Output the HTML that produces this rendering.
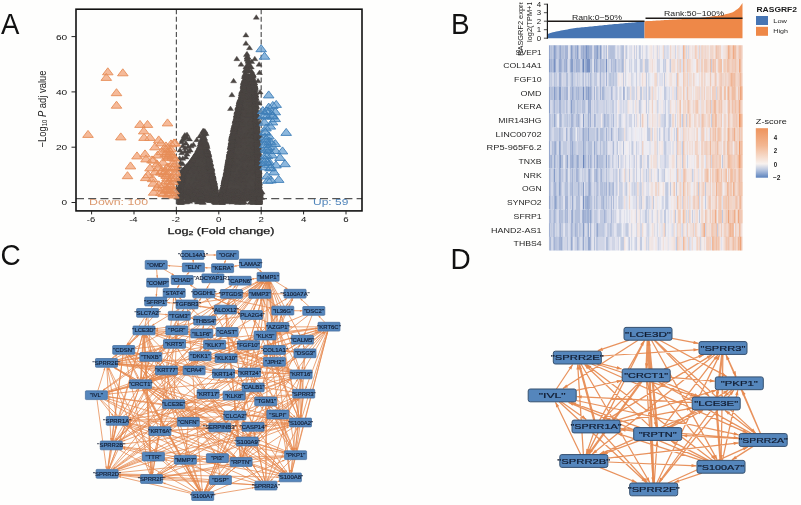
<!DOCTYPE html>
<html lang="en"><head><meta charset="utf-8"><title>Figure</title>
<style>
html,body{margin:0;padding:0;background:#fefefd;}
body{width:801px;height:505px;overflow:hidden;}
svg{display:block;font-family:'Liberation Sans', sans-serif;}
</style></head><body>
<svg width="801" height="505" viewBox="0 0 801 505">
<rect width="801" height="505" fill="#fefefd"/>
<filter id="soft" x="0" y="0" width="100%" height="100%" filterUnits="userSpaceOnUse" color-interpolation-filters="sRGB"><feGaussianBlur stdDeviation="0.45"/></filter>
<g filter="url(#soft)">
<text x="1" y="33.6" font-size="29" fill="#111" textLength="18.4" lengthAdjust="spacingAndGlyphs">A</text>
<text x="450.9" y="33.8" font-size="29" fill="#111" textLength="18.6" lengthAdjust="spacingAndGlyphs">B</text>
<text x="0.5" y="264.6" font-size="29" fill="#111" textLength="20.2" lengthAdjust="spacingAndGlyphs">C</text>
<text x="450.5" y="268.7" font-size="29" fill="#111" textLength="20.2" lengthAdjust="spacingAndGlyphs">D</text>
<g id="volcano">
<clipPath id="vc"><rect x="76" y="9.2" width="286" height="201.70000000000002"/></clipPath>
<line x1="176.4" y1="9.2" x2="176.4" y2="210.9" stroke="#555" stroke-width="1.2" stroke-dasharray="5,2.6"/>
<line x1="261.2" y1="9.2" x2="261.2" y2="210.9" stroke="#555" stroke-width="1.2" stroke-dasharray="5,2.6"/>
<line x1="76" y1="198.6" x2="362" y2="198.6" stroke="#555" stroke-width="1.2" stroke-dasharray="8,4.2"/>
<g clip-path="url(#vc)">
<polygon points="222.2,195.6 222.3,192.8 222.5,190.1 223.1,187.3 223.7,184.5 224.3,181.8 225.0,179.0 225.6,176.2 226.2,173.5 226.7,170.7 227.2,167.9 227.7,165.2 228.2,162.4 228.7,159.6 229.2,156.9 229.6,154.1 230.0,151.3 230.4,148.6 230.8,145.8 231.2,143.1 231.6,140.3 232.0,137.5 232.6,134.8 233.1,132.0 233.7,129.2 234.3,126.5 234.8,123.7 235.4,120.9 236.0,118.2 236.5,115.4 237.1,112.6 237.7,109.9 238.3,107.1 239.0,104.3 239.6,101.6 240.3,98.8 241.0,96.0 241.7,93.3 242.4,90.5 243.0,87.8 243.4,85.0 243.9,82.2 244.3,79.5 244.7,76.7 245.1,73.9 252.6,73.9 253.1,76.7 253.6,79.5 254.0,82.2 254.5,85.0 255.0,87.8 255.2,90.5 255.3,93.3 255.5,96.0 255.6,98.8 255.7,101.6 255.9,104.3 256.0,107.1 256.2,109.9 256.3,112.6 256.4,115.4 256.5,118.2 256.6,120.9 256.7,123.7 256.8,126.5 256.9,129.2 257.1,132.0 257.2,134.8 257.4,137.5 257.5,140.3 257.7,143.1 257.8,145.8 257.9,148.6 258.1,151.3 258.1,154.1 258.2,156.9 258.3,159.6 258.4,162.4 258.4,165.2 258.5,167.9 258.6,170.7 258.7,173.5 258.8,176.2 258.8,179.0 258.9,181.8 259.0,184.5 259.1,187.3 259.1,190.1 259.2,192.8 259.2,195.6" fill="#4b4643"/>
<polygon points="179.9,195.6 180.0,192.8 180.0,190.1 180.1,187.3 180.1,184.5 180.1,181.8 180.2,179.0 180.6,176.2 181.5,173.5 182.3,170.7 184.9,167.9 187.4,165.2 189.7,162.4 191.7,159.6 193.6,156.9 195.4,154.1 197.0,151.3 198.3,148.6 199.3,145.8 200.3,143.1 201.4,140.3 205.9,140.3 206.5,143.1 207.1,145.8 207.6,148.6 208.2,151.3 208.7,154.1 209.3,156.9 209.8,159.6 210.4,162.4 211.0,165.2 211.5,167.9 212.1,170.7 212.7,173.5 213.2,176.2 213.8,179.0 214.3,181.8 214.9,184.5 215.4,187.3 216.0,190.1 216.0,192.8 216.0,195.6" fill="#4b4643"/>
<path d="M179.6 192.8L179.6 197.2Q218.8 208.6 260.1 197.2L260.1 192.8z" fill="#4b4643"/>
<path d="M225.1 163.7l3-4.5 3 4.5zM226.3 157.5l3-4.5 3 4.5zM256.3 201.1l3-4.5 3 4.5zM240.5 84.5l3-4.5 3 4.5zM245.1 117.1l3-4.5 3 4.5zM244.9 59.3l3-4.5 3 4.5zM230.2 165.9l3-4.5 3 4.5zM253.2 115.3l3-4.5 3 4.5zM219.1 198.3l3-4.5 3 4.5zM254.6 165.1l3-4.5 3 4.5zM246.4 167.1l3-4.5 3 4.5zM253.2 125.6l3-4.5 3 4.5zM254.9 165.1l3-4.5 3 4.5zM245.7 82.3l3-4.5 3 4.5zM241.2 85.3l3-4.5 3 4.5zM228.9 143.1l3-4.5 3 4.5zM223.7 198.7l3-4.5 3 4.5zM228.9 153.8l3-4.5 3 4.5zM254.8 170.2l3-4.5 3 4.5zM221.4 187.5l3-4.5 3 4.5zM255.6 176.5l3-4.5 3 4.5zM255.0 149.6l3-4.5 3 4.5zM248.3 199.3l3-4.5 3 4.5zM252.2 89.3l3-4.5 3 4.5zM256.3 193.5l3-4.5 3 4.5zM220.5 186.1l3-4.5 3 4.5zM219.2 204.5l3-4.5 3 4.5zM249.7 76.6l3-4.5 3 4.5zM253.8 142.5l3-4.5 3 4.5zM219.1 193.7l3-4.5 3 4.5zM238.7 202.5l3-4.5 3 4.5zM232.0 130.5l3-4.5 3 4.5zM239.6 185.4l3-4.5 3 4.5zM226.0 162.8l3-4.5 3 4.5zM248.9 88.0l3-4.5 3 4.5zM252.3 134.5l3-4.5 3 4.5zM218.7 202.1l3-4.5 3 4.5zM227.3 157.7l3-4.5 3 4.5zM222.7 181.5l3-4.5 3 4.5zM253.6 140.4l3-4.5 3 4.5zM255.3 195.8l3-4.5 3 4.5zM229.2 140.6l3-4.5 3 4.5zM254.9 162.4l3-4.5 3 4.5zM247.5 152.2l3-4.5 3 4.5zM220.6 190.6l3-4.5 3 4.5zM247.7 84.6l3-4.5 3 4.5zM231.5 129.6l3-4.5 3 4.5zM243.4 77.0l3-4.5 3 4.5zM255.8 175.5l3-4.5 3 4.5zM227.8 149.6l3-4.5 3 4.5zM254.2 137.0l3-4.5 3 4.5zM256.7 203.0l3-4.5 3 4.5zM256.3 184.7l3-4.5 3 4.5zM231.9 128.4l3-4.5 3 4.5zM256.4 193.2l3-4.5 3 4.5zM240.1 170.4l3-4.5 3 4.5zM254.3 136.4l3-4.5 3 4.5zM219.9 197.2l3-4.5 3 4.5zM235.9 111.9l3-4.5 3 4.5zM229.8 134.8l3-4.5 3 4.5zM256.0 202.9l3-4.5 3 4.5zM219.3 203.0l3-4.5 3 4.5zM229.0 200.9l3-4.5 3 4.5zM250.2 149.1l3-4.5 3 4.5zM240.8 187.7l3-4.5 3 4.5zM219.6 195.2l3-4.5 3 4.5zM228.4 148.6l3-4.5 3 4.5zM221.4 195.9l3-4.5 3 4.5zM228.3 144.3l3-4.5 3 4.5zM243.8 67.7l3-4.5 3 4.5zM221.1 186.2l3-4.5 3 4.5zM224.6 165.4l3-4.5 3 4.5zM221.6 184.0l3-4.5 3 4.5zM223.2 174.1l3-4.5 3 4.5zM231.2 141.1l3-4.5 3 4.5zM254.1 147.6l3-4.5 3 4.5zM254.6 153.5l3-4.5 3 4.5zM247.4 83.6l3-4.5 3 4.5zM227.8 160.2l3-4.5 3 4.5zM228.5 197.4l3-4.5 3 4.5zM251.7 195.8l3-4.5 3 4.5zM224.1 169.7l3-4.5 3 4.5zM254.5 204.4l3-4.5 3 4.5zM229.2 136.8l3-4.5 3 4.5zM256.6 195.2l3-4.5 3 4.5zM218.7 202.6l3-4.5 3 4.5zM249.7 136.5l3-4.5 3 4.5zM247.0 124.1l3-4.5 3 4.5zM224.0 177.0l3-4.5 3 4.5zM226.4 158.3l3-4.5 3 4.5zM252.9 117.3l3-4.5 3 4.5zM247.1 204.3l3-4.5 3 4.5zM253.1 131.7l3-4.5 3 4.5zM219.4 197.0l3-4.5 3 4.5zM255.4 180.3l3-4.5 3 4.5zM254.9 155.0l3-4.5 3 4.5zM235.0 114.7l3-4.5 3 4.5zM233.1 173.6l3-4.5 3 4.5zM218.7 203.5l3-4.5 3 4.5zM236.1 109.4l3-4.5 3 4.5zM253.6 142.7l3-4.5 3 4.5zM245.4 85.7l3-4.5 3 4.5zM229.1 179.7l3-4.5 3 4.5zM255.3 188.7l3-4.5 3 4.5zM238.3 189.9l3-4.5 3 4.5zM236.7 104.9l3-4.5 3 4.5zM256.1 204.3l3-4.5 3 4.5zM224.8 166.8l3-4.5 3 4.5zM250.6 204.4l3-4.5 3 4.5zM243.6 153.5l3-4.5 3 4.5zM227.9 148.2l3-4.5 3 4.5zM229.7 193.7l3-4.5 3 4.5zM223.6 174.3l3-4.5 3 4.5zM235.8 199.8l3-4.5 3 4.5zM233.7 114.4l3-4.5 3 4.5zM255.5 167.0l3-4.5 3 4.5zM238.9 180.0l3-4.5 3 4.5zM245.5 71.2l3-4.5 3 4.5zM219.2 195.1l3-4.5 3 4.5zM224.4 175.7l3-4.5 3 4.5zM254.6 150.5l3-4.5 3 4.5zM256.3 190.7l3-4.5 3 4.5zM241.4 78.5l3-4.5 3 4.5zM245.1 63.1l3-4.5 3 4.5zM244.2 103.9l3-4.5 3 4.5zM256.1 204.5l3-4.5 3 4.5zM251.2 84.7l3-4.5 3 4.5zM220.2 192.8l3-4.5 3 4.5zM253.6 143.8l3-4.5 3 4.5zM248.3 68.9l3-4.5 3 4.5zM255.9 173.9l3-4.5 3 4.5zM254.1 133.4l3-4.5 3 4.5zM255.4 177.8l3-4.5 3 4.5zM228.4 141.0l3-4.5 3 4.5zM226.6 166.0l3-4.5 3 4.5zM223.6 177.4l3-4.5 3 4.5zM254.8 149.4l3-4.5 3 4.5zM231.8 165.4l3-4.5 3 4.5zM239.1 95.5l3-4.5 3 4.5zM255.9 177.9l3-4.5 3 4.5zM220.2 188.7l3-4.5 3 4.5zM252.1 153.4l3-4.5 3 4.5zM238.0 97.9l3-4.5 3 4.5zM225.8 162.5l3-4.5 3 4.5zM255.5 170.0l3-4.5 3 4.5zM256.1 180.0l3-4.5 3 4.5zM250.7 85.3l3-4.5 3 4.5zM256.1 201.8l3-4.5 3 4.5zM220.0 201.4l3-4.5 3 4.5zM252.7 173.2l3-4.5 3 4.5zM243.6 171.0l3-4.5 3 4.5zM220.7 202.4l3-4.5 3 4.5zM226.8 154.5l3-4.5 3 4.5zM233.6 138.2l3-4.5 3 4.5zM249.4 99.1l3-4.5 3 4.5zM226.0 163.1l3-4.5 3 4.5zM230.1 181.4l3-4.5 3 4.5zM255.5 201.5l3-4.5 3 4.5zM244.4 58.6l3-4.5 3 4.5zM256.3 194.4l3-4.5 3 4.5zM254.4 149.9l3-4.5 3 4.5zM247.8 97.6l3-4.5 3 4.5zM241.5 82.2l3-4.5 3 4.5zM223.3 174.5l3-4.5 3 4.5zM230.0 136.1l3-4.5 3 4.5zM236.0 113.0l3-4.5 3 4.5zM250.8 85.8l3-4.5 3 4.5zM225.0 168.0l3-4.5 3 4.5zM228.1 145.0l3-4.5 3 4.5zM252.0 122.1l3-4.5 3 4.5zM226.3 157.1l3-4.5 3 4.5zM234.6 113.3l3-4.5 3 4.5zM255.5 163.2l3-4.5 3 4.5zM251.8 89.8l3-4.5 3 4.5zM255.4 193.8l3-4.5 3 4.5zM256.0 185.9l3-4.5 3 4.5zM224.6 169.5l3-4.5 3 4.5zM255.4 158.8l3-4.5 3 4.5zM244.0 55.8l3-4.5 3 4.5zM240.0 151.5l3-4.5 3 4.5zM255.5 203.3l3-4.5 3 4.5zM252.4 118.0l3-4.5 3 4.5zM221.8 188.2l3-4.5 3 4.5zM253.9 138.7l3-4.5 3 4.5zM255.6 190.6l3-4.5 3 4.5zM233.4 199.4l3-4.5 3 4.5zM255.9 178.0l3-4.5 3 4.5zM227.2 154.9l3-4.5 3 4.5zM237.4 101.4l3-4.5 3 4.5zM253.9 129.4l3-4.5 3 4.5zM254.2 149.4l3-4.5 3 4.5zM228.1 146.7l3-4.5 3 4.5zM228.8 138.8l3-4.5 3 4.5zM254.9 183.8l3-4.5 3 4.5zM255.7 190.4l3-4.5 3 4.5zM256.2 200.7l3-4.5 3 4.5zM245.2 100.0l3-4.5 3 4.5zM252.6 138.5l3-4.5 3 4.5zM240.2 90.9l3-4.5 3 4.5zM228.3 170.7l3-4.5 3 4.5zM242.9 68.9l3-4.5 3 4.5zM222.0 183.4l3-4.5 3 4.5zM256.0 192.1l3-4.5 3 4.5zM242.6 193.4l3-4.5 3 4.5zM240.8 89.4l3-4.5 3 4.5zM252.7 94.8l3-4.5 3 4.5zM225.1 165.3l3-4.5 3 4.5zM255.1 147.6l3-4.5 3 4.5zM219.6 190.0l3-4.5 3 4.5zM225.9 159.1l3-4.5 3 4.5zM255.7 177.7l3-4.5 3 4.5zM223.9 175.1l3-4.5 3 4.5zM251.9 91.9l3-4.5 3 4.5zM256.0 203.6l3-4.5 3 4.5zM247.8 145.8l3-4.5 3 4.5zM228.2 151.5l3-4.5 3 4.5zM234.0 129.3l3-4.5 3 4.5zM253.4 120.2l3-4.5 3 4.5zM240.3 86.8l3-4.5 3 4.5zM228.3 144.5l3-4.5 3 4.5zM246.4 162.0l3-4.5 3 4.5zM236.6 103.5l3-4.5 3 4.5zM242.0 147.0l3-4.5 3 4.5zM218.7 203.3l3-4.5 3 4.5zM226.0 163.0l3-4.5 3 4.5zM232.0 126.2l3-4.5 3 4.5zM233.4 117.9l3-4.5 3 4.5zM231.9 193.1l3-4.5 3 4.5zM218.9 202.0l3-4.5 3 4.5zM253.7 116.1l3-4.5 3 4.5zM250.3 157.9l3-4.5 3 4.5zM253.4 198.0l3-4.5 3 4.5zM219.3 193.1l3-4.5 3 4.5zM249.5 201.4l3-4.5 3 4.5zM251.5 84.8l3-4.5 3 4.5zM238.4 96.0l3-4.5 3 4.5zM227.3 148.9l3-4.5 3 4.5zM244.9 136.6l3-4.5 3 4.5zM255.2 150.5l3-4.5 3 4.5zM225.3 195.0l3-4.5 3 4.5zM255.5 180.8l3-4.5 3 4.5zM254.6 138.6l3-4.5 3 4.5zM233.4 160.3l3-4.5 3 4.5zM224.4 169.4l3-4.5 3 4.5zM229.2 137.5l3-4.5 3 4.5zM246.7 105.9l3-4.5 3 4.5zM255.2 152.3l3-4.5 3 4.5zM219.8 195.6l3-4.5 3 4.5zM239.7 172.3l3-4.5 3 4.5zM252.6 96.8l3-4.5 3 4.5zM225.7 163.3l3-4.5 3 4.5zM255.3 185.1l3-4.5 3 4.5zM233.3 124.8l3-4.5 3 4.5zM221.7 182.2l3-4.5 3 4.5zM220.9 186.2l3-4.5 3 4.5zM255.1 193.7l3-4.5 3 4.5zM227.6 147.2l3-4.5 3 4.5zM219.1 193.1l3-4.5 3 4.5zM252.4 90.5l3-4.5 3 4.5zM253.0 116.4l3-4.5 3 4.5zM244.1 98.7l3-4.5 3 4.5zM252.0 97.4l3-4.5 3 4.5zM255.8 194.2l3-4.5 3 4.5zM253.2 103.3l3-4.5 3 4.5zM252.9 118.1l3-4.5 3 4.5zM229.7 138.8l3-4.5 3 4.5zM254.3 186.2l3-4.5 3 4.5zM255.3 193.8l3-4.5 3 4.5zM252.1 102.6l3-4.5 3 4.5zM232.9 150.9l3-4.5 3 4.5zM227.0 159.1l3-4.5 3 4.5zM227.5 152.5l3-4.5 3 4.5zM226.1 159.5l3-4.5 3 4.5zM245.6 98.6l3-4.5 3 4.5zM251.6 87.4l3-4.5 3 4.5zM231.8 127.5l3-4.5 3 4.5zM245.6 85.9l3-4.5 3 4.5zM233.7 159.2l3-4.5 3 4.5zM256.0 173.7l3-4.5 3 4.5zM223.9 169.8l3-4.5 3 4.5zM254.0 140.4l3-4.5 3 4.5zM234.3 116.2l3-4.5 3 4.5zM245.4 63.4l3-4.5 3 4.5zM239.2 92.9l3-4.5 3 4.5zM230.9 128.6l3-4.5 3 4.5zM256.2 198.8l3-4.5 3 4.5zM253.1 138.6l3-4.5 3 4.5zM234.5 115.8l3-4.5 3 4.5zM254.4 135.6l3-4.5 3 4.5zM254.2 157.5l3-4.5 3 4.5zM255.0 147.1l3-4.5 3 4.5zM240.8 84.5l3-4.5 3 4.5zM255.2 171.1l3-4.5 3 4.5zM240.5 112.8l3-4.5 3 4.5zM254.9 167.2l3-4.5 3 4.5zM245.6 101.7l3-4.5 3 4.5zM225.4 167.0l3-4.5 3 4.5zM252.6 119.7l3-4.5 3 4.5zM230.7 143.7l3-4.5 3 4.5zM253.4 201.1l3-4.5 3 4.5zM249.3 157.1l3-4.5 3 4.5zM223.8 173.1l3-4.5 3 4.5zM254.5 164.4l3-4.5 3 4.5zM232.7 126.7l3-4.5 3 4.5zM251.2 87.3l3-4.5 3 4.5zM222.1 179.4l3-4.5 3 4.5zM255.1 204.2l3-4.5 3 4.5zM229.1 175.3l3-4.5 3 4.5zM256.4 195.8l3-4.5 3 4.5zM246.7 173.6l3-4.5 3 4.5zM255.8 203.3l3-4.5 3 4.5zM218.9 196.4l3-4.5 3 4.5zM229.1 139.3l3-4.5 3 4.5zM255.2 157.9l3-4.5 3 4.5zM254.9 149.7l3-4.5 3 4.5zM233.2 126.8l3-4.5 3 4.5zM241.0 87.7l3-4.5 3 4.5zM254.7 172.4l3-4.5 3 4.5zM249.5 200.6l3-4.5 3 4.5zM251.4 87.8l3-4.5 3 4.5zM235.5 128.8l3-4.5 3 4.5zM251.9 90.4l3-4.5 3 4.5zM221.8 182.5l3-4.5 3 4.5zM253.0 127.2l3-4.5 3 4.5zM220.8 187.8l3-4.5 3 4.5zM236.5 116.3l3-4.5 3 4.5zM255.7 160.6l3-4.5 3 4.5zM251.6 201.5l3-4.5 3 4.5zM252.2 94.4l3-4.5 3 4.5zM219.6 201.0l3-4.5 3 4.5zM220.5 195.9l3-4.5 3 4.5zM254.7 173.2l3-4.5 3 4.5zM253.8 153.5l3-4.5 3 4.5zM252.8 159.6l3-4.5 3 4.5zM245.6 200.1l3-4.5 3 4.5zM236.0 109.2l3-4.5 3 4.5zM238.4 95.9l3-4.5 3 4.5zM229.1 140.1l3-4.5 3 4.5zM255.1 188.5l3-4.5 3 4.5zM227.1 201.2l3-4.5 3 4.5zM242.7 77.8l3-4.5 3 4.5zM239.8 161.4l3-4.5 3 4.5zM219.9 188.6l3-4.5 3 4.5zM252.1 103.2l3-4.5 3 4.5zM228.3 150.7l3-4.5 3 4.5zM221.1 192.2l3-4.5 3 4.5zM235.4 110.6l3-4.5 3 4.5zM224.2 169.1l3-4.5 3 4.5zM229.9 198.9l3-4.5 3 4.5zM231.6 203.2l3-4.5 3 4.5zM238.7 204.4l3-4.5 3 4.5zM233.5 147.1l3-4.5 3 4.5zM220.5 189.2l3-4.5 3 4.5zM236.5 103.5l3-4.5 3 4.5zM229.1 137.9l3-4.5 3 4.5zM249.9 119.5l3-4.5 3 4.5zM221.7 180.7l3-4.5 3 4.5zM231.4 199.1l3-4.5 3 4.5zM235.4 140.8l3-4.5 3 4.5zM256.0 204.2l3-4.5 3 4.5zM236.6 164.1l3-4.5 3 4.5zM254.9 198.5l3-4.5 3 4.5zM253.0 135.2l3-4.5 3 4.5zM227.1 202.8l3-4.5 3 4.5zM219.0 193.6l3-4.5 3 4.5zM235.9 105.6l3-4.5 3 4.5zM252.7 121.6l3-4.5 3 4.5zM229.3 137.1l3-4.5 3 4.5zM228.3 151.6l3-4.5 3 4.5zM249.5 82.4l3-4.5 3 4.5zM224.0 175.5l3-4.5 3 4.5zM255.8 174.3l3-4.5 3 4.5zM254.8 157.7l3-4.5 3 4.5zM219.0 202.8l3-4.5 3 4.5zM255.8 172.0l3-4.5 3 4.5zM234.0 118.1l3-4.5 3 4.5zM235.4 147.4l3-4.5 3 4.5zM235.6 113.9l3-4.5 3 4.5zM254.8 171.6l3-4.5 3 4.5zM220.5 187.9l3-4.5 3 4.5zM224.5 168.8l3-4.5 3 4.5zM245.0 130.0l3-4.5 3 4.5zM234.1 113.5l3-4.5 3 4.5zM253.0 119.5l3-4.5 3 4.5zM223.7 175.3l3-4.5 3 4.5zM256.6 203.6l3-4.5 3 4.5zM255.4 175.8l3-4.5 3 4.5zM229.2 167.8l3-4.5 3 4.5zM250.2 77.1l3-4.5 3 4.5zM230.6 146.4l3-4.5 3 4.5zM252.5 109.4l3-4.5 3 4.5zM249.2 99.1l3-4.5 3 4.5zM251.4 91.5l3-4.5 3 4.5zM253.0 123.8l3-4.5 3 4.5zM247.3 91.7l3-4.5 3 4.5zM254.8 144.5l3-4.5 3 4.5zM255.1 168.1l3-4.5 3 4.5zM245.9 91.1l3-4.5 3 4.5zM221.3 183.2l3-4.5 3 4.5zM252.5 125.4l3-4.5 3 4.5zM250.6 81.7l3-4.5 3 4.5zM248.9 137.6l3-4.5 3 4.5zM255.5 158.7l3-4.5 3 4.5zM255.4 152.3l3-4.5 3 4.5zM227.5 149.3l3-4.5 3 4.5zM254.4 135.4l3-4.5 3 4.5zM234.7 115.7l3-4.5 3 4.5zM236.2 106.9l3-4.5 3 4.5zM255.5 171.9l3-4.5 3 4.5zM219.2 193.1l3-4.5 3 4.5zM244.9 133.7l3-4.5 3 4.5zM218.9 198.4l3-4.5 3 4.5zM226.4 159.3l3-4.5 3 4.5zM240.8 194.0l3-4.5 3 4.5zM253.4 144.9l3-4.5 3 4.5zM224.5 174.3l3-4.5 3 4.5zM256.0 175.2l3-4.5 3 4.5zM223.2 175.1l3-4.5 3 4.5zM255.5 168.4l3-4.5 3 4.5zM254.2 132.0l3-4.5 3 4.5zM251.4 84.7l3-4.5 3 4.5zM221.3 182.2l3-4.5 3 4.5zM225.6 161.1l3-4.5 3 4.5zM219.1 194.8l3-4.5 3 4.5zM242.3 82.9l3-4.5 3 4.5zM239.2 180.0l3-4.5 3 4.5zM253.4 123.5l3-4.5 3 4.5zM232.8 120.2l3-4.5 3 4.5zM230.7 130.6l3-4.5 3 4.5zM254.8 154.7l3-4.5 3 4.5zM219.2 195.6l3-4.5 3 4.5zM254.9 164.1l3-4.5 3 4.5zM229.7 137.2l3-4.5 3 4.5zM225.5 165.5l3-4.5 3 4.5zM249.0 151.9l3-4.5 3 4.5zM242.2 78.8l3-4.5 3 4.5zM252.9 108.7l3-4.5 3 4.5zM255.5 159.5l3-4.5 3 4.5zM237.8 99.9l3-4.5 3 4.5zM220.8 186.1l3-4.5 3 4.5zM226.8 155.3l3-4.5 3 4.5zM250.0 82.4l3-4.5 3 4.5zM255.2 147.2l3-4.5 3 4.5zM238.9 92.9l3-4.5 3 4.5zM247.6 179.7l3-4.5 3 4.5zM242.2 84.2l3-4.5 3 4.5zM221.0 190.5l3-4.5 3 4.5zM231.1 130.4l3-4.5 3 4.5zM255.4 158.7l3-4.5 3 4.5zM252.5 104.3l3-4.5 3 4.5zM254.2 175.3l3-4.5 3 4.5zM228.8 167.2l3-4.5 3 4.5zM241.9 162.3l3-4.5 3 4.5zM255.7 185.1l3-4.5 3 4.5zM250.4 143.2l3-4.5 3 4.5zM255.8 168.6l3-4.5 3 4.5zM237.0 181.4l3-4.5 3 4.5zM255.5 163.6l3-4.5 3 4.5zM223.2 185.3l3-4.5 3 4.5zM255.8 195.9l3-4.5 3 4.5zM256.4 192.9l3-4.5 3 4.5zM254.4 182.4l3-4.5 3 4.5zM246.6 117.1l3-4.5 3 4.5zM223.0 174.7l3-4.5 3 4.5zM242.9 93.2l3-4.5 3 4.5zM252.2 115.4l3-4.5 3 4.5zM249.1 91.5l3-4.5 3 4.5zM232.4 183.1l3-4.5 3 4.5zM254.0 129.2l3-4.5 3 4.5zM252.3 104.5l3-4.5 3 4.5zM229.4 137.3l3-4.5 3 4.5zM236.4 107.4l3-4.5 3 4.5zM251.2 204.3l3-4.5 3 4.5zM227.5 148.6l3-4.5 3 4.5zM254.1 134.9l3-4.5 3 4.5zM242.2 84.6l3-4.5 3 4.5zM254.3 145.9l3-4.5 3 4.5zM221.8 181.7l3-4.5 3 4.5zM234.2 118.4l3-4.5 3 4.5zM233.4 120.1l3-4.5 3 4.5zM219.2 202.1l3-4.5 3 4.5zM228.2 145.3l3-4.5 3 4.5zM254.6 150.0l3-4.5 3 4.5zM227.4 153.0l3-4.5 3 4.5zM228.5 192.4l3-4.5 3 4.5zM231.6 132.4l3-4.5 3 4.5zM231.1 128.8l3-4.5 3 4.5zM232.1 123.4l3-4.5 3 4.5zM255.9 197.1l3-4.5 3 4.5zM237.0 101.9l3-4.5 3 4.5zM221.8 189.3l3-4.5 3 4.5zM226.6 156.6l3-4.5 3 4.5zM237.3 108.6l3-4.5 3 4.5zM248.6 99.3l3-4.5 3 4.5zM233.2 120.9l3-4.5 3 4.5zM240.9 88.5l3-4.5 3 4.5zM255.7 182.0l3-4.5 3 4.5zM256.3 183.0l3-4.5 3 4.5zM252.3 107.5l3-4.5 3 4.5zM252.4 107.1l3-4.5 3 4.5zM226.8 161.0l3-4.5 3 4.5zM244.2 153.4l3-4.5 3 4.5zM225.1 162.9l3-4.5 3 4.5zM232.3 123.2l3-4.5 3 4.5zM253.4 125.2l3-4.5 3 4.5zM256.6 204.1l3-4.5 3 4.5zM224.3 171.0l3-4.5 3 4.5zM254.3 132.8l3-4.5 3 4.5zM251.3 127.8l3-4.5 3 4.5zM253.8 116.2l3-4.5 3 4.5zM251.9 169.7l3-4.5 3 4.5zM235.1 108.5l3-4.5 3 4.5zM252.4 115.9l3-4.5 3 4.5zM254.2 140.1l3-4.5 3 4.5zM222.7 176.3l3-4.5 3 4.5zM255.0 144.4l3-4.5 3 4.5zM225.0 166.8l3-4.5 3 4.5zM243.1 161.3l3-4.5 3 4.5zM255.5 183.9l3-4.5 3 4.5zM229.2 148.2l3-4.5 3 4.5zM242.3 72.4l3-4.5 3 4.5zM220.6 185.8l3-4.5 3 4.5zM255.7 181.0l3-4.5 3 4.5zM234.1 113.8l3-4.5 3 4.5zM251.9 196.4l3-4.5 3 4.5zM221.8 189.4l3-4.5 3 4.5zM253.4 113.7l3-4.5 3 4.5zM225.5 161.6l3-4.5 3 4.5zM255.6 162.1l3-4.5 3 4.5zM254.1 173.2l3-4.5 3 4.5zM237.1 101.5l3-4.5 3 4.5zM254.4 149.0l3-4.5 3 4.5zM232.9 121.3l3-4.5 3 4.5zM248.3 173.1l3-4.5 3 4.5zM255.1 165.8l3-4.5 3 4.5zM255.5 170.2l3-4.5 3 4.5zM254.7 141.0l3-4.5 3 4.5zM232.7 158.0l3-4.5 3 4.5zM219.1 195.1l3-4.5 3 4.5zM226.6 157.6l3-4.5 3 4.5zM221.6 186.1l3-4.5 3 4.5zM239.4 175.2l3-4.5 3 4.5zM239.4 160.7l3-4.5 3 4.5zM228.5 152.2l3-4.5 3 4.5zM253.8 151.0l3-4.5 3 4.5zM222.6 177.8l3-4.5 3 4.5zM227.9 147.4l3-4.5 3 4.5zM231.1 167.3l3-4.5 3 4.5zM251.7 186.8l3-4.5 3 4.5zM242.1 97.0l3-4.5 3 4.5zM232.8 139.4l3-4.5 3 4.5zM252.6 121.9l3-4.5 3 4.5zM224.3 203.8l3-4.5 3 4.5zM219.0 194.2l3-4.5 3 4.5zM220.1 195.1l3-4.5 3 4.5zM236.0 107.1l3-4.5 3 4.5zM219.0 193.3l3-4.5 3 4.5zM228.5 164.7l3-4.5 3 4.5zM255.9 189.5l3-4.5 3 4.5zM251.8 99.2l3-4.5 3 4.5zM255.0 159.3l3-4.5 3 4.5zM244.4 60.8l3-4.5 3 4.5zM223.8 172.1l3-4.5 3 4.5zM253.9 135.9l3-4.5 3 4.5zM253.1 107.4l3-4.5 3 4.5zM252.6 129.6l3-4.5 3 4.5zM226.9 152.6l3-4.5 3 4.5zM256.1 204.1l3-4.5 3 4.5zM255.6 173.5l3-4.5 3 4.5zM248.4 191.9l3-4.5 3 4.5zM256.2 199.8l3-4.5 3 4.5zM252.8 114.1l3-4.5 3 4.5zM245.4 97.9l3-4.5 3 4.5zM252.7 98.3l3-4.5 3 4.5zM253.1 119.5l3-4.5 3 4.5zM253.6 116.9l3-4.5 3 4.5zM254.0 132.7l3-4.5 3 4.5zM240.8 86.8l3-4.5 3 4.5zM255.3 200.5l3-4.5 3 4.5zM240.5 86.0l3-4.5 3 4.5zM241.3 158.9l3-4.5 3 4.5zM256.1 195.4l3-4.5 3 4.5zM256.2 187.7l3-4.5 3 4.5zM230.2 134.0l3-4.5 3 4.5zM219.2 203.1l3-4.5 3 4.5zM218.9 198.9l3-4.5 3 4.5zM225.9 175.3l3-4.5 3 4.5zM253.0 118.7l3-4.5 3 4.5zM236.5 103.4l3-4.5 3 4.5zM240.8 113.8l3-4.5 3 4.5zM252.8 103.5l3-4.5 3 4.5zM252.1 96.3l3-4.5 3 4.5zM248.4 137.7l3-4.5 3 4.5zM252.4 122.7l3-4.5 3 4.5zM240.0 141.3l3-4.5 3 4.5zM246.3 135.4l3-4.5 3 4.5zM227.1 152.2l3-4.5 3 4.5zM248.9 128.8l3-4.5 3 4.5zM222.3 178.2l3-4.5 3 4.5zM252.5 96.7l3-4.5 3 4.5zM243.9 108.5l3-4.5 3 4.5zM229.0 204.1l3-4.5 3 4.5zM225.3 165.2l3-4.5 3 4.5zM228.0 149.4l3-4.5 3 4.5zM249.1 77.8l3-4.5 3 4.5zM256.0 199.5l3-4.5 3 4.5zM240.8 181.0l3-4.5 3 4.5zM254.9 165.1l3-4.5 3 4.5zM233.1 170.9l3-4.5 3 4.5zM251.6 88.6l3-4.5 3 4.5zM255.8 197.3l3-4.5 3 4.5zM235.2 109.5l3-4.5 3 4.5zM244.3 69.2l3-4.5 3 4.5zM245.7 173.1l3-4.5 3 4.5zM255.1 199.0l3-4.5 3 4.5zM255.7 176.6l3-4.5 3 4.5zM255.7 187.4l3-4.5 3 4.5zM256.3 201.6l3-4.5 3 4.5zM255.4 177.9l3-4.5 3 4.5zM254.7 148.0l3-4.5 3 4.5zM231.2 133.1l3-4.5 3 4.5zM252.5 97.2l3-4.5 3 4.5zM250.3 78.3l3-4.5 3 4.5zM221.0 189.0l3-4.5 3 4.5zM228.2 145.0l3-4.5 3 4.5zM231.5 183.9l3-4.5 3 4.5zM232.4 128.0l3-4.5 3 4.5zM228.5 143.2l3-4.5 3 4.5zM255.8 194.3l3-4.5 3 4.5zM254.7 156.2l3-4.5 3 4.5zM232.5 185.1l3-4.5 3 4.5zM256.2 191.8l3-4.5 3 4.5zM256.0 191.8l3-4.5 3 4.5zM226.9 157.4l3-4.5 3 4.5zM221.7 180.6l3-4.5 3 4.5zM243.6 139.0l3-4.5 3 4.5zM227.6 177.1l3-4.5 3 4.5zM256.0 201.8l3-4.5 3 4.5zM256.5 195.8l3-4.5 3 4.5zM247.7 122.3l3-4.5 3 4.5zM255.8 174.8l3-4.5 3 4.5zM255.3 150.7l3-4.5 3 4.5zM245.4 174.9l3-4.5 3 4.5zM225.6 160.7l3-4.5 3 4.5zM252.3 137.6l3-4.5 3 4.5zM234.0 115.7l3-4.5 3 4.5zM241.8 81.4l3-4.5 3 4.5zM244.6 186.1l3-4.5 3 4.5zM254.2 189.6l3-4.5 3 4.5zM249.9 98.1l3-4.5 3 4.5zM249.2 147.1l3-4.5 3 4.5zM241.1 167.3l3-4.5 3 4.5zM248.6 192.0l3-4.5 3 4.5zM241.0 82.6l3-4.5 3 4.5zM249.5 153.6l3-4.5 3 4.5zM255.8 204.2l3-4.5 3 4.5zM234.7 192.6l3-4.5 3 4.5zM228.1 143.8l3-4.5 3 4.5zM233.7 118.4l3-4.5 3 4.5zM237.9 171.2l3-4.5 3 4.5zM221.3 183.2l3-4.5 3 4.5zM226.8 158.0l3-4.5 3 4.5zM234.1 136.2l3-4.5 3 4.5zM255.9 186.1l3-4.5 3 4.5zM234.7 144.2l3-4.5 3 4.5zM256.6 193.8l3-4.5 3 4.5zM252.9 135.1l3-4.5 3 4.5zM255.8 196.8l3-4.5 3 4.5zM254.4 137.5l3-4.5 3 4.5zM253.4 108.1l3-4.5 3 4.5zM220.0 201.3l3-4.5 3 4.5zM254.9 188.4l3-4.5 3 4.5zM256.6 200.1l3-4.5 3 4.5zM239.5 95.2l3-4.5 3 4.5zM245.4 149.3l3-4.5 3 4.5zM224.0 170.3l3-4.5 3 4.5zM244.2 84.7l3-4.5 3 4.5zM233.6 134.7l3-4.5 3 4.5zM221.3 185.0l3-4.5 3 4.5zM221.7 181.4l3-4.5 3 4.5zM219.6 192.9l3-4.5 3 4.5zM224.0 171.8l3-4.5 3 4.5zM245.2 144.9l3-4.5 3 4.5zM224.7 165.0l3-4.5 3 4.5zM239.8 110.2l3-4.5 3 4.5zM224.6 172.8l3-4.5 3 4.5zM253.6 126.8l3-4.5 3 4.5zM256.4 197.5l3-4.5 3 4.5zM253.3 109.0l3-4.5 3 4.5zM246.4 114.4l3-4.5 3 4.5zM238.7 98.5l3-4.5 3 4.5zM239.8 183.0l3-4.5 3 4.5zM237.1 110.4l3-4.5 3 4.5zM255.7 198.0l3-4.5 3 4.5zM250.0 80.3l3-4.5 3 4.5zM242.1 75.8l3-4.5 3 4.5zM255.4 197.8l3-4.5 3 4.5zM223.7 170.9l3-4.5 3 4.5zM231.1 197.2l3-4.5 3 4.5zM233.6 116.9l3-4.5 3 4.5zM255.2 198.7l3-4.5 3 4.5zM240.9 84.4l3-4.5 3 4.5zM233.8 116.8l3-4.5 3 4.5zM250.6 87.5l3-4.5 3 4.5zM254.4 136.5l3-4.5 3 4.5zM245.3 116.7l3-4.5 3 4.5zM254.9 197.3l3-4.5 3 4.5zM254.8 144.3l3-4.5 3 4.5zM255.4 182.4l3-4.5 3 4.5zM239.4 181.8l3-4.5 3 4.5zM228.3 181.4l3-4.5 3 4.5zM253.6 127.8l3-4.5 3 4.5zM220.5 198.3l3-4.5 3 4.5zM233.4 116.7l3-4.5 3 4.5zM255.7 185.9l3-4.5 3 4.5zM256.3 184.4l3-4.5 3 4.5zM251.8 88.2l3-4.5 3 4.5zM220.3 190.4l3-4.5 3 4.5zM223.5 173.9l3-4.5 3 4.5zM252.8 103.8l3-4.5 3 4.5zM252.4 100.1l3-4.5 3 4.5zM220.1 203.5l3-4.5 3 4.5zM227.0 155.6l3-4.5 3 4.5zM239.0 200.5l3-4.5 3 4.5zM254.5 163.7l3-4.5 3 4.5zM227.0 155.0l3-4.5 3 4.5zM220.4 190.7l3-4.5 3 4.5zM252.9 104.3l3-4.5 3 4.5zM252.2 106.7l3-4.5 3 4.5zM220.2 198.3l3-4.5 3 4.5zM255.8 177.1l3-4.5 3 4.5zM239.0 98.6l3-4.5 3 4.5zM244.4 59.3l3-4.5 3 4.5zM244.5 69.0l3-4.5 3 4.5zM239.4 96.1l3-4.5 3 4.5zM240.1 87.8l3-4.5 3 4.5zM252.4 193.2l3-4.5 3 4.5zM239.8 204.4l3-4.5 3 4.5zM253.4 136.8l3-4.5 3 4.5zM255.8 199.3l3-4.5 3 4.5zM226.7 152.9l3-4.5 3 4.5zM251.8 87.1l3-4.5 3 4.5zM254.1 130.0l3-4.5 3 4.5zM250.6 100.5l3-4.5 3 4.5zM226.1 157.3l3-4.5 3 4.5zM244.4 58.9l3-4.5 3 4.5zM252.8 106.7l3-4.5 3 4.5zM234.6 146.2l3-4.5 3 4.5zM225.9 160.1l3-4.5 3 4.5zM223.8 170.8l3-4.5 3 4.5zM249.8 93.1l3-4.5 3 4.5zM230.7 193.3l3-4.5 3 4.5zM255.8 186.2l3-4.5 3 4.5zM219.7 195.2l3-4.5 3 4.5zM255.0 184.2l3-4.5 3 4.5zM248.9 107.0l3-4.5 3 4.5zM223.4 173.2l3-4.5 3 4.5zM253.4 112.5l3-4.5 3 4.5zM219.5 197.8l3-4.5 3 4.5zM222.1 188.6l3-4.5 3 4.5zM229.4 170.9l3-4.5 3 4.5zM255.8 166.7l3-4.5 3 4.5zM226.3 161.0l3-4.5 3 4.5zM249.5 177.5l3-4.5 3 4.5zM224.4 170.3l3-4.5 3 4.5zM251.9 112.0l3-4.5 3 4.5zM222.9 183.6l3-4.5 3 4.5zM252.2 113.2l3-4.5 3 4.5zM219.0 198.1l3-4.5 3 4.5zM230.1 157.8l3-4.5 3 4.5zM255.7 174.0l3-4.5 3 4.5zM219.2 192.5l3-4.5 3 4.5zM239.0 94.8l3-4.5 3 4.5zM255.4 178.5l3-4.5 3 4.5zM223.0 176.3l3-4.5 3 4.5zM236.4 103.6l3-4.5 3 4.5zM228.5 140.4l3-4.5 3 4.5zM255.7 197.7l3-4.5 3 4.5zM238.7 192.7l3-4.5 3 4.5zM228.2 185.0l3-4.5 3 4.5zM238.4 172.0l3-4.5 3 4.5zM256.3 197.0l3-4.5 3 4.5zM256.0 180.3l3-4.5 3 4.5zM228.8 140.1l3-4.5 3 4.5zM230.4 131.4l3-4.5 3 4.5zM222.2 183.5l3-4.5 3 4.5zM242.4 72.0l3-4.5 3 4.5zM241.7 182.2l3-4.5 3 4.5zM255.2 152.1l3-4.5 3 4.5zM244.9 138.4l3-4.5 3 4.5zM228.7 143.9l3-4.5 3 4.5zM255.5 160.9l3-4.5 3 4.5zM226.2 156.3l3-4.5 3 4.5zM256.0 173.1l3-4.5 3 4.5zM220.4 187.8l3-4.5 3 4.5zM232.9 124.5l3-4.5 3 4.5zM255.5 185.4l3-4.5 3 4.5zM252.7 111.6l3-4.5 3 4.5zM219.1 193.4l3-4.5 3 4.5zM251.7 87.8l3-4.5 3 4.5zM231.5 126.2l3-4.5 3 4.5zM255.0 157.5l3-4.5 3 4.5zM242.4 197.1l3-4.5 3 4.5zM234.8 110.0l3-4.5 3 4.5zM246.9 109.0l3-4.5 3 4.5zM234.6 176.6l3-4.5 3 4.5zM239.6 94.5l3-4.5 3 4.5zM222.4 179.0l3-4.5 3 4.5zM227.3 149.3l3-4.5 3 4.5zM255.3 184.3l3-4.5 3 4.5zM224.8 167.0l3-4.5 3 4.5zM249.1 76.4l3-4.5 3 4.5zM236.8 131.8l3-4.5 3 4.5zM218.6 204.2l3-4.5 3 4.5zM255.6 172.1l3-4.5 3 4.5zM255.4 192.2l3-4.5 3 4.5zM255.6 162.0l3-4.5 3 4.5zM255.3 149.8l3-4.5 3 4.5zM220.7 186.0l3-4.5 3 4.5zM236.0 106.0l3-4.5 3 4.5zM231.7 127.8l3-4.5 3 4.5zM242.7 88.3l3-4.5 3 4.5zM253.3 111.4l3-4.5 3 4.5zM255.3 182.0l3-4.5 3 4.5zM255.3 173.0l3-4.5 3 4.5zM236.8 101.4l3-4.5 3 4.5zM253.1 115.2l3-4.5 3 4.5zM242.8 71.9l3-4.5 3 4.5zM250.3 177.5l3-4.5 3 4.5zM255.5 199.1l3-4.5 3 4.5zM255.5 199.8l3-4.5 3 4.5zM229.7 143.1l3-4.5 3 4.5zM253.7 136.2l3-4.5 3 4.5zM239.8 93.1l3-4.5 3 4.5zM255.5 154.4l3-4.5 3 4.5zM254.5 164.5l3-4.5 3 4.5zM233.5 118.5l3-4.5 3 4.5zM256.0 190.3l3-4.5 3 4.5zM224.3 167.1l3-4.5 3 4.5zM255.1 195.6l3-4.5 3 4.5zM244.8 61.4l3-4.5 3 4.5zM220.2 197.4l3-4.5 3 4.5zM241.2 83.5l3-4.5 3 4.5zM226.6 161.6l3-4.5 3 4.5zM233.7 120.9l3-4.5 3 4.5zM219.7 190.3l3-4.5 3 4.5zM231.7 193.1l3-4.5 3 4.5zM255.6 173.5l3-4.5 3 4.5zM224.9 164.0l3-4.5 3 4.5zM226.8 161.1l3-4.5 3 4.5zM232.2 125.5l3-4.5 3 4.5zM252.9 120.5l3-4.5 3 4.5zM243.6 80.9l3-4.5 3 4.5zM255.2 159.4l3-4.5 3 4.5zM255.0 150.9l3-4.5 3 4.5zM250.0 100.8l3-4.5 3 4.5zM255.7 189.8l3-4.5 3 4.5zM239.5 200.0l3-4.5 3 4.5zM249.1 161.4l3-4.5 3 4.5zM222.0 179.1l3-4.5 3 4.5zM227.3 202.3l3-4.5 3 4.5zM226.3 197.8l3-4.5 3 4.5zM254.1 152.2l3-4.5 3 4.5zM232.8 125.8l3-4.5 3 4.5zM255.4 201.4l3-4.5 3 4.5zM256.0 194.9l3-4.5 3 4.5zM255.9 178.5l3-4.5 3 4.5zM253.5 155.3l3-4.5 3 4.5zM225.7 166.9l3-4.5 3 4.5zM255.0 182.8l3-4.5 3 4.5zM240.5 183.3l3-4.5 3 4.5zM223.6 180.0l3-4.5 3 4.5zM232.0 127.9l3-4.5 3 4.5zM233.4 121.2l3-4.5 3 4.5zM254.9 149.4l3-4.5 3 4.5zM248.1 161.3l3-4.5 3 4.5zM256.0 173.4l3-4.5 3 4.5zM236.7 121.1l3-4.5 3 4.5zM253.5 171.0l3-4.5 3 4.5zM235.0 109.1l3-4.5 3 4.5zM223.4 174.9l3-4.5 3 4.5zM225.1 166.7l3-4.5 3 4.5zM219.3 195.7l3-4.5 3 4.5zM241.0 139.3l3-4.5 3 4.5zM232.2 122.8l3-4.5 3 4.5zM255.0 148.7l3-4.5 3 4.5zM251.7 100.8l3-4.5 3 4.5zM228.8 147.5l3-4.5 3 4.5zM252.6 111.5l3-4.5 3 4.5zM249.4 157.5l3-4.5 3 4.5zM235.9 109.1l3-4.5 3 4.5zM221.4 183.4l3-4.5 3 4.5zM240.1 88.9l3-4.5 3 4.5zM236.3 157.9l3-4.5 3 4.5zM254.6 162.4l3-4.5 3 4.5zM254.6 156.8l3-4.5 3 4.5zM255.7 186.3l3-4.5 3 4.5zM221.5 182.0l3-4.5 3 4.5zM219.2 198.9l3-4.5 3 4.5zM252.2 102.1l3-4.5 3 4.5zM252.6 96.7l3-4.5 3 4.5zM219.3 190.9l3-4.5 3 4.5zM233.5 116.7l3-4.5 3 4.5zM254.7 147.3l3-4.5 3 4.5zM256.0 176.6l3-4.5 3 4.5zM221.2 184.4l3-4.5 3 4.5zM256.0 198.7l3-4.5 3 4.5zM256.4 201.5l3-4.5 3 4.5zM248.9 75.4l3-4.5 3 4.5zM220.8 188.6l3-4.5 3 4.5zM246.2 88.6l3-4.5 3 4.5zM249.2 171.5l3-4.5 3 4.5zM248.1 85.4l3-4.5 3 4.5zM247.4 196.0l3-4.5 3 4.5zM251.8 95.4l3-4.5 3 4.5zM220.2 193.6l3-4.5 3 4.5zM235.2 113.7l3-4.5 3 4.5zM234.1 112.8l3-4.5 3 4.5zM248.6 126.0l3-4.5 3 4.5zM256.2 188.3l3-4.5 3 4.5zM226.7 155.9l3-4.5 3 4.5zM255.3 201.5l3-4.5 3 4.5zM255.8 201.4l3-4.5 3 4.5zM221.3 183.0l3-4.5 3 4.5zM229.4 137.2l3-4.5 3 4.5zM243.0 178.2l3-4.5 3 4.5zM252.0 93.8l3-4.5 3 4.5zM238.6 98.1l3-4.5 3 4.5zM250.8 85.2l3-4.5 3 4.5zM253.0 108.0l3-4.5 3 4.5zM254.6 141.8l3-4.5 3 4.5zM255.5 157.3l3-4.5 3 4.5zM231.7 129.8l3-4.5 3 4.5zM221.9 180.4l3-4.5 3 4.5zM255.2 158.3l3-4.5 3 4.5zM256.2 180.3l3-4.5 3 4.5zM234.9 109.0l3-4.5 3 4.5zM236.0 148.5l3-4.5 3 4.5zM254.9 203.9l3-4.5 3 4.5zM232.2 123.2l3-4.5 3 4.5zM224.5 183.8l3-4.5 3 4.5zM240.2 171.7l3-4.5 3 4.5zM224.4 171.3l3-4.5 3 4.5zM240.2 186.2l3-4.5 3 4.5zM243.2 72.2l3-4.5 3 4.5zM256.3 187.7l3-4.5 3 4.5zM253.7 125.6l3-4.5 3 4.5zM231.3 130.4l3-4.5 3 4.5zM223.6 175.4l3-4.5 3 4.5zM221.0 183.6l3-4.5 3 4.5zM225.6 162.5l3-4.5 3 4.5zM235.6 135.3l3-4.5 3 4.5zM225.2 166.3l3-4.5 3 4.5zM253.1 104.4l3-4.5 3 4.5zM256.4 198.8l3-4.5 3 4.5zM252.8 102.7l3-4.5 3 4.5zM218.9 204.3l3-4.5 3 4.5zM222.5 181.3l3-4.5 3 4.5zM253.5 171.9l3-4.5 3 4.5zM255.0 152.3l3-4.5 3 4.5zM252.4 130.5l3-4.5 3 4.5zM254.4 136.9l3-4.5 3 4.5zM251.2 86.6l3-4.5 3 4.5zM229.0 139.7l3-4.5 3 4.5zM228.7 146.7l3-4.5 3 4.5zM237.4 102.7l3-4.5 3 4.5zM255.8 200.6l3-4.5 3 4.5zM232.0 126.9l3-4.5 3 4.5zM229.2 139.8l3-4.5 3 4.5zM223.0 178.0l3-4.5 3 4.5zM254.4 136.6l3-4.5 3 4.5zM246.4 170.6l3-4.5 3 4.5zM254.4 135.5l3-4.5 3 4.5zM255.8 179.3l3-4.5 3 4.5zM241.0 96.5l3-4.5 3 4.5zM253.7 115.9l3-4.5 3 4.5zM238.6 201.6l3-4.5 3 4.5zM244.4 60.9l3-4.5 3 4.5zM245.8 89.7l3-4.5 3 4.5zM255.7 171.4l3-4.5 3 4.5zM248.5 73.0l3-4.5 3 4.5zM230.4 165.1l3-4.5 3 4.5zM251.2 169.8l3-4.5 3 4.5zM226.9 156.2l3-4.5 3 4.5zM232.6 122.3l3-4.5 3 4.5zM254.7 153.9l3-4.5 3 4.5zM255.7 162.3l3-4.5 3 4.5zM221.7 182.6l3-4.5 3 4.5zM253.1 181.0l3-4.5 3 4.5zM253.0 123.7l3-4.5 3 4.5zM219.4 201.2l3-4.5 3 4.5zM220.1 191.2l3-4.5 3 4.5zM230.9 175.5l3-4.5 3 4.5zM226.5 155.8l3-4.5 3 4.5zM255.7 199.3l3-4.5 3 4.5zM250.5 117.5l3-4.5 3 4.5zM229.5 154.4l3-4.5 3 4.5zM252.5 96.8l3-4.5 3 4.5zM221.9 179.3l3-4.5 3 4.5zM255.7 195.0l3-4.5 3 4.5zM255.6 185.1l3-4.5 3 4.5zM234.1 179.8l3-4.5 3 4.5zM253.8 119.2l3-4.5 3 4.5zM232.8 195.8l3-4.5 3 4.5zM255.0 161.5l3-4.5 3 4.5zM255.0 158.3l3-4.5 3 4.5zM254.0 145.5l3-4.5 3 4.5zM219.4 202.0l3-4.5 3 4.5zM252.5 108.3l3-4.5 3 4.5zM256.3 184.6l3-4.5 3 4.5zM255.3 173.0l3-4.5 3 4.5zM230.2 135.7l3-4.5 3 4.5zM256.2 189.7l3-4.5 3 4.5zM253.1 108.9l3-4.5 3 4.5zM239.6 126.8l3-4.5 3 4.5zM255.6 201.5l3-4.5 3 4.5zM229.2 171.7l3-4.5 3 4.5zM246.6 146.4l3-4.5 3 4.5zM241.9 78.6l3-4.5 3 4.5zM219.2 197.9l3-4.5 3 4.5zM219.4 191.4l3-4.5 3 4.5zM249.9 169.8l3-4.5 3 4.5zM223.0 177.3l3-4.5 3 4.5zM254.0 129.1l3-4.5 3 4.5zM240.3 142.8l3-4.5 3 4.5zM240.8 83.8l3-4.5 3 4.5zM234.6 178.7l3-4.5 3 4.5zM229.9 137.0l3-4.5 3 4.5zM243.0 98.0l3-4.5 3 4.5zM245.4 160.2l3-4.5 3 4.5zM230.7 133.4l3-4.5 3 4.5zM228.5 159.4l3-4.5 3 4.5zM252.9 115.8l3-4.5 3 4.5zM228.3 146.8l3-4.5 3 4.5zM241.3 173.6l3-4.5 3 4.5zM254.6 146.9l3-4.5 3 4.5zM255.2 150.7l3-4.5 3 4.5zM235.4 178.2l3-4.5 3 4.5zM256.0 183.3l3-4.5 3 4.5zM254.3 146.5l3-4.5 3 4.5zM226.2 203.1l3-4.5 3 4.5zM231.6 166.2l3-4.5 3 4.5zM253.5 113.8l3-4.5 3 4.5zM256.4 198.0l3-4.5 3 4.5zM241.5 77.2l3-4.5 3 4.5zM229.1 138.9l3-4.5 3 4.5zM254.7 143.1l3-4.5 3 4.5zM223.6 177.9l3-4.5 3 4.5zM256.0 192.9l3-4.5 3 4.5zM234.3 201.2l3-4.5 3 4.5zM229.3 153.6l3-4.5 3 4.5zM251.1 83.9l3-4.5 3 4.5zM238.5 151.5l3-4.5 3 4.5zM253.7 127.9l3-4.5 3 4.5zM229.1 141.8l3-4.5 3 4.5zM239.7 103.4l3-4.5 3 4.5zM252.7 112.4l3-4.5 3 4.5zM232.3 122.0l3-4.5 3 4.5zM234.8 110.2l3-4.5 3 4.5zM219.7 197.7l3-4.5 3 4.5zM226.9 157.1l3-4.5 3 4.5zM255.9 191.2l3-4.5 3 4.5zM255.5 164.0l3-4.5 3 4.5zM234.6 153.5l3-4.5 3 4.5zM256.3 200.6l3-4.5 3 4.5zM238.7 95.1l3-4.5 3 4.5zM252.8 134.2l3-4.5 3 4.5zM253.5 127.7l3-4.5 3 4.5zM236.0 145.8l3-4.5 3 4.5zM236.5 103.7l3-4.5 3 4.5zM236.6 102.8l3-4.5 3 4.5zM256.0 190.6l3-4.5 3 4.5zM218.9 196.1l3-4.5 3 4.5zM230.0 134.5l3-4.5 3 4.5zM224.4 175.4l3-4.5 3 4.5zM234.3 194.2l3-4.5 3 4.5zM238.0 123.5l3-4.5 3 4.5zM256.1 182.8l3-4.5 3 4.5zM254.9 170.7l3-4.5 3 4.5zM252.2 88.8l3-4.5 3 4.5zM238.7 136.6l3-4.5 3 4.5zM221.2 184.3l3-4.5 3 4.5zM255.8 193.4l3-4.5 3 4.5zM235.0 182.2l3-4.5 3 4.5zM254.5 156.2l3-4.5 3 4.5zM252.7 113.5l3-4.5 3 4.5zM234.6 142.5l3-4.5 3 4.5zM238.9 171.7l3-4.5 3 4.5zM250.9 157.1l3-4.5 3 4.5zM235.0 110.4l3-4.5 3 4.5zM231.4 126.6l3-4.5 3 4.5zM234.3 162.9l3-4.5 3 4.5zM227.4 153.2l3-4.5 3 4.5zM222.8 177.2l3-4.5 3 4.5zM254.0 124.4l3-4.5 3 4.5zM235.9 169.0l3-4.5 3 4.5zM240.7 86.8l3-4.5 3 4.5zM241.3 182.2l3-4.5 3 4.5zM251.0 86.9l3-4.5 3 4.5zM220.7 193.7l3-4.5 3 4.5zM253.4 145.6l3-4.5 3 4.5zM225.9 164.6l3-4.5 3 4.5zM237.4 108.1l3-4.5 3 4.5zM221.9 184.4l3-4.5 3 4.5zM254.9 203.0l3-4.5 3 4.5zM246.8 80.7l3-4.5 3 4.5zM253.6 138.5l3-4.5 3 4.5zM231.5 136.4l3-4.5 3 4.5zM227.0 162.0l3-4.5 3 4.5zM256.0 199.1l3-4.5 3 4.5zM250.1 82.8l3-4.5 3 4.5zM226.6 154.9l3-4.5 3 4.5zM255.3 156.1l3-4.5 3 4.5zM249.0 193.7l3-4.5 3 4.5zM254.8 192.0l3-4.5 3 4.5zM243.9 200.2l3-4.5 3 4.5zM228.1 155.6l3-4.5 3 4.5zM234.7 118.9l3-4.5 3 4.5zM255.4 201.9l3-4.5 3 4.5zM253.4 117.8l3-4.5 3 4.5zM253.1 132.0l3-4.5 3 4.5zM226.7 164.2l3-4.5 3 4.5zM256.5 201.8l3-4.5 3 4.5zM240.2 177.4l3-4.5 3 4.5zM255.2 163.4l3-4.5 3 4.5zM242.3 92.4l3-4.5 3 4.5zM226.6 154.6l3-4.5 3 4.5zM239.0 93.3l3-4.5 3 4.5zM233.1 138.3l3-4.5 3 4.5zM255.0 152.9l3-4.5 3 4.5zM219.0 198.1l3-4.5 3 4.5zM252.9 105.3l3-4.5 3 4.5zM249.7 178.8l3-4.5 3 4.5zM250.1 204.4l3-4.5 3 4.5zM232.4 126.8l3-4.5 3 4.5zM231.5 130.6l3-4.5 3 4.5zM251.9 105.9l3-4.5 3 4.5zM243.1 92.6l3-4.5 3 4.5zM238.8 169.7l3-4.5 3 4.5zM221.3 186.4l3-4.5 3 4.5zM222.3 197.1l3-4.5 3 4.5zM220.3 195.9l3-4.5 3 4.5zM250.0 76.7l3-4.5 3 4.5zM249.7 90.9l3-4.5 3 4.5zM235.8 105.5l3-4.5 3 4.5zM224.2 168.1l3-4.5 3 4.5zM244.3 169.6l3-4.5 3 4.5zM253.8 155.4l3-4.5 3 4.5zM237.1 126.8l3-4.5 3 4.5zM256.0 193.5l3-4.5 3 4.5zM255.4 186.8l3-4.5 3 4.5zM247.6 98.8l3-4.5 3 4.5zM229.6 134.9l3-4.5 3 4.5zM249.8 202.4l3-4.5 3 4.5zM240.5 84.2l3-4.5 3 4.5zM246.9 181.5l3-4.5 3 4.5zM253.8 150.2l3-4.5 3 4.5zM227.3 157.6l3-4.5 3 4.5zM252.2 134.3l3-4.5 3 4.5zM254.9 159.7l3-4.5 3 4.5zM245.8 65.6l3-4.5 3 4.5zM231.5 127.4l3-4.5 3 4.5zM255.0 146.2l3-4.5 3 4.5zM219.3 200.5l3-4.5 3 4.5zM235.2 112.8l3-4.5 3 4.5zM228.7 139.2l3-4.5 3 4.5zM228.9 145.6l3-4.5 3 4.5zM237.0 183.5l3-4.5 3 4.5zM243.5 160.2l3-4.5 3 4.5zM254.6 153.5l3-4.5 3 4.5zM252.3 132.2l3-4.5 3 4.5zM225.3 162.1l3-4.5 3 4.5zM247.8 77.5l3-4.5 3 4.5zM242.8 159.9l3-4.5 3 4.5zM256.7 201.9l3-4.5 3 4.5zM239.0 94.0l3-4.5 3 4.5zM251.4 96.3l3-4.5 3 4.5zM238.7 93.8l3-4.5 3 4.5zM246.6 111.0l3-4.5 3 4.5zM253.0 100.1l3-4.5 3 4.5zM254.3 131.8l3-4.5 3 4.5zM226.0 160.9l3-4.5 3 4.5zM252.4 100.6l3-4.5 3 4.5zM239.0 97.0l3-4.5 3 4.5zM255.8 173.9l3-4.5 3 4.5zM246.2 169.5l3-4.5 3 4.5zM254.6 173.5l3-4.5 3 4.5zM226.8 162.8l3-4.5 3 4.5zM228.0 147.9l3-4.5 3 4.5zM225.1 165.8l3-4.5 3 4.5zM256.1 191.9l3-4.5 3 4.5zM221.7 183.8l3-4.5 3 4.5zM247.7 133.2l3-4.5 3 4.5zM225.5 162.8l3-4.5 3 4.5zM234.1 120.2l3-4.5 3 4.5zM236.6 105.3l3-4.5 3 4.5zM250.0 83.3l3-4.5 3 4.5zM222.6 182.7l3-4.5 3 4.5zM219.6 191.7l3-4.5 3 4.5zM256.5 194.4l3-4.5 3 4.5zM219.5 190.6l3-4.5 3 4.5zM254.8 161.6l3-4.5 3 4.5zM252.4 160.8l3-4.5 3 4.5zM247.1 93.3l3-4.5 3 4.5zM240.1 154.8l3-4.5 3 4.5zM254.5 166.9l3-4.5 3 4.5zM229.5 138.9l3-4.5 3 4.5zM252.0 100.9l3-4.5 3 4.5zM246.9 68.2l3-4.5 3 4.5zM243.9 68.3l3-4.5 3 4.5zM256.1 204.3l3-4.5 3 4.5zM256.2 200.6l3-4.5 3 4.5zM230.3 138.6l3-4.5 3 4.5zM250.0 76.3l3-4.5 3 4.5zM253.4 143.4l3-4.5 3 4.5zM234.9 135.3l3-4.5 3 4.5zM225.8 163.0l3-4.5 3 4.5zM228.0 149.7l3-4.5 3 4.5zM249.0 105.8l3-4.5 3 4.5zM237.4 100.7l3-4.5 3 4.5zM235.8 122.3l3-4.5 3 4.5zM251.3 84.9l3-4.5 3 4.5zM222.1 179.7l3-4.5 3 4.5zM251.2 92.4l3-4.5 3 4.5zM251.8 96.1l3-4.5 3 4.5zM254.3 148.6l3-4.5 3 4.5zM255.0 153.8l3-4.5 3 4.5zM254.9 145.1l3-4.5 3 4.5zM224.2 175.7l3-4.5 3 4.5zM229.6 142.6l3-4.5 3 4.5zM252.7 103.0l3-4.5 3 4.5zM221.4 198.6l3-4.5 3 4.5zM252.0 111.0l3-4.5 3 4.5zM255.3 194.0l3-4.5 3 4.5zM247.2 174.2l3-4.5 3 4.5zM223.1 177.1l3-4.5 3 4.5zM254.3 162.7l3-4.5 3 4.5zM233.5 120.6l3-4.5 3 4.5zM226.0 160.9l3-4.5 3 4.5zM230.6 134.8l3-4.5 3 4.5zM228.7 170.6l3-4.5 3 4.5zM232.1 146.6l3-4.5 3 4.5zM219.9 190.0l3-4.5 3 4.5zM254.7 151.9l3-4.5 3 4.5zM240.4 174.1l3-4.5 3 4.5zM227.5 155.2l3-4.5 3 4.5zM251.9 105.7l3-4.5 3 4.5zM222.4 180.1l3-4.5 3 4.5zM235.1 204.4l3-4.5 3 4.5zM224.4 172.8l3-4.5 3 4.5zM230.6 129.4l3-4.5 3 4.5zM249.3 160.4l3-4.5 3 4.5zM249.1 74.8l3-4.5 3 4.5zM222.0 185.8l3-4.5 3 4.5zM240.2 96.7l3-4.5 3 4.5zM241.6 81.0l3-4.5 3 4.5zM225.9 169.7l3-4.5 3 4.5zM233.9 119.5l3-4.5 3 4.5zM234.4 147.0l3-4.5 3 4.5zM219.0 192.6l3-4.5 3 4.5zM228.6 142.1l3-4.5 3 4.5zM219.3 203.0l3-4.5 3 4.5zM220.3 190.4l3-4.5 3 4.5zM235.9 107.2l3-4.5 3 4.5zM255.0 187.0l3-4.5 3 4.5zM219.9 189.7l3-4.5 3 4.5zM254.0 129.2l3-4.5 3 4.5zM233.1 125.9l3-4.5 3 4.5zM231.0 194.2l3-4.5 3 4.5zM230.7 131.3l3-4.5 3 4.5zM237.2 143.3l3-4.5 3 4.5zM251.6 135.2l3-4.5 3 4.5zM240.2 88.8l3-4.5 3 4.5zM222.8 181.7l3-4.5 3 4.5zM253.6 132.7l3-4.5 3 4.5zM222.8 195.1l3-4.5 3 4.5zM236.4 106.6l3-4.5 3 4.5zM227.8 176.0l3-4.5 3 4.5zM255.1 152.7l3-4.5 3 4.5zM252.0 107.9l3-4.5 3 4.5zM252.9 103.1l3-4.5 3 4.5zM234.2 113.7l3-4.5 3 4.5zM256.3 196.8l3-4.5 3 4.5zM250.5 196.5l3-4.5 3 4.5zM228.3 145.7l3-4.5 3 4.5zM254.3 160.3l3-4.5 3 4.5zM240.9 84.7l3-4.5 3 4.5zM222.7 178.1l3-4.5 3 4.5zM224.3 170.9l3-4.5 3 4.5zM254.1 127.7l3-4.5 3 4.5zM252.8 99.7l3-4.5 3 4.5zM224.9 169.1l3-4.5 3 4.5zM250.5 86.3l3-4.5 3 4.5zM255.5 171.2l3-4.5 3 4.5zM256.0 204.1l3-4.5 3 4.5zM241.8 81.7l3-4.5 3 4.5zM225.5 166.3l3-4.5 3 4.5zM256.4 198.3l3-4.5 3 4.5zM255.8 172.2l3-4.5 3 4.5zM223.8 173.2l3-4.5 3 4.5zM256.3 197.3l3-4.5 3 4.5zM255.0 151.1l3-4.5 3 4.5zM222.4 181.2l3-4.5 3 4.5zM232.2 125.5l3-4.5 3 4.5zM254.9 150.7l3-4.5 3 4.5zM218.7 204.3l3-4.5 3 4.5zM250.6 87.7l3-4.5 3 4.5zM241.4 204.1l3-4.5 3 4.5zM256.3 203.0l3-4.5 3 4.5zM236.5 123.4l3-4.5 3 4.5zM225.8 163.6l3-4.5 3 4.5zM256.2 186.0l3-4.5 3 4.5zM221.8 183.1l3-4.5 3 4.5zM230.7 144.4l3-4.5 3 4.5zM254.0 141.4l3-4.5 3 4.5zM253.5 120.0l3-4.5 3 4.5zM246.2 72.8l3-4.5 3 4.5zM238.3 116.7l3-4.5 3 4.5zM254.8 146.9l3-4.5 3 4.5zM251.7 98.1l3-4.5 3 4.5zM219.3 197.3l3-4.5 3 4.5zM256.3 202.2l3-4.5 3 4.5zM237.2 150.4l3-4.5 3 4.5zM230.8 130.7l3-4.5 3 4.5zM219.3 204.2l3-4.5 3 4.5zM220.3 201.2l3-4.5 3 4.5zM240.1 87.5l3-4.5 3 4.5zM220.4 188.7l3-4.5 3 4.5zM225.7 165.3l3-4.5 3 4.5zM230.5 132.2l3-4.5 3 4.5zM249.4 192.5l3-4.5 3 4.5zM240.1 90.4l3-4.5 3 4.5zM250.1 194.8l3-4.5 3 4.5zM226.6 176.3l3-4.5 3 4.5zM234.4 204.4l3-4.5 3 4.5zM223.7 177.5l3-4.5 3 4.5zM242.3 137.8l3-4.5 3 4.5zM255.7 161.8l3-4.5 3 4.5zM247.6 165.8l3-4.5 3 4.5zM254.1 151.2l3-4.5 3 4.5zM219.1 194.3l3-4.5 3 4.5zM252.8 100.3l3-4.5 3 4.5zM246.8 101.8l3-4.5 3 4.5zM236.8 116.4l3-4.5 3 4.5zM229.8 135.8l3-4.5 3 4.5zM253.4 131.0l3-4.5 3 4.5zM239.9 123.9l3-4.5 3 4.5zM244.4 58.5l3-4.5 3 4.5zM234.8 112.2l3-4.5 3 4.5zM228.9 138.1l3-4.5 3 4.5zM219.4 204.4l3-4.5 3 4.5zM255.3 163.6l3-4.5 3 4.5zM245.9 82.8l3-4.5 3 4.5zM243.1 73.7l3-4.5 3 4.5zM253.8 118.6l3-4.5 3 4.5zM242.1 78.2l3-4.5 3 4.5zM225.6 160.4l3-4.5 3 4.5zM255.7 172.8l3-4.5 3 4.5zM225.9 193.9l3-4.5 3 4.5zM255.4 170.3l3-4.5 3 4.5zM248.4 133.4l3-4.5 3 4.5zM230.2 131.8l3-4.5 3 4.5zM245.3 159.8l3-4.5 3 4.5zM255.7 178.5l3-4.5 3 4.5zM219.7 202.2l3-4.5 3 4.5zM230.8 132.6l3-4.5 3 4.5zM254.1 131.0l3-4.5 3 4.5zM227.9 146.5l3-4.5 3 4.5zM238.8 178.2l3-4.5 3 4.5zM254.2 145.3l3-4.5 3 4.5zM254.8 141.8l3-4.5 3 4.5zM219.2 197.4l3-4.5 3 4.5zM254.8 160.1l3-4.5 3 4.5zM256.5 203.0l3-4.5 3 4.5zM211.5 187.8l3-4.5 3 4.5zM197.1 149.2l3-4.5 3 4.5zM212.4 192.8l3-4.5 3 4.5zM209.4 176.6l3-4.5 3 4.5zM206.4 161.3l3-4.5 3 4.5zM190.4 201.3l3-4.5 3 4.5zM190.0 187.6l3-4.5 3 4.5zM177.9 198.5l3-4.5 3 4.5zM212.8 200.8l3-4.5 3 4.5zM189.8 198.4l3-4.5 3 4.5zM193.5 174.2l3-4.5 3 4.5zM211.7 196.3l3-4.5 3 4.5zM197.7 195.5l3-4.5 3 4.5zM212.6 196.3l3-4.5 3 4.5zM201.0 144.0l3-4.5 3 4.5zM198.1 143.1l3-4.5 3 4.5zM212.2 197.2l3-4.5 3 4.5zM196.3 197.0l3-4.5 3 4.5zM212.6 201.2l3-4.5 3 4.5zM209.1 189.5l3-4.5 3 4.5zM205.7 171.6l3-4.5 3 4.5zM211.6 199.1l3-4.5 3 4.5zM177.5 187.9l3-4.5 3 4.5zM192.2 199.7l3-4.5 3 4.5zM185.2 191.7l3-4.5 3 4.5zM177.0 200.2l3-4.5 3 4.5zM182.8 169.2l3-4.5 3 4.5zM178.9 176.1l3-4.5 3 4.5zM178.0 199.1l3-4.5 3 4.5zM204.4 198.0l3-4.5 3 4.5zM200.5 133.0l3-4.5 3 4.5zM177.4 204.1l3-4.5 3 4.5zM197.6 163.5l3-4.5 3 4.5zM212.9 191.7l3-4.5 3 4.5zM177.2 199.0l3-4.5 3 4.5zM199.9 135.6l3-4.5 3 4.5zM193.1 167.2l3-4.5 3 4.5zM199.6 166.3l3-4.5 3 4.5zM186.9 165.9l3-4.5 3 4.5zM180.6 171.5l3-4.5 3 4.5zM203.5 147.2l3-4.5 3 4.5zM208.3 171.4l3-4.5 3 4.5zM199.9 140.6l3-4.5 3 4.5zM192.2 158.4l3-4.5 3 4.5zM200.2 181.9l3-4.5 3 4.5zM177.3 199.2l3-4.5 3 4.5zM211.3 203.2l3-4.5 3 4.5zM211.2 187.8l3-4.5 3 4.5zM177.5 182.7l3-4.5 3 4.5zM207.5 171.4l3-4.5 3 4.5zM198.4 203.2l3-4.5 3 4.5zM180.5 172.1l3-4.5 3 4.5zM183.1 168.7l3-4.5 3 4.5zM212.8 200.1l3-4.5 3 4.5zM197.9 143.6l3-4.5 3 4.5zM212.3 199.1l3-4.5 3 4.5zM177.4 184.3l3-4.5 3 4.5zM202.6 161.0l3-4.5 3 4.5zM195.3 169.2l3-4.5 3 4.5zM197.6 159.7l3-4.5 3 4.5zM185.1 178.0l3-4.5 3 4.5zM208.7 173.3l3-4.5 3 4.5zM186.5 188.5l3-4.5 3 4.5zM178.8 186.1l3-4.5 3 4.5zM199.3 202.3l3-4.5 3 4.5zM206.3 159.6l3-4.5 3 4.5zM192.4 157.2l3-4.5 3 4.5zM194.5 171.3l3-4.5 3 4.5zM185.0 168.2l3-4.5 3 4.5zM209.7 202.8l3-4.5 3 4.5zM187.2 195.9l3-4.5 3 4.5zM204.2 168.9l3-4.5 3 4.5zM209.6 178.7l3-4.5 3 4.5zM213.0 201.1l3-4.5 3 4.5zM208.4 169.5l3-4.5 3 4.5zM207.9 183.6l3-4.5 3 4.5zM211.6 188.1l3-4.5 3 4.5zM179.3 182.3l3-4.5 3 4.5zM177.2 182.0l3-4.5 3 4.5zM207.8 202.1l3-4.5 3 4.5zM205.7 170.1l3-4.5 3 4.5zM200.3 204.2l3-4.5 3 4.5zM177.4 200.9l3-4.5 3 4.5zM210.4 182.0l3-4.5 3 4.5zM213.0 201.6l3-4.5 3 4.5zM211.9 195.9l3-4.5 3 4.5zM177.7 194.6l3-4.5 3 4.5zM179.2 187.1l3-4.5 3 4.5zM178.6 184.6l3-4.5 3 4.5zM210.4 182.4l3-4.5 3 4.5zM209.0 176.5l3-4.5 3 4.5zM211.7 188.1l3-4.5 3 4.5zM192.7 171.6l3-4.5 3 4.5zM212.6 202.5l3-4.5 3 4.5zM204.5 152.4l3-4.5 3 4.5zM210.0 179.3l3-4.5 3 4.5zM211.0 197.5l3-4.5 3 4.5zM211.1 186.5l3-4.5 3 4.5zM182.6 169.6l3-4.5 3 4.5zM211.2 187.1l3-4.5 3 4.5zM205.2 155.3l3-4.5 3 4.5zM177.1 196.6l3-4.5 3 4.5zM190.5 159.8l3-4.5 3 4.5zM177.3 194.3l3-4.5 3 4.5zM185.8 166.2l3-4.5 3 4.5zM206.1 163.9l3-4.5 3 4.5zM212.3 199.9l3-4.5 3 4.5zM208.1 200.1l3-4.5 3 4.5zM210.6 181.4l3-4.5 3 4.5zM177.4 192.6l3-4.5 3 4.5zM177.7 203.5l3-4.5 3 4.5zM212.4 196.7l3-4.5 3 4.5zM197.7 198.1l3-4.5 3 4.5zM211.7 186.9l3-4.5 3 4.5zM205.1 160.9l3-4.5 3 4.5zM211.5 200.6l3-4.5 3 4.5zM177.2 194.1l3-4.5 3 4.5zM212.5 191.1l3-4.5 3 4.5zM179.7 172.3l3-4.5 3 4.5zM197.8 202.6l3-4.5 3 4.5zM177.4 187.6l3-4.5 3 4.5zM202.7 145.6l3-4.5 3 4.5zM182.7 203.1l3-4.5 3 4.5zM177.5 203.8l3-4.5 3 4.5zM205.3 160.4l3-4.5 3 4.5zM194.5 204.0l3-4.5 3 4.5zM194.1 202.6l3-4.5 3 4.5zM177.5 179.0l3-4.5 3 4.5zM183.3 192.0l3-4.5 3 4.5zM206.2 163.2l3-4.5 3 4.5zM203.2 158.4l3-4.5 3 4.5zM199.0 179.8l3-4.5 3 4.5zM199.1 142.9l3-4.5 3 4.5zM177.0 191.6l3-4.5 3 4.5zM208.0 171.5l3-4.5 3 4.5zM212.8 198.7l3-4.5 3 4.5zM204.7 152.0l3-4.5 3 4.5zM204.9 169.2l3-4.5 3 4.5zM177.3 194.1l3-4.5 3 4.5zM204.9 154.7l3-4.5 3 4.5zM179.3 178.0l3-4.5 3 4.5zM205.2 156.3l3-4.5 3 4.5zM201.4 136.0l3-4.5 3 4.5zM203.2 144.8l3-4.5 3 4.5zM211.9 188.4l3-4.5 3 4.5zM178.9 176.2l3-4.5 3 4.5zM212.8 198.7l3-4.5 3 4.5zM198.4 185.8l3-4.5 3 4.5zM187.3 164.0l3-4.5 3 4.5zM193.1 156.5l3-4.5 3 4.5zM211.4 187.7l3-4.5 3 4.5zM209.6 181.2l3-4.5 3 4.5zM197.3 145.8l3-4.5 3 4.5zM184.1 202.9l3-4.5 3 4.5zM194.8 151.9l3-4.5 3 4.5zM177.3 182.5l3-4.5 3 4.5zM193.9 183.3l3-4.5 3 4.5zM182.6 170.1l3-4.5 3 4.5zM177.6 191.9l3-4.5 3 4.5zM208.4 171.5l3-4.5 3 4.5zM205.7 157.1l3-4.5 3 4.5zM177.7 186.4l3-4.5 3 4.5zM191.3 168.7l3-4.5 3 4.5zM181.2 173.8l3-4.5 3 4.5zM211.3 189.3l3-4.5 3 4.5zM177.6 192.8l3-4.5 3 4.5zM199.7 204.2l3-4.5 3 4.5zM185.8 201.1l3-4.5 3 4.5zM204.5 154.1l3-4.5 3 4.5zM177.6 192.2l3-4.5 3 4.5zM191.2 159.4l3-4.5 3 4.5zM209.8 181.5l3-4.5 3 4.5zM177.2 198.8l3-4.5 3 4.5zM185.9 199.1l3-4.5 3 4.5zM191.1 158.5l3-4.5 3 4.5zM205.3 200.8l3-4.5 3 4.5zM192.3 157.5l3-4.5 3 4.5zM196.5 184.8l3-4.5 3 4.5zM212.4 190.5l3-4.5 3 4.5zM181.6 197.4l3-4.5 3 4.5zM210.7 185.4l3-4.5 3 4.5zM212.2 199.0l3-4.5 3 4.5zM203.7 150.7l3-4.5 3 4.5zM206.9 163.9l3-4.5 3 4.5zM207.9 169.3l3-4.5 3 4.5zM177.4 194.2l3-4.5 3 4.5zM200.9 134.4l3-4.5 3 4.5zM211.1 189.9l3-4.5 3 4.5zM212.3 189.7l3-4.5 3 4.5zM177.6 184.4l3-4.5 3 4.5zM208.7 199.2l3-4.5 3 4.5zM201.4 148.5l3-4.5 3 4.5zM198.5 147.3l3-4.5 3 4.5zM199.5 139.6l3-4.5 3 4.5zM206.9 162.2l3-4.5 3 4.5zM205.1 201.6l3-4.5 3 4.5zM207.5 165.3l3-4.5 3 4.5zM182.1 170.9l3-4.5 3 4.5zM201.0 170.5l3-4.5 3 4.5zM208.0 171.5l3-4.5 3 4.5zM191.5 158.4l3-4.5 3 4.5zM211.0 185.6l3-4.5 3 4.5zM199.8 142.6l3-4.5 3 4.5zM202.6 148.4l3-4.5 3 4.5zM206.3 174.8l3-4.5 3 4.5zM195.0 151.6l3-4.5 3 4.5zM177.2 183.7l3-4.5 3 4.5zM212.5 197.5l3-4.5 3 4.5zM177.5 184.5l3-4.5 3 4.5zM197.6 152.5l3-4.5 3 4.5zM193.1 157.1l3-4.5 3 4.5zM177.1 202.1l3-4.5 3 4.5zM202.4 153.1l3-4.5 3 4.5zM177.2 190.5l3-4.5 3 4.5zM177.7 200.5l3-4.5 3 4.5zM182.7 187.5l3-4.5 3 4.5zM180.5 180.8l3-4.5 3 4.5zM191.5 168.8l3-4.5 3 4.5zM195.2 199.5l3-4.5 3 4.5zM178.7 193.3l3-4.5 3 4.5zM213.0 202.8l3-4.5 3 4.5zM192.7 158.1l3-4.5 3 4.5zM210.9 182.2l3-4.5 3 4.5zM212.9 203.1l3-4.5 3 4.5zM211.2 184.0l3-4.5 3 4.5zM213.0 197.9l3-4.5 3 4.5zM198.9 195.3l3-4.5 3 4.5zM178.6 183.3l3-4.5 3 4.5zM199.3 179.1l3-4.5 3 4.5zM207.6 166.0l3-4.5 3 4.5zM205.1 154.7l3-4.5 3 4.5zM198.4 173.1l3-4.5 3 4.5zM177.3 200.0l3-4.5 3 4.5zM183.3 169.5l3-4.5 3 4.5zM212.4 200.7l3-4.5 3 4.5zM210.8 198.4l3-4.5 3 4.5zM177.2 192.6l3-4.5 3 4.5zM209.2 177.5l3-4.5 3 4.5zM181.0 197.5l3-4.5 3 4.5zM208.6 170.2l3-4.5 3 4.5zM212.7 198.8l3-4.5 3 4.5zM178.8 181.4l3-4.5 3 4.5zM212.8 200.9l3-4.5 3 4.5zM205.5 156.2l3-4.5 3 4.5zM209.1 176.8l3-4.5 3 4.5zM190.7 177.9l3-4.5 3 4.5zM202.2 152.6l3-4.5 3 4.5zM177.2 203.9l3-4.5 3 4.5zM180.1 203.7l3-4.5 3 4.5zM191.8 160.8l3-4.5 3 4.5zM208.4 170.4l3-4.5 3 4.5zM212.4 194.6l3-4.5 3 4.5zM209.9 178.1l3-4.5 3 4.5zM190.0 194.9l3-4.5 3 4.5zM205.5 167.4l3-4.5 3 4.5zM178.6 175.9l3-4.5 3 4.5zM178.6 185.7l3-4.5 3 4.5zM209.0 183.8l3-4.5 3 4.5zM209.6 182.5l3-4.5 3 4.5zM184.9 167.3l3-4.5 3 4.5zM206.8 173.2l3-4.5 3 4.5zM205.3 157.2l3-4.5 3 4.5zM190.7 194.5l3-4.5 3 4.5zM178.7 176.9l3-4.5 3 4.5zM178.3 191.3l3-4.5 3 4.5zM204.2 155.6l3-4.5 3 4.5zM178.4 177.9l3-4.5 3 4.5zM207.5 175.6l3-4.5 3 4.5zM179.7 172.4l3-4.5 3 4.5zM181.4 170.7l3-4.5 3 4.5zM183.2 173.8l3-4.5 3 4.5zM177.4 203.8l3-4.5 3 4.5zM211.5 202.2l3-4.5 3 4.5zM177.0 198.1l3-4.5 3 4.5zM178.2 187.5l3-4.5 3 4.5zM202.7 152.5l3-4.5 3 4.5zM177.6 189.6l3-4.5 3 4.5zM207.3 164.9l3-4.5 3 4.5zM191.2 159.3l3-4.5 3 4.5zM192.5 197.0l3-4.5 3 4.5zM199.6 159.2l3-4.5 3 4.5zM200.9 134.7l3-4.5 3 4.5zM186.7 164.9l3-4.5 3 4.5zM204.4 153.4l3-4.5 3 4.5zM198.9 189.1l3-4.5 3 4.5zM209.7 177.1l3-4.5 3 4.5zM194.3 155.9l3-4.5 3 4.5zM193.0 155.3l3-4.5 3 4.5zM200.8 139.9l3-4.5 3 4.5zM210.1 181.0l3-4.5 3 4.5zM201.3 162.2l3-4.5 3 4.5zM197.8 144.2l3-4.5 3 4.5zM212.4 203.8l3-4.5 3 4.5zM176.9 204.4l3-4.5 3 4.5zM204.4 185.1l3-4.5 3 4.5zM203.5 152.4l3-4.5 3 4.5zM208.1 169.2l3-4.5 3 4.5zM211.2 183.6l3-4.5 3 4.5zM187.3 173.3l3-4.5 3 4.5zM209.2 180.0l3-4.5 3 4.5zM203.4 154.4l3-4.5 3 4.5zM208.7 180.5l3-4.5 3 4.5zM179.9 175.1l3-4.5 3 4.5zM210.9 183.9l3-4.5 3 4.5zM207.1 167.2l3-4.5 3 4.5zM204.0 152.8l3-4.5 3 4.5zM212.2 191.2l3-4.5 3 4.5zM202.9 146.9l3-4.5 3 4.5zM212.5 191.2l3-4.5 3 4.5zM177.5 202.0l3-4.5 3 4.5zM211.6 187.6l3-4.5 3 4.5zM177.4 201.0l3-4.5 3 4.5zM209.5 177.1l3-4.5 3 4.5zM211.7 197.5l3-4.5 3 4.5zM202.1 195.4l3-4.5 3 4.5zM211.9 201.3l3-4.5 3 4.5zM197.4 153.9l3-4.5 3 4.5zM200.9 154.2l3-4.5 3 4.5zM210.4 184.5l3-4.5 3 4.5zM192.4 191.8l3-4.5 3 4.5zM211.1 185.7l3-4.5 3 4.5zM213.0 204.3l3-4.5 3 4.5zM177.7 186.0l3-4.5 3 4.5zM180.0 173.0l3-4.5 3 4.5zM196.0 167.4l3-4.5 3 4.5zM201.3 173.3l3-4.5 3 4.5zM208.8 181.1l3-4.5 3 4.5zM209.7 180.8l3-4.5 3 4.5zM201.5 166.7l3-4.5 3 4.5zM204.5 152.6l3-4.5 3 4.5zM201.8 144.5l3-4.5 3 4.5zM208.3 172.1l3-4.5 3 4.5zM191.4 167.4l3-4.5 3 4.5zM193.8 181.6l3-4.5 3 4.5zM201.8 132.9l3-4.5 3 4.5zM190.3 180.4l3-4.5 3 4.5zM178.6 181.8l3-4.5 3 4.5zM207.5 186.5l3-4.5 3 4.5zM180.7 172.2l3-4.5 3 4.5zM202.3 144.7l3-4.5 3 4.5zM212.6 204.4l3-4.5 3 4.5zM212.7 194.2l3-4.5 3 4.5zM202.5 182.2l3-4.5 3 4.5zM196.8 203.1l3-4.5 3 4.5zM199.1 204.2l3-4.5 3 4.5zM201.1 140.2l3-4.5 3 4.5zM205.6 162.7l3-4.5 3 4.5zM198.0 145.3l3-4.5 3 4.5zM176.9 202.9l3-4.5 3 4.5zM178.0 195.0l3-4.5 3 4.5zM206.6 161.5l3-4.5 3 4.5zM188.4 166.1l3-4.5 3 4.5zM191.8 157.5l3-4.5 3 4.5zM208.1 182.9l3-4.5 3 4.5zM206.7 161.7l3-4.5 3 4.5zM205.3 160.2l3-4.5 3 4.5zM209.4 179.0l3-4.5 3 4.5zM210.8 183.4l3-4.5 3 4.5zM212.0 187.6l3-4.5 3 4.5zM212.6 194.0l3-4.5 3 4.5zM177.3 191.8l3-4.5 3 4.5zM212.3 193.1l3-4.5 3 4.5zM212.5 199.9l3-4.5 3 4.5zM180.8 173.0l3-4.5 3 4.5zM201.0 171.1l3-4.5 3 4.5zM177.3 189.0l3-4.5 3 4.5zM205.4 155.2l3-4.5 3 4.5zM213.0 200.7l3-4.5 3 4.5zM206.1 178.6l3-4.5 3 4.5zM206.9 169.4l3-4.5 3 4.5zM206.8 168.8l3-4.5 3 4.5zM197.0 195.8l3-4.5 3 4.5zM177.5 201.9l3-4.5 3 4.5zM177.8 203.3l3-4.5 3 4.5zM208.2 169.1l3-4.5 3 4.5zM177.1 189.7l3-4.5 3 4.5zM212.6 196.3l3-4.5 3 4.5zM197.4 154.0l3-4.5 3 4.5zM191.4 171.2l3-4.5 3 4.5zM177.1 203.2l3-4.5 3 4.5zM179.9 177.0l3-4.5 3 4.5zM191.8 187.1l3-4.5 3 4.5zM177.3 188.5l3-4.5 3 4.5zM195.8 177.3l3-4.5 3 4.5zM211.8 203.6l3-4.5 3 4.5zM177.9 193.6l3-4.5 3 4.5zM199.5 143.9l3-4.5 3 4.5zM201.0 197.9l3-4.5 3 4.5zM212.4 195.2l3-4.5 3 4.5zM207.3 173.2l3-4.5 3 4.5zM202.2 186.2l3-4.5 3 4.5zM177.1 202.5l3-4.5 3 4.5zM210.9 183.2l3-4.5 3 4.5zM200.9 133.8l3-4.5 3 4.5zM199.9 140.7l3-4.5 3 4.5zM204.2 152.6l3-4.5 3 4.5zM211.3 200.4l3-4.5 3 4.5zM177.6 181.9l3-4.5 3 4.5zM184.6 199.5l3-4.5 3 4.5zM212.9 199.0l3-4.5 3 4.5zM211.9 193.3l3-4.5 3 4.5zM197.7 173.8l3-4.5 3 4.5zM179.0 184.1l3-4.5 3 4.5zM208.4 171.1l3-4.5 3 4.5zM193.3 199.0l3-4.5 3 4.5zM179.8 175.7l3-4.5 3 4.5zM177.8 193.4l3-4.5 3 4.5zM211.6 185.3l3-4.5 3 4.5zM200.0 132.8l3-4.5 3 4.5zM211.8 197.3l3-4.5 3 4.5zM191.6 201.9l3-4.5 3 4.5zM187.7 164.8l3-4.5 3 4.5zM203.6 181.7l3-4.5 3 4.5zM212.6 194.4l3-4.5 3 4.5zM188.0 163.3l3-4.5 3 4.5zM209.3 175.0l3-4.5 3 4.5zM212.5 199.7l3-4.5 3 4.5zM178.9 178.3l3-4.5 3 4.5zM205.8 156.7l3-4.5 3 4.5zM197.2 185.6l3-4.5 3 4.5zM210.9 192.1l3-4.5 3 4.5zM178.0 195.1l3-4.5 3 4.5zM195.4 179.7l3-4.5 3 4.5zM177.2 200.3l3-4.5 3 4.5zM181.8 195.8l3-4.5 3 4.5zM209.7 181.0l3-4.5 3 4.5zM201.1 199.5l3-4.5 3 4.5zM209.4 178.9l3-4.5 3 4.5zM205.2 155.6l3-4.5 3 4.5zM183.8 203.8l3-4.5 3 4.5zM179.1 179.1l3-4.5 3 4.5zM209.9 177.4l3-4.5 3 4.5zM186.9 178.2l3-4.5 3 4.5zM180.2 171.8l3-4.5 3 4.5zM212.5 191.1l3-4.5 3 4.5zM177.4 182.0l3-4.5 3 4.5zM212.8 199.7l3-4.5 3 4.5zM209.8 178.8l3-4.5 3 4.5zM198.6 193.2l3-4.5 3 4.5zM177.7 180.2l3-4.5 3 4.5zM188.3 167.0l3-4.5 3 4.5zM212.4 198.8l3-4.5 3 4.5zM178.1 194.1l3-4.5 3 4.5zM198.0 155.8l3-4.5 3 4.5zM177.8 203.2l3-4.5 3 4.5zM203.6 175.1l3-4.5 3 4.5zM201.8 134.0l3-4.5 3 4.5zM211.6 188.5l3-4.5 3 4.5zM206.2 159.4l3-4.5 3 4.5zM182.3 172.8l3-4.5 3 4.5zM188.6 162.7l3-4.5 3 4.5zM202.8 176.2l3-4.5 3 4.5zM212.7 201.2l3-4.5 3 4.5zM189.5 161.6l3-4.5 3 4.5zM192.8 157.9l3-4.5 3 4.5zM182.8 169.9l3-4.5 3 4.5zM178.4 180.1l3-4.5 3 4.5zM210.8 184.1l3-4.5 3 4.5zM190.0 188.6l3-4.5 3 4.5zM185.0 167.1l3-4.5 3 4.5zM200.0 197.0l3-4.5 3 4.5zM195.4 186.2l3-4.5 3 4.5zM201.6 140.3l3-4.5 3 4.5zM196.4 148.6l3-4.5 3 4.5zM211.8 189.9l3-4.5 3 4.5zM178.4 178.7l3-4.5 3 4.5zM203.5 146.0l3-4.5 3 4.5zM178.5 204.5l3-4.5 3 4.5zM209.3 174.1l3-4.5 3 4.5zM206.3 161.0l3-4.5 3 4.5zM176.9 199.2l3-4.5 3 4.5zM186.8 203.2l3-4.5 3 4.5zM207.9 169.6l3-4.5 3 4.5zM179.6 174.2l3-4.5 3 4.5zM211.6 204.1l3-4.5 3 4.5zM212.6 197.6l3-4.5 3 4.5zM182.8 203.8l3-4.5 3 4.5zM200.6 181.0l3-4.5 3 4.5zM177.4 196.7l3-4.5 3 4.5zM212.3 190.5l3-4.5 3 4.5zM192.7 157.9l3-4.5 3 4.5zM181.6 171.5l3-4.5 3 4.5zM206.4 162.0l3-4.5 3 4.5zM200.5 141.1l3-4.5 3 4.5zM207.5 172.6l3-4.5 3 4.5zM196.1 150.0l3-4.5 3 4.5zM211.6 188.3l3-4.5 3 4.5zM200.7 137.5l3-4.5 3 4.5zM195.5 176.5l3-4.5 3 4.5zM178.4 179.3l3-4.5 3 4.5zM212.2 194.2l3-4.5 3 4.5zM209.9 178.1l3-4.5 3 4.5zM211.2 186.7l3-4.5 3 4.5zM189.3 160.8l3-4.5 3 4.5zM195.8 177.9l3-4.5 3 4.5zM207.5 166.6l3-4.5 3 4.5zM177.4 184.7l3-4.5 3 4.5zM208.5 170.3l3-4.5 3 4.5zM204.8 171.5l3-4.5 3 4.5zM211.1 183.4l3-4.5 3 4.5zM208.1 172.6l3-4.5 3 4.5zM212.5 199.2l3-4.5 3 4.5zM187.0 189.6l3-4.5 3 4.5zM181.9 170.3l3-4.5 3 4.5zM178.0 194.6l3-4.5 3 4.5zM206.8 161.9l3-4.5 3 4.5zM187.4 165.3l3-4.5 3 4.5zM199.9 168.5l3-4.5 3 4.5zM204.9 154.3l3-4.5 3 4.5zM201.4 157.4l3-4.5 3 4.5zM177.5 196.7l3-4.5 3 4.5zM211.9 203.8l3-4.5 3 4.5zM179.8 173.7l3-4.5 3 4.5zM202.7 143.7l3-4.5 3 4.5zM184.6 169.0l3-4.5 3 4.5zM177.9 191.2l3-4.5 3 4.5zM184.6 181.6l3-4.5 3 4.5zM178.6 178.2l3-4.5 3 4.5zM204.4 194.2l3-4.5 3 4.5zM179.3 175.5l3-4.5 3 4.5zM207.0 167.4l3-4.5 3 4.5zM192.6 195.6l3-4.5 3 4.5zM197.9 156.6l3-4.5 3 4.5zM177.4 199.8l3-4.5 3 4.5zM197.4 146.2l3-4.5 3 4.5zM212.5 203.7l3-4.5 3 4.5zM202.3 143.1l3-4.5 3 4.5zM197.1 199.1l3-4.5 3 4.5zM209.6 190.1l3-4.5 3 4.5zM186.6 165.7l3-4.5 3 4.5zM186.3 166.0l3-4.5 3 4.5zM212.4 198.3l3-4.5 3 4.5zM207.0 168.6l3-4.5 3 4.5zM212.1 195.7l3-4.5 3 4.5zM178.1 181.4l3-4.5 3 4.5zM177.5 191.0l3-4.5 3 4.5zM197.4 193.8l3-4.5 3 4.5zM177.9 201.9l3-4.5 3 4.5zM200.5 138.9l3-4.5 3 4.5zM211.6 187.5l3-4.5 3 4.5zM186.0 187.6l3-4.5 3 4.5zM202.0 193.7l3-4.5 3 4.5zM212.5 198.4l3-4.5 3 4.5zM177.7 204.5l3-4.5 3 4.5zM180.3 185.9l3-4.5 3 4.5zM212.2 201.8l3-4.5 3 4.5zM199.3 140.5l3-4.5 3 4.5zM196.3 180.0l3-4.5 3 4.5zM208.1 177.0l3-4.5 3 4.5zM186.3 188.3l3-4.5 3 4.5zM204.2 148.6l3-4.5 3 4.5zM203.5 146.6l3-4.5 3 4.5zM201.4 140.1l3-4.5 3 4.5zM176.9 199.0l3-4.5 3 4.5zM177.7 185.5l3-4.5 3 4.5zM178.3 181.7l3-4.5 3 4.5zM183.9 167.8l3-4.5 3 4.5zM203.8 147.8l3-4.5 3 4.5zM206.7 168.8l3-4.5 3 4.5zM178.0 195.3l3-4.5 3 4.5zM177.5 184.0l3-4.5 3 4.5zM211.4 184.6l3-4.5 3 4.5zM205.1 158.3l3-4.5 3 4.5zM177.3 195.1l3-4.5 3 4.5zM209.8 181.5l3-4.5 3 4.5zM210.3 179.4l3-4.5 3 4.5zM208.3 170.4l3-4.5 3 4.5zM177.3 200.0l3-4.5 3 4.5zM209.2 178.3l3-4.5 3 4.5zM177.4 181.5l3-4.5 3 4.5zM201.0 133.8l3-4.5 3 4.5zM208.3 178.7l3-4.5 3 4.5zM198.3 150.3l3-4.5 3 4.5zM177.1 192.2l3-4.5 3 4.5zM178.0 199.5l3-4.5 3 4.5zM207.4 165.5l3-4.5 3 4.5zM187.6 163.3l3-4.5 3 4.5zM204.4 154.0l3-4.5 3 4.5zM209.4 183.8l3-4.5 3 4.5zM207.2 165.7l3-4.5 3 4.5zM206.6 172.7l3-4.5 3 4.5zM203.6 172.5l3-4.5 3 4.5zM178.9 186.2l3-4.5 3 4.5zM210.0 177.5l3-4.5 3 4.5zM212.1 199.3l3-4.5 3 4.5zM177.9 193.5l3-4.5 3 4.5zM210.1 178.6l3-4.5 3 4.5zM178.8 202.5l3-4.5 3 4.5zM178.4 176.1l3-4.5 3 4.5zM196.0 161.0l3-4.5 3 4.5zM204.1 188.1l3-4.5 3 4.5zM192.4 156.4l3-4.5 3 4.5zM208.6 179.8l3-4.5 3 4.5zM177.4 189.0l3-4.5 3 4.5zM190.6 159.5l3-4.5 3 4.5zM178.0 192.1l3-4.5 3 4.5zM192.0 159.4l3-4.5 3 4.5zM209.4 185.0l3-4.5 3 4.5zM201.2 140.2l3-4.5 3 4.5zM210.3 182.3l3-4.5 3 4.5zM196.2 200.5l3-4.5 3 4.5zM183.5 193.6l3-4.5 3 4.5zM259.1 194.1l3-4.5 3 4.5zM232.7 198.2l3-4.5 3 4.5zM218.6 201.7l3-4.5 3 4.5zM195.0 199.0l3-4.5 3 4.5zM204.7 196.2l3-4.5 3 4.5zM194.9 200.0l3-4.5 3 4.5zM248.6 194.7l3-4.5 3 4.5zM253.5 194.5l3-4.5 3 4.5zM191.0 197.5l3-4.5 3 4.5zM245.2 194.5l3-4.5 3 4.5zM193.8 197.6l3-4.5 3 4.5zM224.4 202.7l3-4.5 3 4.5zM195.1 195.3l3-4.5 3 4.5zM231.0 198.2l3-4.5 3 4.5zM222.9 197.6l3-4.5 3 4.5zM203.8 201.9l3-4.5 3 4.5zM237.4 195.0l3-4.5 3 4.5zM211.3 195.2l3-4.5 3 4.5zM244.6 195.5l3-4.5 3 4.5zM243.0 193.2l3-4.5 3 4.5zM177.8 193.3l3-4.5 3 4.5zM212.8 195.1l3-4.5 3 4.5zM237.0 201.2l3-4.5 3 4.5zM224.2 202.0l3-4.5 3 4.5zM236.5 199.0l3-4.5 3 4.5zM206.4 200.1l3-4.5 3 4.5zM243.1 196.0l3-4.5 3 4.5zM199.8 195.4l3-4.5 3 4.5zM190.2 194.6l3-4.5 3 4.5zM225.7 195.2l3-4.5 3 4.5zM226.7 193.0l3-4.5 3 4.5zM233.4 198.0l3-4.5 3 4.5zM224.5 197.2l3-4.5 3 4.5zM198.7 199.5l3-4.5 3 4.5zM242.2 194.5l3-4.5 3 4.5zM256.3 195.1l3-4.5 3 4.5zM217.3 199.0l3-4.5 3 4.5zM234.3 196.2l3-4.5 3 4.5zM254.4 194.7l3-4.5 3 4.5zM207.0 200.1l3-4.5 3 4.5zM178.3 194.5l3-4.5 3 4.5zM210.7 199.0l3-4.5 3 4.5zM178.9 196.7l3-4.5 3 4.5zM250.6 198.6l3-4.5 3 4.5zM237.5 195.1l3-4.5 3 4.5zM230.4 196.8l3-4.5 3 4.5zM195.6 195.9l3-4.5 3 4.5zM224.0 193.2l3-4.5 3 4.5zM218.2 199.4l3-4.5 3 4.5zM251.3 195.8l3-4.5 3 4.5zM203.4 196.3l3-4.5 3 4.5zM187.4 199.9l3-4.5 3 4.5zM249.4 197.2l3-4.5 3 4.5zM242.5 199.8l3-4.5 3 4.5zM214.4 200.6l3-4.5 3 4.5zM242.5 196.4l3-4.5 3 4.5zM207.8 199.0l3-4.5 3 4.5zM192.4 200.1l3-4.5 3 4.5zM233.0 199.5l3-4.5 3 4.5zM183.3 197.9l3-4.5 3 4.5zM212.9 193.0l3-4.5 3 4.5zM207.1 198.8l3-4.5 3 4.5zM256.9 194.8l3-4.5 3 4.5zM213.4 199.0l3-4.5 3 4.5zM193.6 200.7l3-4.5 3 4.5zM183.4 197.2l3-4.5 3 4.5zM189.2 196.4l3-4.5 3 4.5zM203.7 196.2l3-4.5 3 4.5zM240.8 198.2l3-4.5 3 4.5zM206.9 202.0l3-4.5 3 4.5zM192.4 196.3l3-4.5 3 4.5zM242.9 200.4l3-4.5 3 4.5zM257.2 193.5l3-4.5 3 4.5zM205.5 197.4l3-4.5 3 4.5zM231.5 199.4l3-4.5 3 4.5zM205.5 195.6l3-4.5 3 4.5zM215.5 198.6l3-4.5 3 4.5zM222.2 201.7l3-4.5 3 4.5zM214.4 200.0l3-4.5 3 4.5zM188.6 197.0l3-4.5 3 4.5zM234.0 197.4l3-4.5 3 4.5zM210.2 193.1l3-4.5 3 4.5zM192.6 201.9l3-4.5 3 4.5zM222.7 195.9l3-4.5 3 4.5zM206.9 198.9l3-4.5 3 4.5zM203.5 200.3l3-4.5 3 4.5zM241.6 194.1l3-4.5 3 4.5zM198.1 197.0l3-4.5 3 4.5zM213.4 201.6l3-4.5 3 4.5zM236.7 197.2l3-4.5 3 4.5zM258.5 193.5l3-4.5 3 4.5zM251.1 198.6l3-4.5 3 4.5zM183.8 194.4l3-4.5 3 4.5zM183.6 195.4l3-4.5 3 4.5zM189.3 195.5l3-4.5 3 4.5zM179.0 199.8l3-4.5 3 4.5zM248.1 196.8l3-4.5 3 4.5zM212.7 193.2l3-4.5 3 4.5zM241.0 199.8l3-4.5 3 4.5zM234.3 198.7l3-4.5 3 4.5zM213.8 199.8l3-4.5 3 4.5zM193.7 199.3l3-4.5 3 4.5zM197.6 200.6l3-4.5 3 4.5zM248.6 197.9l3-4.5 3 4.5zM222.0 194.8l3-4.5 3 4.5zM232.0 201.0l3-4.5 3 4.5zM255.3 193.4l3-4.5 3 4.5zM245.6 198.6l3-4.5 3 4.5zM244.9 195.9l3-4.5 3 4.5zM177.1 197.4l3-4.5 3 4.5zM233.7 197.2l3-4.5 3 4.5zM254.8 194.4l3-4.5 3 4.5zM245.4 193.1l3-4.5 3 4.5zM203.5 193.8l3-4.5 3 4.5zM174.7 194.3l3-4.5 3 4.5zM181.9 196.9l3-4.5 3 4.5zM211.9 202.2l3-4.5 3 4.5zM228.4 195.0l3-4.5 3 4.5zM193.4 199.8l3-4.5 3 4.5zM239.8 197.1l3-4.5 3 4.5zM176.0 197.9l3-4.5 3 4.5zM254.5 198.2l3-4.5 3 4.5zM199.0 198.1l3-4.5 3 4.5zM249.6 194.4l3-4.5 3 4.5zM207.1 196.2l3-4.5 3 4.5zM176.8 199.7l3-4.5 3 4.5zM206.0 196.5l3-4.5 3 4.5zM186.4 201.0l3-4.5 3 4.5zM246.8 199.7l3-4.5 3 4.5zM179.1 199.8l3-4.5 3 4.5zM181.2 198.5l3-4.5 3 4.5zM223.5 196.3l3-4.5 3 4.5zM198.7 197.5l3-4.5 3 4.5zM202.7 197.0l3-4.5 3 4.5zM183.7 196.0l3-4.5 3 4.5zM174.5 193.4l3-4.5 3 4.5zM192.2 196.9l3-4.5 3 4.5zM190.5 197.8l3-4.5 3 4.5zM196.9 196.3l3-4.5 3 4.5zM240.5 194.3l3-4.5 3 4.5zM257.1 196.7l3-4.5 3 4.5zM221.1 199.4l3-4.5 3 4.5zM198.9 197.6l3-4.5 3 4.5zM257.0 199.5l3-4.5 3 4.5zM237.8 199.1l3-4.5 3 4.5zM225.1 200.2l3-4.5 3 4.5zM235.4 197.6l3-4.5 3 4.5zM200.8 198.2l3-4.5 3 4.5zM174.9 199.2l3-4.5 3 4.5zM251.4 200.0l3-4.5 3 4.5zM208.2 196.2l3-4.5 3 4.5zM177.5 193.4l3-4.5 3 4.5zM192.0 193.2l3-4.5 3 4.5zM211.2 197.0l3-4.5 3 4.5zM225.7 201.9l3-4.5 3 4.5zM241.4 195.2l3-4.5 3 4.5zM232.2 201.3l3-4.5 3 4.5zM209.2 197.8l3-4.5 3 4.5zM177.9 194.6l3-4.5 3 4.5zM183.1 196.4l3-4.5 3 4.5zM197.1 200.8l3-4.5 3 4.5zM255.2 195.6l3-4.5 3 4.5zM236.6 196.5l3-4.5 3 4.5zM222.3 194.2l3-4.5 3 4.5zM179.8 197.7l3-4.5 3 4.5zM193.0 196.6l3-4.5 3 4.5zM207.9 193.7l3-4.5 3 4.5zM194.2 199.6l3-4.5 3 4.5zM252.2 195.0l3-4.5 3 4.5zM210.9 199.2l3-4.5 3 4.5zM236.7 200.8l3-4.5 3 4.5zM235.7 200.1l3-4.5 3 4.5zM242.8 201.0l3-4.5 3 4.5zM252.0 193.9l3-4.5 3 4.5zM176.5 199.0l3-4.5 3 4.5zM252.0 194.3l3-4.5 3 4.5zM199.2 194.8l3-4.5 3 4.5zM223.6 200.4l3-4.5 3 4.5zM232.8 198.5l3-4.5 3 4.5zM186.5 194.2l3-4.5 3 4.5zM235.3 200.0l3-4.5 3 4.5zM210.7 196.1l3-4.5 3 4.5zM205.9 200.2l3-4.5 3 4.5zM219.1 193.4l3-4.5 3 4.5zM182.5 198.9l3-4.5 3 4.5zM258.6 199.5l3-4.5 3 4.5zM228.9 201.3l3-4.5 3 4.5zM192.0 200.7l3-4.5 3 4.5zM256.4 197.4l3-4.5 3 4.5zM250.6 195.3l3-4.5 3 4.5zM180.8 193.7l3-4.5 3 4.5zM197.7 193.1l3-4.5 3 4.5zM185.7 193.7l3-4.5 3 4.5zM190.0 197.4l3-4.5 3 4.5zM238.9 196.9l3-4.5 3 4.5zM257.6 196.1l3-4.5 3 4.5zM251.1 199.6l3-4.5 3 4.5zM236.9 196.6l3-4.5 3 4.5zM249.3 198.2l3-4.5 3 4.5zM196.1 198.8l3-4.5 3 4.5zM246.2 195.8l3-4.5 3 4.5zM216.0 202.8l3-4.5 3 4.5zM239.2 198.2l3-4.5 3 4.5zM194.6 198.6l3-4.5 3 4.5zM186.1 194.2l3-4.5 3 4.5zM242.1 193.2l3-4.5 3 4.5zM231.6 201.0l3-4.5 3 4.5zM210.3 192.9l3-4.5 3 4.5zM174.5 197.5l3-4.5 3 4.5zM187.1 200.0l3-4.5 3 4.5zM197.8 196.5l3-4.5 3 4.5zM180.2 193.9l3-4.5 3 4.5zM210.9 201.2l3-4.5 3 4.5zM183.0 196.7l3-4.5 3 4.5zM204.1 197.8l3-4.5 3 4.5zM183.6 198.2l3-4.5 3 4.5zM217.3 202.1l3-4.5 3 4.5zM224.5 201.6l3-4.5 3 4.5zM228.0 201.9l3-4.5 3 4.5zM186.5 201.3l3-4.5 3 4.5zM219.4 201.2l3-4.5 3 4.5zM198.1 201.3l3-4.5 3 4.5zM250.4 199.6l3-4.5 3 4.5zM231.6 194.8l3-4.5 3 4.5zM212.6 197.1l3-4.5 3 4.5zM202.7 194.7l3-4.5 3 4.5zM232.6 201.7l3-4.5 3 4.5zM234.1 201.0l3-4.5 3 4.5zM215.2 201.1l3-4.5 3 4.5zM236.6 199.2l3-4.5 3 4.5zM179.1 197.1l3-4.5 3 4.5zM252.0 196.3l3-4.5 3 4.5zM227.0 195.2l3-4.5 3 4.5zM228.6 193.4l3-4.5 3 4.5zM255.4 194.8l3-4.5 3 4.5zM242.9 200.4l3-4.5 3 4.5zM196.9 195.6l3-4.5 3 4.5zM223.7 194.3l3-4.5 3 4.5zM240.1 198.9l3-4.5 3 4.5zM189.0 195.9l3-4.5 3 4.5zM183.9 197.0l3-4.5 3 4.5zM197.8 198.6l3-4.5 3 4.5zM229.9 196.4l3-4.5 3 4.5zM226.8 202.2l3-4.5 3 4.5zM250.3 195.2l3-4.5 3 4.5zM251.4 195.9l3-4.5 3 4.5zM229.3 194.0l3-4.5 3 4.5zM237.7 196.3l3-4.5 3 4.5zM177.8 200.1l3-4.5 3 4.5zM235.2 194.3l3-4.5 3 4.5zM207.2 200.7l3-4.5 3 4.5zM211.9 194.5l3-4.5 3 4.5zM238.5 200.8l3-4.5 3 4.5zM191.6 200.0l3-4.5 3 4.5zM237.7 199.8l3-4.5 3 4.5zM249.8 197.6l3-4.5 3 4.5zM190.8 198.1l3-4.5 3 4.5zM186.3 193.9l3-4.5 3 4.5zM176.4 197.1l3-4.5 3 4.5zM206.6 202.4l3-4.5 3 4.5zM193.3 193.0l3-4.5 3 4.5zM247.3 197.7l3-4.5 3 4.5zM248.5 193.6l3-4.5 3 4.5zM247.2 195.2l3-4.5 3 4.5zM222.5 197.8l3-4.5 3 4.5zM235.2 196.6l3-4.5 3 4.5zM257.0 198.6l3-4.5 3 4.5zM250.7 194.8l3-4.5 3 4.5zM212.0 194.4l3-4.5 3 4.5zM198.7 198.7l3-4.5 3 4.5zM223.4 193.2l3-4.5 3 4.5zM195.0 194.3l3-4.5 3 4.5zM230.2 193.7l3-4.5 3 4.5zM199.9 196.1l3-4.5 3 4.5zM249.8 193.8l3-4.5 3 4.5zM233.7 194.4l3-4.5 3 4.5zM228.2 197.3l3-4.5 3 4.5zM190.8 197.2l3-4.5 3 4.5zM257.3 193.3l3-4.5 3 4.5zM178.0 198.1l3-4.5 3 4.5zM194.8 194.4l3-4.5 3 4.5zM189.9 195.0l3-4.5 3 4.5zM191.1 198.8l3-4.5 3 4.5zM256.9 199.0l3-4.5 3 4.5zM223.8 200.1l3-4.5 3 4.5zM238.6 201.4l3-4.5 3 4.5zM231.9 200.0l3-4.5 3 4.5zM255.6 197.7l3-4.5 3 4.5zM231.2 202.3l3-4.5 3 4.5zM254.1 195.6l3-4.5 3 4.5zM252.0 194.9l3-4.5 3 4.5zM179.6 194.9l3-4.5 3 4.5zM206.8 200.8l3-4.5 3 4.5zM250.0 195.6l3-4.5 3 4.5zM204.1 202.0l3-4.5 3 4.5zM229.5 202.1l3-4.5 3 4.5zM194.7 201.7l3-4.5 3 4.5zM189.1 195.1l3-4.5 3 4.5zM197.1 193.0l3-4.5 3 4.5zM198.1 194.8l3-4.5 3 4.5zM236.9 196.2l3-4.5 3 4.5zM225.8 201.4l3-4.5 3 4.5zM244.7 193.5l3-4.5 3 4.5zM219.5 201.1l3-4.5 3 4.5zM181.8 198.8l3-4.5 3 4.5zM256.9 197.7l3-4.5 3 4.5zM198.2 197.4l3-4.5 3 4.5zM177.4 194.4l3-4.5 3 4.5zM240.6 199.1l3-4.5 3 4.5zM177.0 193.6l3-4.5 3 4.5zM243.1 194.9l3-4.5 3 4.5zM192.3 193.3l3-4.5 3 4.5zM228.8 202.4l3-4.5 3 4.5zM257.7 195.0l3-4.5 3 4.5zM190.1 193.9l3-4.5 3 4.5zM225.1 196.5l3-4.5 3 4.5zM176.8 198.6l3-4.5 3 4.5zM241.6 201.6l3-4.5 3 4.5zM190.9 201.2l3-4.5 3 4.5zM223.9 201.5l3-4.5 3 4.5zM241.0 197.8l3-4.5 3 4.5zM240.8 193.7l3-4.5 3 4.5zM256.9 198.5l3-4.5 3 4.5zM205.4 194.9l3-4.5 3 4.5zM202.7 193.5l3-4.5 3 4.5zM203.0 196.5l3-4.5 3 4.5zM196.2 195.5l3-4.5 3 4.5zM198.5 198.4l3-4.5 3 4.5zM235.8 194.5l3-4.5 3 4.5zM186.3 199.9l3-4.5 3 4.5zM192.4 195.0l3-4.5 3 4.5zM231.6 195.6l3-4.5 3 4.5zM242.9 199.6l3-4.5 3 4.5zM216.6 202.9l3-4.5 3 4.5zM204.3 196.8l3-4.5 3 4.5zM196.5 194.8l3-4.5 3 4.5zM192.5 198.0l3-4.5 3 4.5zM232.5 200.3l3-4.5 3 4.5zM253.3 19.2l3-4.5 3 4.5zM242.9 36.9l3-4.5 3 4.5zM242.9 45.2l3-4.5 3 4.5zM233.8 60.7l3-4.5 3 4.5zM243.4 56.6l3-4.5 3 4.5zM238.1 66.2l3-4.5 3 4.5zM248.7 63.5l3-4.5 3 4.5zM251.8 60.7l3-4.5 3 4.5zM256.1 66.2l3-4.5 3 4.5zM246.5 49.7l3-4.5 3 4.5zM181.9 137.0l3-4.5 3 4.5zM177.0 152.0l3-4.5 3 4.5zM178.7 143.7l3-4.5 3 4.5zM184.0 139.5l3-4.5 3 4.5zM176.6 160.3l3-4.5 3 4.5zM179.8 165.8l3-4.5 3 4.5zM175.5 171.3l3-4.5 3 4.5zM199.9 134.0l3-4.5 3 4.5zM203.1 135.4l3-4.5 3 4.5zM196.7 138.1l3-4.5 3 4.5zM255.0 82.8l3-4.5 3 4.5zM257.1 93.9l3-4.5 3 4.5zM256.1 105.0l3-4.5 3 4.5zM257.8 113.3l3-4.5 3 4.5zM228.9 96.7l3-4.5 3 4.5zM227.5 110.5l3-4.5 3 4.5zM230.6 82.8l3-4.5 3 4.5zM257.1 124.3l3-4.5 3 4.5zM257.8 138.1l3-4.5 3 4.5zM256.5 74.5l3-4.5 3 4.5zM174.5 182.4l3-4.5 3 4.5zM174.0 190.7l3-4.5 3 4.5zM181.2 138.1l3-4.5 3 4.5zM179.5 141.7l3-4.5 3 4.5zM182.1 149.8l3-4.5 3 4.5zM184.0 156.1l3-4.5 3 4.5zM193.8 141.7l3-4.5 3 4.5zM190.4 146.4l3-4.5 3 4.5zM187.2 152.0l3-4.5 3 4.5zM177.6 164.4l3-4.5 3 4.5zM179.8 160.3l3-4.5 3 4.5zM182.9 158.9l3-4.5 3 4.5zM176.6 168.6l3-4.5 3 4.5zM178.7 154.7l3-4.5 3 4.5zM181.9 153.3l3-4.5 3 4.5zM185.1 153.3l3-4.5 3 4.5zM179.8 147.8l3-4.5 3 4.5zM182.9 145.1l3-4.5 3 4.5zM185.1 148.6l3-4.5 3 4.5zM180.8 140.4l3-4.5 3 4.5zM184.0 136.5l3-4.5 3 4.5zM186.5 140.9l3-4.5 3 4.5zM188.2 147.8l3-4.5 3 4.5z" fill="#4b4643" stroke="#4b4643" stroke-width="0.4"/>
<path d="M102.5 74.8l5.3-7.0 5.3 7.0zM101.0 80.4l5.3-7.0 5.3 7.0zM117.5 75.8l5.3-7.0 5.3 7.0zM111.2 95.7l5.3-7.0 5.3 7.0zM111.2 108.2l5.3-7.0 5.3 7.0zM82.7 137.4l5.3-7.0 5.3 7.0zM115.5 139.9l5.3-7.0 5.3 7.0zM134.7 127.4l5.3-7.0 5.3 7.0zM142.2 127.4l5.3-7.0 5.3 7.0zM162.2 125.9l5.3-7.0 5.3 7.0zM138.4 133.9l5.3-7.0 5.3 7.0zM138.7 140.4l5.3-7.0 5.3 7.0zM144.7 140.4l5.3-7.0 5.3 7.0zM153.4 142.9l5.3-7.0 5.3 7.0zM131.7 158.9l5.3-7.0 5.3 7.0zM139.7 156.9l5.3-7.0 5.3 7.0zM140.7 161.9l5.3-7.0 5.3 7.0zM125.2 168.9l5.3-7.0 5.3 7.0zM122.2 178.7l5.3-7.0 5.3 7.0zM149.7 149.9l5.3-7.0 5.3 7.0zM155.7 145.9l5.3-7.0 5.3 7.0zM160.7 148.9l5.3-7.0 5.3 7.0zM165.7 146.9l5.3-7.0 5.3 7.0zM168.7 145.9l5.3-7.0 5.3 7.0zM146.7 162.9l5.3-7.0 5.3 7.0zM151.7 166.9l5.3-7.0 5.3 7.0zM144.7 170.9l5.3-7.0 5.3 7.0zM149.7 174.9l5.3-7.0 5.3 7.0zM164.0 196.0l5.3-7.0 5.3 7.0zM160.0 193.3l5.3-7.0 5.3 7.0zM157.6 165.2l5.3-7.0 5.3 7.0zM152.4 158.0l5.3-7.0 5.3 7.0zM159.9 156.7l5.3-7.0 5.3 7.0zM152.6 170.5l5.3-7.0 5.3 7.0zM163.3 186.4l5.3-7.0 5.3 7.0zM168.7 193.9l5.3-7.0 5.3 7.0zM161.2 183.8l5.3-7.0 5.3 7.0zM162.6 169.8l5.3-7.0 5.3 7.0zM165.7 151.8l5.3-7.0 5.3 7.0zM162.0 156.2l5.3-7.0 5.3 7.0zM164.6 188.3l5.3-7.0 5.3 7.0zM155.6 195.4l5.3-7.0 5.3 7.0zM168.6 198.1l5.3-7.0 5.3 7.0zM162.4 197.2l5.3-7.0 5.3 7.0zM161.9 154.7l5.3-7.0 5.3 7.0zM148.3 195.2l5.3-7.0 5.3 7.0zM147.3 181.7l5.3-7.0 5.3 7.0zM166.7 180.4l5.3-7.0 5.3 7.0zM165.7 181.3l5.3-7.0 5.3 7.0zM156.4 191.2l5.3-7.0 5.3 7.0zM156.3 154.6l5.3-7.0 5.3 7.0zM157.9 196.6l5.3-7.0 5.3 7.0zM167.7 184.4l5.3-7.0 5.3 7.0zM156.1 174.8l5.3-7.0 5.3 7.0zM161.0 192.6l5.3-7.0 5.3 7.0zM170.0 176.0l5.3-7.0 5.3 7.0zM167.7 170.0l5.3-7.0 5.3 7.0zM164.2 156.7l5.3-7.0 5.3 7.0zM160.4 152.0l5.3-7.0 5.3 7.0zM165.5 157.8l5.3-7.0 5.3 7.0zM160.3 174.3l5.3-7.0 5.3 7.0zM169.9 174.3l5.3-7.0 5.3 7.0zM161.4 170.7l5.3-7.0 5.3 7.0zM156.4 173.5l5.3-7.0 5.3 7.0zM161.7 191.9l5.3-7.0 5.3 7.0zM163.2 189.5l5.3-7.0 5.3 7.0zM169.9 146.0l5.3-7.0 5.3 7.0zM164.9 169.7l5.3-7.0 5.3 7.0zM166.3 171.2l5.3-7.0 5.3 7.0zM157.8 187.5l5.3-7.0 5.3 7.0zM160.7 178.1l5.3-7.0 5.3 7.0zM162.4 160.7l5.3-7.0 5.3 7.0zM142.7 177.7l5.3-7.0 5.3 7.0zM140.4 180.6l5.3-7.0 5.3 7.0zM164.5 188.1l5.3-7.0 5.3 7.0zM159.2 174.8l5.3-7.0 5.3 7.0zM167.0 157.8l5.3-7.0 5.3 7.0zM161.7 180.9l5.3-7.0 5.3 7.0zM163.1 192.7l5.3-7.0 5.3 7.0zM163.1 158.6l5.3-7.0 5.3 7.0zM167.3 166.3l5.3-7.0 5.3 7.0zM152.1 190.4l5.3-7.0 5.3 7.0zM148.0 163.0l5.3-7.0 5.3 7.0zM169.9 166.7l5.3-7.0 5.3 7.0zM165.3 195.7l5.3-7.0 5.3 7.0zM164.9 154.6l5.3-7.0 5.3 7.0zM161.2 178.4l5.3-7.0 5.3 7.0zM169.1 161.1l5.3-7.0 5.3 7.0zM162.4 151.2l5.3-7.0 5.3 7.0zM148.0 186.2l5.3-7.0 5.3 7.0zM170.1 180.7l5.3-7.0 5.3 7.0zM164.1 193.2l5.3-7.0 5.3 7.0zM155.3 174.9l5.3-7.0 5.3 7.0zM166.4 195.5l5.3-7.0 5.3 7.0zM162.7 159.3l5.3-7.0 5.3 7.0zM165.5 187.9l5.3-7.0 5.3 7.0zM169.3 169.9l5.3-7.0 5.3 7.0zM163.8 183.9l5.3-7.0 5.3 7.0zM153.5 187.8l5.3-7.0 5.3 7.0zM162.1 191.8l5.3-7.0 5.3 7.0zM158.4 176.5l5.3-7.0 5.3 7.0zM169.0 178.8l5.3-7.0 5.3 7.0zM167.1 160.2l5.3-7.0 5.3 7.0z" fill="#f2a67c" stroke="#e78d58" stroke-width="0.9" fill-opacity="0.78"/>
<path d="M270.9 107.4l5.3-7.0 5.3 7.0zM261.7 113.9l5.3-7.0 5.3 7.0zM267.7 118.4l5.3-7.0 5.3 7.0zM280.9 135.4l5.3-7.0 5.3 7.0zM277.2 153.9l5.3-7.0 5.3 7.0zM274.7 160.4l5.3-7.0 5.3 7.0zM279.7 166.7l5.3-7.0 5.3 7.0zM270.7 167.9l5.3-7.0 5.3 7.0zM273.4 182.4l5.3-7.0 5.3 7.0zM255.9 51.7l5.3-7.0 5.3 7.0zM259.2 59.2l5.3-7.0 5.3 7.0zM263.4 97.9l5.3-7.0 5.3 7.0zM260.7 113.9l5.3-7.0 5.3 7.0zM267.2 118.9l5.3-7.0 5.3 7.0zM267.2 124.9l5.3-7.0 5.3 7.0zM260.7 130.9l5.3-7.0 5.3 7.0zM263.7 138.9l5.3-7.0 5.3 7.0zM265.7 144.9l5.3-7.0 5.3 7.0zM262.7 150.9l5.3-7.0 5.3 7.0zM266.7 157.9l5.3-7.0 5.3 7.0zM260.7 162.9l5.3-7.0 5.3 7.0zM264.7 170.9l5.3-7.0 5.3 7.0zM268.7 174.9l5.3-7.0 5.3 7.0zM261.7 178.9l5.3-7.0 5.3 7.0zM265.7 182.9l5.3-7.0 5.3 7.0zM260.2 135.2l5.3-7.0 5.3 7.0zM260.9 144.9l5.3-7.0 5.3 7.0zM265.8 170.3l5.3-7.0 5.3 7.0zM264.1 149.4l5.3-7.0 5.3 7.0zM261.4 165.1l5.3-7.0 5.3 7.0zM270.2 153.5l5.3-7.0 5.3 7.0zM269.9 121.6l5.3-7.0 5.3 7.0zM263.5 164.3l5.3-7.0 5.3 7.0zM263.5 167.3l5.3-7.0 5.3 7.0zM259.5 134.5l5.3-7.0 5.3 7.0zM263.4 153.4l5.3-7.0 5.3 7.0zM259.8 117.5l5.3-7.0 5.3 7.0zM260.2 151.1l5.3-7.0 5.3 7.0zM259.1 165.5l5.3-7.0 5.3 7.0zM263.5 114.4l5.3-7.0 5.3 7.0zM264.1 144.2l5.3-7.0 5.3 7.0zM265.1 129.1l5.3-7.0 5.3 7.0zM267.5 108.4l5.3-7.0 5.3 7.0zM260.2 158.1l5.3-7.0 5.3 7.0zM261.3 119.2l5.3-7.0 5.3 7.0zM270.0 114.8l5.3-7.0 5.3 7.0zM263.4 110.1l5.3-7.0 5.3 7.0zM260.0 169.8l5.3-7.0 5.3 7.0zM259.4 161.8l5.3-7.0 5.3 7.0zM260.8 152.6l5.3-7.0 5.3 7.0zM262.6 183.3l5.3-7.0 5.3 7.0zM262.1 158.7l5.3-7.0 5.3 7.0zM259.5 147.5l5.3-7.0 5.3 7.0zM257.5 113.5l5.3-7.0 5.3 7.0zM266.2 117.1l5.3-7.0 5.3 7.0zM270.0 146.5l5.3-7.0 5.3 7.0zM259.6 139.9l5.3-7.0 5.3 7.0zM257.7 118.5l5.3-7.0 5.3 7.0zM259.1 125.2l5.3-7.0 5.3 7.0zM260.3 142.9l5.3-7.0 5.3 7.0zM260.7 141.7l5.3-7.0 5.3 7.0z" fill="#6ba3d3" stroke="#3f7fb8" stroke-width="0.9" fill-opacity="0.78"/>
</g>
<rect x="76" y="9.2" width="286" height="201.70000000000002" fill="none" stroke="#111" stroke-width="1.6"/>
<line x1="91.6" y1="210.9" x2="91.6" y2="214.4" stroke="#222" stroke-width="1"/>
<text x="86.8" y="222.4" font-size="7.3" fill="#111" textLength="8.4" lengthAdjust="spacingAndGlyphs">-6</text>
<line x1="134.0" y1="210.9" x2="134.0" y2="214.4" stroke="#222" stroke-width="1"/>
<text x="129.2" y="222.4" font-size="7.3" fill="#111" textLength="8.4" lengthAdjust="spacingAndGlyphs">-4</text>
<line x1="176.4" y1="210.9" x2="176.4" y2="214.4" stroke="#222" stroke-width="1"/>
<text x="171.6" y="222.4" font-size="7.3" fill="#111" textLength="8.4" lengthAdjust="spacingAndGlyphs">-2</text>
<line x1="218.8" y1="210.9" x2="218.8" y2="214.4" stroke="#222" stroke-width="1"/>
<text x="216.1" y="222.4" font-size="7.3" fill="#111" textLength="5.4" lengthAdjust="spacingAndGlyphs">0</text>
<line x1="261.2" y1="210.9" x2="261.2" y2="214.4" stroke="#222" stroke-width="1"/>
<text x="258.5" y="222.4" font-size="7.3" fill="#111" textLength="5.4" lengthAdjust="spacingAndGlyphs">2</text>
<line x1="303.6" y1="210.9" x2="303.6" y2="214.4" stroke="#222" stroke-width="1"/>
<text x="300.9" y="222.4" font-size="7.3" fill="#111" textLength="5.4" lengthAdjust="spacingAndGlyphs">4</text>
<line x1="346.0" y1="210.9" x2="346.0" y2="214.4" stroke="#222" stroke-width="1"/>
<text x="343.3" y="222.4" font-size="7.3" fill="#111" textLength="5.4" lengthAdjust="spacingAndGlyphs">6</text>
<line x1="71.5" y1="202.5" x2="76" y2="202.5" stroke="#222" stroke-width="1"/>
<text x="61.6" y="205.4" font-size="7.8" fill="#111" textLength="5.6" lengthAdjust="spacingAndGlyphs">0</text>
<line x1="71.5" y1="147.2" x2="76" y2="147.2" stroke="#222" stroke-width="1"/>
<text x="55.9" y="150.1" font-size="7.8" fill="#111" textLength="11.3" lengthAdjust="spacingAndGlyphs">20</text>
<line x1="71.5" y1="91.9" x2="76" y2="91.9" stroke="#222" stroke-width="1"/>
<text x="55.9" y="94.8" font-size="7.8" fill="#111" textLength="11.3" lengthAdjust="spacingAndGlyphs">40</text>
<line x1="71.5" y1="36.6" x2="76" y2="36.6" stroke="#222" stroke-width="1"/>
<text x="55.9" y="39.5" font-size="7.8" fill="#111" textLength="11.3" lengthAdjust="spacingAndGlyphs">60</text>
<text x="167.5" y="233.6" font-size="8.6" fill="#1a1a1a" stroke="#1a1a1a" stroke-width="0.25" textLength="107" lengthAdjust="spacingAndGlyphs">Log<tspan font-size="6" dy="1.6">2</tspan><tspan dy="-1.6"> (Fold change)</tspan></text>
<g transform="translate(46,147.5) rotate(-90) scale(1,1.28)"><text x="0" y="0" font-size="8.6" fill="#222" textLength="77" lengthAdjust="spacingAndGlyphs">−Log<tspan font-size="5.5" dy="1">10</tspan><tspan dy="-1"> </tspan><tspan font-style="italic">P</tspan> adj value</text></g>
<text x="89" y="205.4" font-size="8.8" fill="#dc9a70" textLength="59" lengthAdjust="spacingAndGlyphs">Down: 100</text>
<text x="313" y="205.4" font-size="8.8" fill="#5286bb" textLength="35.3" lengthAdjust="spacingAndGlyphs">Up: 59</text>
</g>
<g id="heatmap">
<text x="541.6" y="54.6" font-size="7" fill="#262626" text-anchor="end" textLength="26" lengthAdjust="spacingAndGlyphs">SVEP1</text>
<text x="541.6" y="68.3" font-size="7" fill="#262626" text-anchor="end" textLength="38.3" lengthAdjust="spacingAndGlyphs">COL14A1</text>
<text x="541.6" y="82.0" font-size="7" fill="#262626" text-anchor="end" textLength="27.5" lengthAdjust="spacingAndGlyphs">FGF10</text>
<text x="541.6" y="95.7" font-size="7" fill="#262626" text-anchor="end" textLength="21" lengthAdjust="spacingAndGlyphs">OMD</text>
<text x="541.6" y="109.4" font-size="7" fill="#262626" text-anchor="end" textLength="24" lengthAdjust="spacingAndGlyphs">KERA</text>
<text x="541.6" y="123.0" font-size="7" fill="#262626" text-anchor="end" textLength="43.3" lengthAdjust="spacingAndGlyphs">MIR143HG</text>
<text x="541.6" y="136.7" font-size="7" fill="#262626" text-anchor="end" textLength="46" lengthAdjust="spacingAndGlyphs">LINC00702</text>
<text x="541.6" y="150.4" font-size="7" fill="#262626" text-anchor="end" textLength="55" lengthAdjust="spacingAndGlyphs">RP5-965F6.2</text>
<text x="541.6" y="164.1" font-size="7" fill="#262626" text-anchor="end" textLength="23" lengthAdjust="spacingAndGlyphs">TNXB</text>
<text x="541.6" y="177.8" font-size="7" fill="#262626" text-anchor="end" textLength="18" lengthAdjust="spacingAndGlyphs">NRK</text>
<text x="541.6" y="191.4" font-size="7" fill="#262626" text-anchor="end" textLength="19.5" lengthAdjust="spacingAndGlyphs">OGN</text>
<text x="541.6" y="205.1" font-size="7" fill="#262626" text-anchor="end" textLength="34.5" lengthAdjust="spacingAndGlyphs">SYNPO2</text>
<text x="541.6" y="218.8" font-size="7" fill="#262626" text-anchor="end" textLength="28" lengthAdjust="spacingAndGlyphs">SFRP1</text>
<text x="541.6" y="232.5" font-size="7" fill="#262626" text-anchor="end" textLength="50.5" lengthAdjust="spacingAndGlyphs">HAND2-AS1</text>
<text x="541.6" y="246.2" font-size="7" fill="#262626" text-anchor="end" textLength="28" lengthAdjust="spacingAndGlyphs">THBS4</text>
<path d="M583.5 59.0v13.8M585.9 59.0v13.8M583.5 154.7v13.8M585.9 195.8v13.8" stroke="#6a86bc" stroke-width="1.29" fill="none"/>
<path d="M585.9 45.3v13.8M587.1 45.3v13.8M554.4 59.0v13.8M587.1 59.0v13.8M588.3 59.0v13.8M589.5 59.0v13.8M596.8 59.0v13.8M606.4 59.0v13.8M583.5 86.3v13.8M588.3 86.3v13.8M583.5 195.8v13.8" stroke="#7991c2" stroke-width="1.29" fill="none"/>
<path d="M554.4 45.3v13.8M571.4 45.3v13.8M577.4 45.3v13.8M588.3 45.3v13.8M596.8 45.3v13.8M598.0 45.3v13.8M600.4 45.3v13.8M608.9 45.3v13.8M549.6 59.0v13.8M571.4 59.0v13.8M572.6 59.0v13.8M576.2 59.0v13.8M554.4 86.3v13.8M559.3 86.3v13.8M560.5 86.3v13.8M602.8 86.3v13.8M549.6 100.0v13.8M571.4 100.0v13.8M583.5 113.7v13.8M588.3 127.4v13.8M559.3 141.1v13.8M604.0 141.1v13.8M560.5 154.7v13.8M567.7 154.7v13.8M608.9 154.7v13.8M554.4 168.4v13.8M596.8 168.4v13.8M559.3 182.1v13.8M583.5 182.1v13.8M555.7 195.8v13.8M587.1 209.5v13.8M590.7 209.5v13.8M583.5 223.1v13.8M588.3 223.1v13.8" stroke="#879dc8" stroke-width="1.29" fill="none"/>
<path d="M549.6 45.3v13.8M555.7 45.3v13.8M560.5 45.3v13.8M583.5 45.3v13.8M604.0 45.3v13.8M553.2 59.0v13.8M555.7 59.0v13.8M559.3 59.0v13.8M560.5 59.0v13.8M566.5 59.0v13.8M570.2 59.0v13.8M579.8 59.0v13.8M582.3 59.0v13.8M594.4 59.0v13.8M604.0 59.0v13.8M622.2 59.0v13.8M585.9 72.7v13.8M604.0 72.7v13.8M610.1 72.7v13.8M616.1 72.7v13.8M549.6 86.3v13.8M556.9 86.3v13.8M572.6 86.3v13.8M576.2 86.3v13.8M585.9 86.3v13.8M587.1 86.3v13.8M590.7 86.3v13.8M596.8 86.3v13.8M604.0 86.3v13.8M588.3 100.0v13.8M590.7 100.0v13.8M554.4 113.7v13.8M588.3 113.7v13.8M590.7 113.7v13.8M570.2 127.4v13.8M583.5 127.4v13.8M611.3 127.4v13.8M549.6 141.1v13.8M555.7 141.1v13.8M570.2 141.1v13.8M572.6 141.1v13.8M583.5 141.1v13.8M594.4 141.1v13.8M549.6 154.7v13.8M554.4 154.7v13.8M559.3 154.7v13.8M572.6 154.7v13.8M577.4 154.7v13.8M585.9 154.7v13.8M588.3 154.7v13.8M590.7 154.7v13.8M596.8 154.7v13.8M598.0 154.7v13.8M606.4 154.7v13.8M559.3 168.4v13.8M589.5 168.4v13.8M585.9 182.1v13.8M589.5 182.1v13.8M598.0 182.1v13.8M549.6 195.8v13.8M556.9 195.8v13.8M572.6 195.8v13.8M587.1 195.8v13.8M588.3 195.8v13.8M596.8 195.8v13.8M572.6 209.5v13.8M583.5 209.5v13.8M588.3 209.5v13.8M590.7 223.1v13.8M596.8 223.1v13.8M598.0 223.1v13.8M550.8 236.8v13.8M561.7 236.8v13.8M571.4 236.8v13.8M583.5 236.8v13.8M588.3 236.8v13.8M589.5 236.8v13.8" stroke="#96a8ce" stroke-width="1.29" fill="none"/>
<path d="M553.2 45.3v13.8M556.9 45.3v13.8M559.3 45.3v13.8M565.3 45.3v13.8M566.5 45.3v13.8M567.7 45.3v13.8M572.6 45.3v13.8M575.0 45.3v13.8M576.2 45.3v13.8M581.0 45.3v13.8M582.3 45.3v13.8M584.7 45.3v13.8M589.5 45.3v13.8M590.7 45.3v13.8M591.9 45.3v13.8M594.4 45.3v13.8M595.6 45.3v13.8M614.9 45.3v13.8M621.0 45.3v13.8M550.8 59.0v13.8M552.0 59.0v13.8M561.7 59.0v13.8M564.1 59.0v13.8M565.3 59.0v13.8M577.4 59.0v13.8M578.6 59.0v13.8M598.0 59.0v13.8M600.4 59.0v13.8M602.8 59.0v13.8M611.3 59.0v13.8M614.9 59.0v13.8M616.1 59.0v13.8M559.3 72.7v13.8M560.5 72.7v13.8M572.6 72.7v13.8M590.7 72.7v13.8M600.4 72.7v13.8M606.4 72.7v13.8M555.7 86.3v13.8M562.9 86.3v13.8M566.5 86.3v13.8M567.7 86.3v13.8M570.2 86.3v13.8M573.8 86.3v13.8M578.6 86.3v13.8M581.0 86.3v13.8M589.5 86.3v13.8M591.9 86.3v13.8M594.4 86.3v13.8M600.4 86.3v13.8M611.3 86.3v13.8M616.1 86.3v13.8M623.4 86.3v13.8M554.4 100.0v13.8M559.3 100.0v13.8M560.5 100.0v13.8M564.1 100.0v13.8M589.5 100.0v13.8M598.0 100.0v13.8M604.0 100.0v13.8M616.1 100.0v13.8M549.6 113.7v13.8M560.5 113.7v13.8M571.4 113.7v13.8M572.6 113.7v13.8M578.6 113.7v13.8M594.4 113.7v13.8M604.0 113.7v13.8M605.2 113.7v13.8M608.9 113.7v13.8M613.7 113.7v13.8M549.6 127.4v13.8M559.3 127.4v13.8M566.5 127.4v13.8M571.4 127.4v13.8M575.0 127.4v13.8M596.8 127.4v13.8M598.0 127.4v13.8M604.0 127.4v13.8M606.4 127.4v13.8M608.9 127.4v13.8M621.0 127.4v13.8M554.4 141.1v13.8M560.5 141.1v13.8M575.0 141.1v13.8M596.8 141.1v13.8M613.7 141.1v13.8M550.8 154.7v13.8M552.0 154.7v13.8M570.2 154.7v13.8M571.4 154.7v13.8M573.8 154.7v13.8M576.2 154.7v13.8M578.6 154.7v13.8M581.0 154.7v13.8M584.7 154.7v13.8M591.9 154.7v13.8M594.4 154.7v13.8M602.8 154.7v13.8M549.6 168.4v13.8M560.5 168.4v13.8M562.9 168.4v13.8M566.5 168.4v13.8M570.2 168.4v13.8M572.6 168.4v13.8M576.2 168.4v13.8M577.4 168.4v13.8M588.3 168.4v13.8M598.0 168.4v13.8M601.6 168.4v13.8M616.1 168.4v13.8M549.6 182.1v13.8M554.4 182.1v13.8M555.7 182.1v13.8M560.5 182.1v13.8M570.2 182.1v13.8M572.6 182.1v13.8M575.0 182.1v13.8M578.6 182.1v13.8M588.3 182.1v13.8M590.7 182.1v13.8M596.8 182.1v13.8M602.8 182.1v13.8M606.4 182.1v13.8M608.9 182.1v13.8M610.1 182.1v13.8M613.7 182.1v13.8M616.1 182.1v13.8M554.4 195.8v13.8M565.3 195.8v13.8M566.5 195.8v13.8M567.7 195.8v13.8M589.5 195.8v13.8M591.9 195.8v13.8M602.8 195.8v13.8M604.0 195.8v13.8M608.9 195.8v13.8M611.3 195.8v13.8M613.7 195.8v13.8M550.8 209.5v13.8M554.4 209.5v13.8M559.3 209.5v13.8M565.3 209.5v13.8M567.7 209.5v13.8M571.4 209.5v13.8M582.3 209.5v13.8M584.7 209.5v13.8M585.9 209.5v13.8M591.9 209.5v13.8M604.0 209.5v13.8M605.2 209.5v13.8M611.3 209.5v13.8M549.6 223.1v13.8M553.2 223.1v13.8M560.5 223.1v13.8M571.4 223.1v13.8M575.0 223.1v13.8M576.2 223.1v13.8M579.8 223.1v13.8M604.0 223.1v13.8M621.0 223.1v13.8M554.4 236.8v13.8M556.9 236.8v13.8M559.3 236.8v13.8M560.5 236.8v13.8M577.4 236.8v13.8M585.9 236.8v13.8M590.7 236.8v13.8M596.8 236.8v13.8M621.0 236.8v13.8" stroke="#a4b3d4" stroke-width="1.29" fill="none"/>
<path d="M550.8 45.3v13.8M552.0 45.3v13.8M558.1 45.3v13.8M561.7 45.3v13.8M562.9 45.3v13.8M564.1 45.3v13.8M570.2 45.3v13.8M573.8 45.3v13.8M578.6 45.3v13.8M599.2 45.3v13.8M601.6 45.3v13.8M606.4 45.3v13.8M610.1 45.3v13.8M611.3 45.3v13.8M612.5 45.3v13.8M613.7 45.3v13.8M622.2 45.3v13.8M623.4 45.3v13.8M558.1 59.0v13.8M562.9 59.0v13.8M573.8 59.0v13.8M575.0 59.0v13.8M584.7 59.0v13.8M590.7 59.0v13.8M591.9 59.0v13.8M595.6 59.0v13.8M601.6 59.0v13.8M608.9 59.0v13.8M613.7 59.0v13.8M621.0 59.0v13.8M623.4 59.0v13.8M549.6 72.7v13.8M554.4 72.7v13.8M566.5 72.7v13.8M567.7 72.7v13.8M571.4 72.7v13.8M575.0 72.7v13.8M583.5 72.7v13.8M588.3 72.7v13.8M591.9 72.7v13.8M596.8 72.7v13.8M608.9 72.7v13.8M613.7 72.7v13.8M550.8 86.3v13.8M552.0 86.3v13.8M553.2 86.3v13.8M558.1 86.3v13.8M564.1 86.3v13.8M565.3 86.3v13.8M571.4 86.3v13.8M575.0 86.3v13.8M577.4 86.3v13.8M579.8 86.3v13.8M582.3 86.3v13.8M598.0 86.3v13.8M621.0 86.3v13.8M624.6 86.3v13.8M553.2 100.0v13.8M562.9 100.0v13.8M566.5 100.0v13.8M570.2 100.0v13.8M572.6 100.0v13.8M573.8 100.0v13.8M575.0 100.0v13.8M577.4 100.0v13.8M582.3 100.0v13.8M583.5 100.0v13.8M584.7 100.0v13.8M596.8 100.0v13.8M621.0 100.0v13.8M550.8 113.7v13.8M555.7 113.7v13.8M559.3 113.7v13.8M561.7 113.7v13.8M564.1 113.7v13.8M567.7 113.7v13.8M573.8 113.7v13.8M576.2 113.7v13.8M577.4 113.7v13.8M579.8 113.7v13.8M585.9 113.7v13.8M595.6 113.7v13.8M598.0 113.7v13.8M607.7 113.7v13.8M616.1 113.7v13.8M550.8 127.4v13.8M560.5 127.4v13.8M572.6 127.4v13.8M579.8 127.4v13.8M582.3 127.4v13.8M584.7 127.4v13.8M585.9 127.4v13.8M587.1 127.4v13.8M600.4 127.4v13.8M601.6 127.4v13.8M602.8 127.4v13.8M618.5 127.4v13.8M552.0 141.1v13.8M553.2 141.1v13.8M556.9 141.1v13.8M571.4 141.1v13.8M573.8 141.1v13.8M584.7 141.1v13.8M585.9 141.1v13.8M588.3 141.1v13.8M589.5 141.1v13.8M590.7 141.1v13.8M591.9 141.1v13.8M600.4 141.1v13.8M606.4 141.1v13.8M617.3 141.1v13.8M623.4 141.1v13.8M555.7 154.7v13.8M561.7 154.7v13.8M562.9 154.7v13.8M566.5 154.7v13.8M575.0 154.7v13.8M599.2 154.7v13.8M600.4 154.7v13.8M601.6 154.7v13.8M604.0 154.7v13.8M618.5 154.7v13.8M621.0 154.7v13.8M550.8 168.4v13.8M553.2 168.4v13.8M556.9 168.4v13.8M567.7 168.4v13.8M578.6 168.4v13.8M585.9 168.4v13.8M590.7 168.4v13.8M594.4 168.4v13.8M595.6 168.4v13.8M600.4 168.4v13.8M604.0 168.4v13.8M606.4 168.4v13.8M608.9 168.4v13.8M619.7 168.4v13.8M550.8 182.1v13.8M553.2 182.1v13.8M556.9 182.1v13.8M565.3 182.1v13.8M566.5 182.1v13.8M567.7 182.1v13.8M571.4 182.1v13.8M579.8 182.1v13.8M600.4 182.1v13.8M601.6 182.1v13.8M604.0 182.1v13.8M605.2 182.1v13.8M612.5 182.1v13.8M621.0 182.1v13.8M550.8 195.8v13.8M559.3 195.8v13.8M560.5 195.8v13.8M570.2 195.8v13.8M576.2 195.8v13.8M577.4 195.8v13.8M578.6 195.8v13.8M579.8 195.8v13.8M590.7 195.8v13.8M594.4 195.8v13.8M598.0 195.8v13.8M601.6 195.8v13.8M606.4 195.8v13.8M616.1 195.8v13.8M621.0 195.8v13.8M549.6 209.5v13.8M553.2 209.5v13.8M555.7 209.5v13.8M560.5 209.5v13.8M561.7 209.5v13.8M562.9 209.5v13.8M566.5 209.5v13.8M575.0 209.5v13.8M576.2 209.5v13.8M577.4 209.5v13.8M578.6 209.5v13.8M579.8 209.5v13.8M589.5 209.5v13.8M596.8 209.5v13.8M554.4 223.1v13.8M556.9 223.1v13.8M559.3 223.1v13.8M572.6 223.1v13.8M577.4 223.1v13.8M581.0 223.1v13.8M587.1 223.1v13.8M602.8 223.1v13.8M610.1 223.1v13.8M611.3 223.1v13.8M549.6 236.8v13.8M553.2 236.8v13.8M555.7 236.8v13.8M558.1 236.8v13.8M562.9 236.8v13.8M567.7 236.8v13.8M572.6 236.8v13.8M575.0 236.8v13.8M578.6 236.8v13.8M594.4 236.8v13.8M598.0 236.8v13.8M604.0 236.8v13.8M606.4 236.8v13.8M607.7 236.8v13.8" stroke="#b3bfda" stroke-width="1.29" fill="none"/>
<path d="M625.8 45.3v13.8M627.0 45.3v13.8M634.3 45.3v13.8M636.7 45.3v13.8M639.1 45.3v13.8M640.3 45.3v13.8M657.2 45.3v13.8M668.1 45.3v13.8M556.9 59.0v13.8M567.7 59.0v13.8M581.0 59.0v13.8M599.2 59.0v13.8M605.2 59.0v13.8M612.5 59.0v13.8M618.5 59.0v13.8M619.7 59.0v13.8M625.8 59.0v13.8M631.8 59.0v13.8M636.7 59.0v13.8M640.3 59.0v13.8M641.5 59.0v13.8M645.1 59.0v13.8M646.4 59.0v13.8M647.6 59.0v13.8M657.2 59.0v13.8M663.3 59.0v13.8M665.7 59.0v13.8M670.5 59.0v13.8M711.7 59.0v13.8M550.8 72.7v13.8M552.0 72.7v13.8M555.7 72.7v13.8M556.9 72.7v13.8M561.7 72.7v13.8M570.2 72.7v13.8M573.8 72.7v13.8M577.4 72.7v13.8M579.8 72.7v13.8M582.3 72.7v13.8M594.4 72.7v13.8M595.6 72.7v13.8M611.3 72.7v13.8M612.5 72.7v13.8M614.9 72.7v13.8M623.4 72.7v13.8M625.8 72.7v13.8M631.8 72.7v13.8M636.7 72.7v13.8M646.4 72.7v13.8M648.8 72.7v13.8M662.1 72.7v13.8M664.5 72.7v13.8M561.7 86.3v13.8M584.7 86.3v13.8M605.2 86.3v13.8M608.9 86.3v13.8M612.5 86.3v13.8M627.0 86.3v13.8M628.2 86.3v13.8M636.7 86.3v13.8M640.3 86.3v13.8M641.5 86.3v13.8M643.9 86.3v13.8M646.4 86.3v13.8M648.8 86.3v13.8M650.0 86.3v13.8M664.5 86.3v13.8M665.7 86.3v13.8M676.6 86.3v13.8M552.0 100.0v13.8M555.7 100.0v13.8M556.9 100.0v13.8M558.1 100.0v13.8M561.7 100.0v13.8M567.7 100.0v13.8M576.2 100.0v13.8M578.6 100.0v13.8M579.8 100.0v13.8M581.0 100.0v13.8M585.9 100.0v13.8M594.4 100.0v13.8M606.4 100.0v13.8M608.9 100.0v13.8M612.5 100.0v13.8M613.7 100.0v13.8M627.0 100.0v13.8M633.1 100.0v13.8M639.1 100.0v13.8M640.3 100.0v13.8M646.4 100.0v13.8M648.8 100.0v13.8M657.2 100.0v13.8M665.7 100.0v13.8M668.1 100.0v13.8M552.0 113.7v13.8M553.2 113.7v13.8M556.9 113.7v13.8M565.3 113.7v13.8M566.5 113.7v13.8M569.0 113.7v13.8M570.2 113.7v13.8M575.0 113.7v13.8M587.1 113.7v13.8M589.5 113.7v13.8M602.8 113.7v13.8M606.4 113.7v13.8M611.3 113.7v13.8M619.7 113.7v13.8M621.0 113.7v13.8M634.3 113.7v13.8M640.3 113.7v13.8M647.6 113.7v13.8M662.1 113.7v13.8M664.5 113.7v13.8M665.7 113.7v13.8M669.3 113.7v13.8M670.5 113.7v13.8M682.6 113.7v13.8M686.3 113.7v13.8M711.7 113.7v13.8M552.0 127.4v13.8M554.4 127.4v13.8M555.7 127.4v13.8M556.9 127.4v13.8M558.1 127.4v13.8M561.7 127.4v13.8M562.9 127.4v13.8M567.7 127.4v13.8M573.8 127.4v13.8M577.4 127.4v13.8M581.0 127.4v13.8M589.5 127.4v13.8M590.7 127.4v13.8M591.9 127.4v13.8M593.1 127.4v13.8M594.4 127.4v13.8M612.5 127.4v13.8M616.1 127.4v13.8M619.7 127.4v13.8M647.6 127.4v13.8M648.8 127.4v13.8M650.0 127.4v13.8M657.2 127.4v13.8M659.7 127.4v13.8M664.5 127.4v13.8M668.1 127.4v13.8M669.3 127.4v13.8M674.2 127.4v13.8M676.6 127.4v13.8M562.9 141.1v13.8M564.1 141.1v13.8M565.3 141.1v13.8M566.5 141.1v13.8M576.2 141.1v13.8M578.6 141.1v13.8M579.8 141.1v13.8M581.0 141.1v13.8M582.3 141.1v13.8M587.1 141.1v13.8M595.6 141.1v13.8M598.0 141.1v13.8M602.8 141.1v13.8M605.2 141.1v13.8M631.8 141.1v13.8M633.1 141.1v13.8M636.7 141.1v13.8M650.0 141.1v13.8M657.2 141.1v13.8M664.5 141.1v13.8M665.7 141.1v13.8M673.0 141.1v13.8M682.6 141.1v13.8M553.2 154.7v13.8M556.9 154.7v13.8M558.1 154.7v13.8M565.3 154.7v13.8M579.8 154.7v13.8M582.3 154.7v13.8M587.1 154.7v13.8M589.5 154.7v13.8M605.2 154.7v13.8M610.1 154.7v13.8M612.5 154.7v13.8M616.1 154.7v13.8M625.8 154.7v13.8M634.3 154.7v13.8M636.7 154.7v13.8M640.3 154.7v13.8M641.5 154.7v13.8M647.6 154.7v13.8M648.8 154.7v13.8M660.9 154.7v13.8M665.7 154.7v13.8M668.1 154.7v13.8M676.6 154.7v13.8M682.6 154.7v13.8M722.5 154.7v13.8M552.0 168.4v13.8M555.7 168.4v13.8M558.1 168.4v13.8M561.7 168.4v13.8M565.3 168.4v13.8M571.4 168.4v13.8M573.8 168.4v13.8M575.0 168.4v13.8M579.8 168.4v13.8M582.3 168.4v13.8M584.7 168.4v13.8M591.9 168.4v13.8M602.8 168.4v13.8M613.7 168.4v13.8M621.0 168.4v13.8M625.8 168.4v13.8M629.4 168.4v13.8M633.1 168.4v13.8M636.7 168.4v13.8M640.3 168.4v13.8M643.9 168.4v13.8M646.4 168.4v13.8M648.8 168.4v13.8M651.2 168.4v13.8M658.4 168.4v13.8M662.1 168.4v13.8M664.5 168.4v13.8M692.3 168.4v13.8M558.1 182.1v13.8M561.7 182.1v13.8M564.1 182.1v13.8M573.8 182.1v13.8M576.2 182.1v13.8M577.4 182.1v13.8M581.0 182.1v13.8M582.3 182.1v13.8M587.1 182.1v13.8M591.9 182.1v13.8M594.4 182.1v13.8M611.3 182.1v13.8M619.7 182.1v13.8M622.2 182.1v13.8M625.8 182.1v13.8M627.0 182.1v13.8M634.3 182.1v13.8M640.3 182.1v13.8M665.7 182.1v13.8M666.9 182.1v13.8M668.1 182.1v13.8M670.5 182.1v13.8M676.6 182.1v13.8M698.4 182.1v13.8M705.6 182.1v13.8M552.0 195.8v13.8M553.2 195.8v13.8M558.1 195.8v13.8M561.7 195.8v13.8M562.9 195.8v13.8M573.8 195.8v13.8M584.7 195.8v13.8M605.2 195.8v13.8M619.7 195.8v13.8M622.2 195.8v13.8M627.0 195.8v13.8M636.7 195.8v13.8M641.5 195.8v13.8M646.4 195.8v13.8M647.6 195.8v13.8M653.6 195.8v13.8M662.1 195.8v13.8M665.7 195.8v13.8M666.9 195.8v13.8M668.1 195.8v13.8M705.6 195.8v13.8M552.0 209.5v13.8M556.9 209.5v13.8M564.1 209.5v13.8M573.8 209.5v13.8M594.4 209.5v13.8M595.6 209.5v13.8M598.0 209.5v13.8M600.4 209.5v13.8M601.6 209.5v13.8M602.8 209.5v13.8M606.4 209.5v13.8M608.9 209.5v13.8M613.7 209.5v13.8M627.0 209.5v13.8M636.7 209.5v13.8M645.1 209.5v13.8M646.4 209.5v13.8M648.8 209.5v13.8M657.2 209.5v13.8M660.9 209.5v13.8M664.5 209.5v13.8M665.7 209.5v13.8M668.1 209.5v13.8M675.4 209.5v13.8M692.3 209.5v13.8M699.6 209.5v13.8M722.5 209.5v13.8M550.8 223.1v13.8M552.0 223.1v13.8M561.7 223.1v13.8M562.9 223.1v13.8M565.3 223.1v13.8M566.5 223.1v13.8M567.7 223.1v13.8M570.2 223.1v13.8M573.8 223.1v13.8M582.3 223.1v13.8M584.7 223.1v13.8M594.4 223.1v13.8M599.2 223.1v13.8M600.4 223.1v13.8M601.6 223.1v13.8M607.7 223.1v13.8M608.9 223.1v13.8M617.3 223.1v13.8M618.5 223.1v13.8M619.7 223.1v13.8M625.8 223.1v13.8M627.0 223.1v13.8M628.2 223.1v13.8M631.8 223.1v13.8M648.8 223.1v13.8M657.2 223.1v13.8M665.7 223.1v13.8M673.0 223.1v13.8M717.7 223.1v13.8M570.2 236.8v13.8M576.2 236.8v13.8M579.8 236.8v13.8M582.3 236.8v13.8M587.1 236.8v13.8M608.9 236.8v13.8M622.2 236.8v13.8M623.4 236.8v13.8M629.4 236.8v13.8M631.8 236.8v13.8M636.7 236.8v13.8M640.3 236.8v13.8M641.5 236.8v13.8M648.8 236.8v13.8M676.6 236.8v13.8M689.9 236.8v13.8M700.8 236.8v13.8" stroke="#c1cae0" stroke-width="1.29" fill="none"/>
<path d="M579.8 45.3v13.8M593.1 45.3v13.8M605.2 45.3v13.8M617.3 45.3v13.8M618.5 45.3v13.8M631.8 45.3v13.8M642.7 45.3v13.8M646.4 45.3v13.8M664.5 45.3v13.8M666.9 45.3v13.8M675.4 45.3v13.8M679.0 45.3v13.8M686.3 45.3v13.8M688.7 45.3v13.8M569.0 59.0v13.8M607.7 59.0v13.8M610.1 59.0v13.8M617.3 59.0v13.8M629.4 59.0v13.8M634.3 59.0v13.8M635.5 59.0v13.8M642.7 59.0v13.8M648.8 59.0v13.8M658.4 59.0v13.8M659.7 59.0v13.8M664.5 59.0v13.8M679.0 59.0v13.8M553.2 72.7v13.8M558.1 72.7v13.8M562.9 72.7v13.8M564.1 72.7v13.8M565.3 72.7v13.8M569.0 72.7v13.8M576.2 72.7v13.8M578.6 72.7v13.8M581.0 72.7v13.8M587.1 72.7v13.8M589.5 72.7v13.8M593.1 72.7v13.8M599.2 72.7v13.8M601.6 72.7v13.8M602.8 72.7v13.8M633.1 72.7v13.8M657.2 72.7v13.8M676.6 72.7v13.8M593.1 86.3v13.8M599.2 86.3v13.8M601.6 86.3v13.8M606.4 86.3v13.8M607.7 86.3v13.8M610.1 86.3v13.8M614.9 86.3v13.8M617.3 86.3v13.8M619.7 86.3v13.8M629.4 86.3v13.8M631.8 86.3v13.8M633.1 86.3v13.8M634.3 86.3v13.8M645.1 86.3v13.8M666.9 86.3v13.8M669.3 86.3v13.8M716.5 86.3v13.8M550.8 100.0v13.8M565.3 100.0v13.8M569.0 100.0v13.8M587.1 100.0v13.8M591.9 100.0v13.8M593.1 100.0v13.8M595.6 100.0v13.8M599.2 100.0v13.8M600.4 100.0v13.8M601.6 100.0v13.8M602.8 100.0v13.8M605.2 100.0v13.8M607.7 100.0v13.8M610.1 100.0v13.8M611.3 100.0v13.8M623.4 100.0v13.8M625.8 100.0v13.8M669.3 100.0v13.8M711.7 100.0v13.8M562.9 113.7v13.8M581.0 113.7v13.8M584.7 113.7v13.8M591.9 113.7v13.8M593.1 113.7v13.8M596.8 113.7v13.8M599.2 113.7v13.8M600.4 113.7v13.8M610.1 113.7v13.8M612.5 113.7v13.8M625.8 113.7v13.8M627.0 113.7v13.8M629.4 113.7v13.8M630.6 113.7v13.8M631.8 113.7v13.8M636.7 113.7v13.8M657.2 113.7v13.8M660.9 113.7v13.8M663.3 113.7v13.8M668.1 113.7v13.8M675.4 113.7v13.8M553.2 127.4v13.8M564.1 127.4v13.8M569.0 127.4v13.8M578.6 127.4v13.8M595.6 127.4v13.8M599.2 127.4v13.8M605.2 127.4v13.8M607.7 127.4v13.8M610.1 127.4v13.8M613.7 127.4v13.8M622.2 127.4v13.8M623.4 127.4v13.8M625.8 127.4v13.8M627.0 127.4v13.8M631.8 127.4v13.8M652.4 127.4v13.8M663.3 127.4v13.8M550.8 141.1v13.8M558.1 141.1v13.8M561.7 141.1v13.8M567.7 141.1v13.8M569.0 141.1v13.8M577.4 141.1v13.8M593.1 141.1v13.8M599.2 141.1v13.8M601.6 141.1v13.8M607.7 141.1v13.8M610.1 141.1v13.8M612.5 141.1v13.8M616.1 141.1v13.8M621.0 141.1v13.8M666.9 141.1v13.8M676.6 141.1v13.8M569.0 154.7v13.8M593.1 154.7v13.8M595.6 154.7v13.8M607.7 154.7v13.8M613.7 154.7v13.8M622.2 154.7v13.8M629.4 154.7v13.8M633.1 154.7v13.8M643.9 154.7v13.8M657.2 154.7v13.8M664.5 154.7v13.8M666.9 154.7v13.8M687.5 154.7v13.8M711.7 154.7v13.8M564.1 168.4v13.8M581.0 168.4v13.8M583.5 168.4v13.8M587.1 168.4v13.8M599.2 168.4v13.8M605.2 168.4v13.8M607.7 168.4v13.8M610.1 168.4v13.8M614.9 168.4v13.8M617.3 168.4v13.8M634.3 168.4v13.8M657.2 168.4v13.8M663.3 168.4v13.8M676.6 168.4v13.8M552.0 182.1v13.8M562.9 182.1v13.8M569.0 182.1v13.8M593.1 182.1v13.8M595.6 182.1v13.8M599.2 182.1v13.8M607.7 182.1v13.8M617.3 182.1v13.8M631.8 182.1v13.8M633.1 182.1v13.8M635.5 182.1v13.8M636.7 182.1v13.8M639.1 182.1v13.8M641.5 182.1v13.8M643.9 182.1v13.8M648.8 182.1v13.8M569.0 195.8v13.8M571.4 195.8v13.8M575.0 195.8v13.8M582.3 195.8v13.8M593.1 195.8v13.8M595.6 195.8v13.8M599.2 195.8v13.8M600.4 195.8v13.8M607.7 195.8v13.8M610.1 195.8v13.8M618.5 195.8v13.8M633.1 195.8v13.8M639.1 195.8v13.8M640.3 195.8v13.8M648.8 195.8v13.8M650.0 195.8v13.8M663.3 195.8v13.8M682.6 195.8v13.8M699.6 195.8v13.8M558.1 209.5v13.8M569.0 209.5v13.8M570.2 209.5v13.8M581.0 209.5v13.8M593.1 209.5v13.8M607.7 209.5v13.8M610.1 209.5v13.8M612.5 209.5v13.8M614.9 209.5v13.8M616.1 209.5v13.8M619.7 209.5v13.8M621.0 209.5v13.8M640.3 209.5v13.8M652.4 209.5v13.8M662.1 209.5v13.8M686.3 209.5v13.8M688.7 209.5v13.8M555.7 223.1v13.8M558.1 223.1v13.8M569.0 223.1v13.8M578.6 223.1v13.8M585.9 223.1v13.8M591.9 223.1v13.8M595.6 223.1v13.8M605.2 223.1v13.8M612.5 223.1v13.8M613.7 223.1v13.8M616.1 223.1v13.8M636.7 223.1v13.8M640.3 223.1v13.8M641.5 223.1v13.8M647.6 223.1v13.8M654.8 223.1v13.8M662.1 223.1v13.8M668.1 223.1v13.8M682.6 223.1v13.8M700.8 223.1v13.8M705.6 223.1v13.8M552.0 236.8v13.8M564.1 236.8v13.8M565.3 236.8v13.8M566.5 236.8v13.8M569.0 236.8v13.8M581.0 236.8v13.8M584.7 236.8v13.8M591.9 236.8v13.8M599.2 236.8v13.8M600.4 236.8v13.8M601.6 236.8v13.8M602.8 236.8v13.8M610.1 236.8v13.8M612.5 236.8v13.8M613.7 236.8v13.8M614.9 236.8v13.8M618.5 236.8v13.8M628.2 236.8v13.8M635.5 236.8v13.8M646.4 236.8v13.8M658.4 236.8v13.8M668.1 236.8v13.8" stroke="#d0d5e6" stroke-width="1.29" fill="none"/>
<path d="M569.0 45.3v13.8M602.8 45.3v13.8M616.1 45.3v13.8M619.7 45.3v13.8M629.4 45.3v13.8M630.6 45.3v13.8M645.1 45.3v13.8M647.6 45.3v13.8M653.6 45.3v13.8M659.7 45.3v13.8M665.7 45.3v13.8M673.0 45.3v13.8M682.6 45.3v13.8M698.4 45.3v13.8M700.8 45.3v13.8M593.1 59.0v13.8M630.6 59.0v13.8M639.1 59.0v13.8M669.3 59.0v13.8M681.4 59.0v13.8M682.6 59.0v13.8M686.3 59.0v13.8M700.8 59.0v13.8M584.7 72.7v13.8M598.0 72.7v13.8M605.2 72.7v13.8M607.7 72.7v13.8M617.3 72.7v13.8M621.0 72.7v13.8M639.1 72.7v13.8M640.3 72.7v13.8M650.0 72.7v13.8M659.7 72.7v13.8M660.9 72.7v13.8M666.9 72.7v13.8M688.7 72.7v13.8M569.0 86.3v13.8M595.6 86.3v13.8M613.7 86.3v13.8M653.6 86.3v13.8M658.4 86.3v13.8M668.1 86.3v13.8M671.8 86.3v13.8M674.2 86.3v13.8M675.4 86.3v13.8M686.3 86.3v13.8M700.8 86.3v13.8M614.9 100.0v13.8M619.7 100.0v13.8M622.2 100.0v13.8M624.6 100.0v13.8M636.7 100.0v13.8M641.5 100.0v13.8M658.4 100.0v13.8M660.9 100.0v13.8M663.3 100.0v13.8M664.5 100.0v13.8M676.6 100.0v13.8M700.8 100.0v13.8M582.3 113.7v13.8M614.9 113.7v13.8M618.5 113.7v13.8M622.2 113.7v13.8M628.2 113.7v13.8M648.8 113.7v13.8M671.8 113.7v13.8M681.4 113.7v13.8M700.8 113.7v13.8M565.3 127.4v13.8M614.9 127.4v13.8M617.3 127.4v13.8M628.2 127.4v13.8M633.1 127.4v13.8M639.1 127.4v13.8M641.5 127.4v13.8M660.9 127.4v13.8M665.7 127.4v13.8M666.9 127.4v13.8M680.2 127.4v13.8M682.6 127.4v13.8M700.8 127.4v13.8M709.2 127.4v13.8M608.9 141.1v13.8M611.3 141.1v13.8M614.9 141.1v13.8M619.7 141.1v13.8M629.4 141.1v13.8M637.9 141.1v13.8M639.1 141.1v13.8M641.5 141.1v13.8M643.9 141.1v13.8M663.3 141.1v13.8M668.1 141.1v13.8M669.3 141.1v13.8M670.5 141.1v13.8M681.4 141.1v13.8M564.1 154.7v13.8M611.3 154.7v13.8M614.9 154.7v13.8M617.3 154.7v13.8M623.4 154.7v13.8M631.8 154.7v13.8M639.1 154.7v13.8M645.1 154.7v13.8M662.1 154.7v13.8M663.3 154.7v13.8M705.6 154.7v13.8M569.0 168.4v13.8M593.1 168.4v13.8M611.3 168.4v13.8M612.5 168.4v13.8M622.2 168.4v13.8M627.0 168.4v13.8M645.1 168.4v13.8M647.6 168.4v13.8M660.9 168.4v13.8M668.1 168.4v13.8M679.0 168.4v13.8M681.4 168.4v13.8M682.6 168.4v13.8M693.5 168.4v13.8M698.4 168.4v13.8M584.7 182.1v13.8M614.9 182.1v13.8M624.6 182.1v13.8M646.4 182.1v13.8M647.6 182.1v13.8M657.2 182.1v13.8M682.6 182.1v13.8M564.1 195.8v13.8M581.0 195.8v13.8M612.5 195.8v13.8M614.9 195.8v13.8M623.4 195.8v13.8M625.8 195.8v13.8M634.3 195.8v13.8M635.5 195.8v13.8M645.1 195.8v13.8M651.2 195.8v13.8M657.2 195.8v13.8M676.6 195.8v13.8M688.7 195.8v13.8M691.1 195.8v13.8M722.5 195.8v13.8M599.2 209.5v13.8M624.6 209.5v13.8M629.4 209.5v13.8M642.7 209.5v13.8M643.9 209.5v13.8M647.6 209.5v13.8M651.2 209.5v13.8M671.8 209.5v13.8M694.7 209.5v13.8M564.1 223.1v13.8M589.5 223.1v13.8M593.1 223.1v13.8M606.4 223.1v13.8M614.9 223.1v13.8M623.4 223.1v13.8M624.6 223.1v13.8M646.4 223.1v13.8M650.0 223.1v13.8M660.9 223.1v13.8M671.8 223.1v13.8M676.6 223.1v13.8M681.4 223.1v13.8M686.3 223.1v13.8M694.7 223.1v13.8M573.8 236.8v13.8M593.1 236.8v13.8M595.6 236.8v13.8M605.2 236.8v13.8M611.3 236.8v13.8M616.1 236.8v13.8M617.3 236.8v13.8M634.3 236.8v13.8M647.6 236.8v13.8M657.2 236.8v13.8M659.7 236.8v13.8M660.9 236.8v13.8M675.4 236.8v13.8M682.6 236.8v13.8M687.5 236.8v13.8M691.1 236.8v13.8M711.7 236.8v13.8M721.3 236.8v13.8" stroke="#dfe0ec" stroke-width="1.29" fill="none"/>
<path d="M628.2 45.3v13.8M637.9 45.3v13.8M641.5 45.3v13.8M648.8 45.3v13.8M660.9 45.3v13.8M662.1 45.3v13.8M669.3 45.3v13.8M676.6 45.3v13.8M627.0 59.0v13.8M628.2 59.0v13.8M633.1 59.0v13.8M637.9 59.0v13.8M660.9 59.0v13.8M662.1 59.0v13.8M694.7 59.0v13.8M722.5 59.0v13.8M627.0 72.7v13.8M634.3 72.7v13.8M635.5 72.7v13.8M647.6 72.7v13.8M651.2 72.7v13.8M653.6 72.7v13.8M673.0 72.7v13.8M682.6 72.7v13.8M698.4 72.7v13.8M618.5 86.3v13.8M622.2 86.3v13.8M625.8 86.3v13.8M657.2 86.3v13.8M659.7 86.3v13.8M662.1 86.3v13.8M663.3 86.3v13.8M682.6 86.3v13.8M692.3 86.3v13.8M711.7 86.3v13.8M726.2 86.3v13.8M737.1 86.3v13.8M617.3 100.0v13.8M630.6 100.0v13.8M634.3 100.0v13.8M642.7 100.0v13.8M647.6 100.0v13.8M653.6 100.0v13.8M654.8 100.0v13.8M666.9 100.0v13.8M726.2 100.0v13.8M558.1 113.7v13.8M623.4 113.7v13.8M633.1 113.7v13.8M639.1 113.7v13.8M651.2 113.7v13.8M666.9 113.7v13.8M676.6 113.7v13.8M722.5 113.7v13.8M576.2 127.4v13.8M629.4 127.4v13.8M630.6 127.4v13.8M634.3 127.4v13.8M636.7 127.4v13.8M637.9 127.4v13.8M640.3 127.4v13.8M642.7 127.4v13.8M646.4 127.4v13.8M653.6 127.4v13.8M658.4 127.4v13.8M673.0 127.4v13.8M695.9 127.4v13.8M698.4 127.4v13.8M699.6 127.4v13.8M705.6 127.4v13.8M618.5 141.1v13.8M624.6 141.1v13.8M625.8 141.1v13.8M628.2 141.1v13.8M630.6 141.1v13.8M635.5 141.1v13.8M640.3 141.1v13.8M645.1 141.1v13.8M646.4 141.1v13.8M647.6 141.1v13.8M648.8 141.1v13.8M653.6 141.1v13.8M658.4 141.1v13.8M700.8 141.1v13.8M726.2 141.1v13.8M627.0 154.7v13.8M628.2 154.7v13.8M630.6 154.7v13.8M650.0 154.7v13.8M658.4 154.7v13.8M675.4 154.7v13.8M686.3 154.7v13.8M688.7 154.7v13.8M693.5 154.7v13.8M695.9 154.7v13.8M699.6 154.7v13.8M704.4 154.7v13.8M637.9 168.4v13.8M639.1 168.4v13.8M653.6 168.4v13.8M659.7 168.4v13.8M666.9 168.4v13.8M669.3 168.4v13.8M674.2 168.4v13.8M675.4 168.4v13.8M700.8 168.4v13.8M703.2 168.4v13.8M727.4 168.4v13.8M630.6 182.1v13.8M660.9 182.1v13.8M691.1 182.1v13.8M692.3 182.1v13.8M695.9 182.1v13.8M711.7 182.1v13.8M723.8 182.1v13.8M617.3 195.8v13.8M628.2 195.8v13.8M630.6 195.8v13.8M631.8 195.8v13.8M654.8 195.8v13.8M658.4 195.8v13.8M660.9 195.8v13.8M664.5 195.8v13.8M669.3 195.8v13.8M670.5 195.8v13.8M673.0 195.8v13.8M704.4 195.8v13.8M617.3 209.5v13.8M618.5 209.5v13.8M622.2 209.5v13.8M623.4 209.5v13.8M625.8 209.5v13.8M628.2 209.5v13.8M630.6 209.5v13.8M634.3 209.5v13.8M641.5 209.5v13.8M653.6 209.5v13.8M666.9 209.5v13.8M669.3 209.5v13.8M681.4 209.5v13.8M698.4 209.5v13.8M717.7 209.5v13.8M622.2 223.1v13.8M634.3 223.1v13.8M635.5 223.1v13.8M643.9 223.1v13.8M658.4 223.1v13.8M666.9 223.1v13.8M669.3 223.1v13.8M675.4 223.1v13.8M734.6 223.1v13.8M619.7 236.8v13.8M627.0 236.8v13.8M630.6 236.8v13.8M633.1 236.8v13.8M642.7 236.8v13.8M643.9 236.8v13.8M654.8 236.8v13.8M664.5 236.8v13.8M693.5 236.8v13.8M694.7 236.8v13.8M695.9 236.8v13.8" stroke="#edecf2" stroke-width="1.29" fill="none"/>
<path d="M607.7 45.3v13.8M624.6 45.3v13.8M633.1 45.3v13.8M635.5 45.3v13.8M643.9 45.3v13.8M652.4 45.3v13.8M654.8 45.3v13.8M681.4 45.3v13.8M691.1 45.3v13.8M721.3 45.3v13.8M722.5 45.3v13.8M653.6 59.0v13.8M656.0 59.0v13.8M668.1 59.0v13.8M676.6 59.0v13.8M693.5 59.0v13.8M695.9 59.0v13.8M619.7 72.7v13.8M624.6 72.7v13.8M628.2 72.7v13.8M629.4 72.7v13.8M630.6 72.7v13.8M637.9 72.7v13.8M641.5 72.7v13.8M643.9 72.7v13.8M652.4 72.7v13.8M658.4 72.7v13.8M663.3 72.7v13.8M668.1 72.7v13.8M675.4 72.7v13.8M680.2 72.7v13.8M681.4 72.7v13.8M692.3 72.7v13.8M695.9 72.7v13.8M697.1 72.7v13.8M700.8 72.7v13.8M706.8 72.7v13.8M717.7 72.7v13.8M635.5 86.3v13.8M647.6 86.3v13.8M670.5 86.3v13.8M694.7 86.3v13.8M705.6 86.3v13.8M629.4 100.0v13.8M631.8 100.0v13.8M643.9 100.0v13.8M651.2 100.0v13.8M659.7 100.0v13.8M673.0 100.0v13.8M674.2 100.0v13.8M681.4 100.0v13.8M682.6 100.0v13.8M601.6 113.7v13.8M617.3 113.7v13.8M624.6 113.7v13.8M635.5 113.7v13.8M645.1 113.7v13.8M646.4 113.7v13.8M679.0 113.7v13.8M693.5 113.7v13.8M635.5 127.4v13.8M643.9 127.4v13.8M645.1 127.4v13.8M662.1 127.4v13.8M670.5 127.4v13.8M675.4 127.4v13.8M679.0 127.4v13.8M722.5 127.4v13.8M726.2 127.4v13.8M622.2 141.1v13.8M627.0 141.1v13.8M634.3 141.1v13.8M651.2 141.1v13.8M652.4 141.1v13.8M660.9 141.1v13.8M671.8 141.1v13.8M675.4 141.1v13.8M688.7 141.1v13.8M693.5 141.1v13.8M722.5 141.1v13.8M733.4 141.1v13.8M619.7 154.7v13.8M624.6 154.7v13.8M635.5 154.7v13.8M637.9 154.7v13.8M646.4 154.7v13.8M652.4 154.7v13.8M659.7 154.7v13.8M669.3 154.7v13.8M670.5 154.7v13.8M691.1 154.7v13.8M692.3 154.7v13.8M700.8 154.7v13.8M721.3 154.7v13.8M618.5 168.4v13.8M623.4 168.4v13.8M630.6 168.4v13.8M631.8 168.4v13.8M635.5 168.4v13.8M641.5 168.4v13.8M652.4 168.4v13.8M656.0 168.4v13.8M665.7 168.4v13.8M671.8 168.4v13.8M695.9 168.4v13.8M709.2 168.4v13.8M711.7 168.4v13.8M618.5 182.1v13.8M623.4 182.1v13.8M628.2 182.1v13.8M645.1 182.1v13.8M650.0 182.1v13.8M653.6 182.1v13.8M654.8 182.1v13.8M662.1 182.1v13.8M664.5 182.1v13.8M669.3 182.1v13.8M675.4 182.1v13.8M686.3 182.1v13.8M700.8 182.1v13.8M659.7 195.8v13.8M700.8 195.8v13.8M711.7 195.8v13.8M717.7 195.8v13.8M633.1 209.5v13.8M637.9 209.5v13.8M654.8 209.5v13.8M659.7 209.5v13.8M663.3 209.5v13.8M673.0 209.5v13.8M676.6 209.5v13.8M691.1 209.5v13.8M700.8 209.5v13.8M704.4 209.5v13.8M629.4 223.1v13.8M630.6 223.1v13.8M633.1 223.1v13.8M645.1 223.1v13.8M651.2 223.1v13.8M656.0 223.1v13.8M670.5 223.1v13.8M688.7 223.1v13.8M698.4 223.1v13.8M699.6 223.1v13.8M720.1 223.1v13.8M625.8 236.8v13.8M637.9 236.8v13.8M653.6 236.8v13.8M662.1 236.8v13.8M665.7 236.8v13.8M669.3 236.8v13.8M670.5 236.8v13.8M703.2 236.8v13.8M705.6 236.8v13.8M722.5 236.8v13.8" stroke="#f0eaed" stroke-width="1.29" fill="none"/>
<path d="M650.0 45.3v13.8M656.0 45.3v13.8M658.4 45.3v13.8M671.8 45.3v13.8M680.2 45.3v13.8M693.5 45.3v13.8M709.2 45.3v13.8M714.1 45.3v13.8M624.6 59.0v13.8M650.0 59.0v13.8M651.2 59.0v13.8M654.8 59.0v13.8M666.9 59.0v13.8M675.4 59.0v13.8M692.3 59.0v13.8M703.2 59.0v13.8M716.5 59.0v13.8M618.5 72.7v13.8M622.2 72.7v13.8M665.7 72.7v13.8M669.3 72.7v13.8M674.2 72.7v13.8M703.2 72.7v13.8M709.2 72.7v13.8M711.7 72.7v13.8M712.9 72.7v13.8M639.1 86.3v13.8M642.7 86.3v13.8M660.9 86.3v13.8M722.5 86.3v13.8M618.5 100.0v13.8M637.9 100.0v13.8M645.1 100.0v13.8M650.0 100.0v13.8M662.1 100.0v13.8M671.8 100.0v13.8M686.3 100.0v13.8M692.3 100.0v13.8M699.6 100.0v13.8M704.4 100.0v13.8M705.6 100.0v13.8M731.0 100.0v13.8M641.5 113.7v13.8M643.9 113.7v13.8M653.6 113.7v13.8M654.8 113.7v13.8M656.0 113.7v13.8M658.4 113.7v13.8M674.2 113.7v13.8M692.3 113.7v13.8M697.1 113.7v13.8M727.4 113.7v13.8M681.4 127.4v13.8M687.5 127.4v13.8M689.9 127.4v13.8M692.3 127.4v13.8M693.5 127.4v13.8M708.0 127.4v13.8M659.7 141.1v13.8M674.2 141.1v13.8M685.1 141.1v13.8M686.3 141.1v13.8M691.1 141.1v13.8M694.7 141.1v13.8M698.4 141.1v13.8M699.6 141.1v13.8M642.7 154.7v13.8M671.8 154.7v13.8M679.0 154.7v13.8M681.4 154.7v13.8M689.9 154.7v13.8M694.7 154.7v13.8M628.2 168.4v13.8M642.7 168.4v13.8M654.8 168.4v13.8M673.0 168.4v13.8M687.5 168.4v13.8M688.7 168.4v13.8M699.6 168.4v13.8M659.7 182.1v13.8M671.8 182.1v13.8M677.8 182.1v13.8M693.5 182.1v13.8M715.3 182.1v13.8M732.2 182.1v13.8M642.7 195.8v13.8M643.9 195.8v13.8M671.8 195.8v13.8M675.4 195.8v13.8M679.0 195.8v13.8M686.3 195.8v13.8M692.3 195.8v13.8M703.2 195.8v13.8M706.8 195.8v13.8M631.8 209.5v13.8M635.5 209.5v13.8M650.0 209.5v13.8M656.0 209.5v13.8M658.4 209.5v13.8M670.5 209.5v13.8M693.5 209.5v13.8M708.0 209.5v13.8M711.7 209.5v13.8M737.1 209.5v13.8M653.6 223.1v13.8M659.7 223.1v13.8M685.1 223.1v13.8M722.5 223.1v13.8M639.1 236.8v13.8M651.2 236.8v13.8M652.4 236.8v13.8M666.9 236.8v13.8M671.8 236.8v13.8M702.0 236.8v13.8" stroke="#f0e5e4" stroke-width="1.29" fill="none"/>
<path d="M651.2 45.3v13.8M674.2 45.3v13.8M687.5 45.3v13.8M692.3 45.3v13.8M694.7 45.3v13.8M723.8 45.3v13.8M643.9 59.0v13.8M691.1 59.0v13.8M709.2 59.0v13.8M717.7 59.0v13.8M738.3 59.0v13.8M645.1 72.7v13.8M670.5 72.7v13.8M671.8 72.7v13.8M679.0 72.7v13.8M686.3 72.7v13.8M694.7 72.7v13.8M699.6 72.7v13.8M705.6 72.7v13.8M708.0 72.7v13.8M630.6 86.3v13.8M637.9 86.3v13.8M651.2 86.3v13.8M654.8 86.3v13.8M656.0 86.3v13.8M681.4 86.3v13.8M685.1 86.3v13.8M688.7 86.3v13.8M689.9 86.3v13.8M693.5 86.3v13.8M703.2 86.3v13.8M628.2 100.0v13.8M635.5 100.0v13.8M656.0 100.0v13.8M675.4 100.0v13.8M679.0 100.0v13.8M691.1 100.0v13.8M694.7 100.0v13.8M723.8 100.0v13.8M637.9 113.7v13.8M650.0 113.7v13.8M659.7 113.7v13.8M688.7 113.7v13.8M691.1 113.7v13.8M706.8 113.7v13.8M710.5 113.7v13.8M717.7 113.7v13.8M723.8 113.7v13.8M726.2 113.7v13.8M731.0 113.7v13.8M738.3 113.7v13.8M624.6 127.4v13.8M656.0 127.4v13.8M671.8 127.4v13.8M686.3 127.4v13.8M691.1 127.4v13.8M694.7 127.4v13.8M704.4 127.4v13.8M711.7 127.4v13.8M662.1 141.1v13.8M711.7 141.1v13.8M738.3 141.1v13.8M653.6 154.7v13.8M674.2 154.7v13.8M709.2 154.7v13.8M726.2 154.7v13.8M670.5 168.4v13.8M689.9 168.4v13.8M722.5 168.4v13.8M729.8 168.4v13.8M629.4 182.1v13.8M642.7 182.1v13.8M651.2 182.1v13.8M652.4 182.1v13.8M663.3 182.1v13.8M673.0 182.1v13.8M679.0 182.1v13.8M681.4 182.1v13.8M722.5 182.1v13.8M624.6 195.8v13.8M637.9 195.8v13.8M656.0 195.8v13.8M674.2 195.8v13.8M681.4 195.8v13.8M639.1 209.5v13.8M677.8 209.5v13.8M682.6 209.5v13.8M687.5 209.5v13.8M703.2 209.5v13.8M639.1 223.1v13.8M652.4 223.1v13.8M663.3 223.1v13.8M679.0 223.1v13.8M689.9 223.1v13.8M691.1 223.1v13.8M692.3 223.1v13.8M697.1 223.1v13.8M710.5 223.1v13.8M738.3 223.1v13.8M741.9 223.1v13.8M624.6 236.8v13.8M645.1 236.8v13.8M650.0 236.8v13.8M656.0 236.8v13.8M663.3 236.8v13.8M673.0 236.8v13.8M681.4 236.8v13.8M686.3 236.8v13.8M698.4 236.8v13.8M704.4 236.8v13.8M720.1 236.8v13.8M723.8 236.8v13.8" stroke="#f0e0dc" stroke-width="1.29" fill="none"/>
<path d="M677.8 45.3v13.8M689.9 45.3v13.8M697.1 45.3v13.8M704.4 45.3v13.8M706.8 45.3v13.8M725.0 45.3v13.8M652.4 59.0v13.8M671.8 59.0v13.8M698.4 59.0v13.8M699.6 59.0v13.8M642.7 72.7v13.8M654.8 72.7v13.8M714.1 72.7v13.8M718.9 72.7v13.8M727.4 72.7v13.8M673.0 86.3v13.8M679.0 86.3v13.8M698.4 86.3v13.8M709.2 86.3v13.8M723.8 86.3v13.8M670.5 100.0v13.8M677.8 100.0v13.8M698.4 100.0v13.8M717.7 100.0v13.8M722.5 100.0v13.8M727.4 100.0v13.8M652.4 113.7v13.8M685.1 113.7v13.8M698.4 113.7v13.8M705.6 113.7v13.8M654.8 127.4v13.8M688.7 127.4v13.8M706.8 127.4v13.8M716.5 127.4v13.8M723.8 127.4v13.8M654.8 141.1v13.8M656.0 141.1v13.8M679.0 141.1v13.8M687.5 141.1v13.8M692.3 141.1v13.8M703.2 141.1v13.8M721.3 141.1v13.8M651.2 154.7v13.8M654.8 154.7v13.8M677.8 154.7v13.8M680.2 154.7v13.8M703.2 154.7v13.8M624.6 168.4v13.8M650.0 168.4v13.8M680.2 168.4v13.8M686.3 168.4v13.8M691.1 168.4v13.8M694.7 168.4v13.8M697.1 168.4v13.8M704.4 168.4v13.8M720.1 168.4v13.8M688.7 182.1v13.8M694.7 182.1v13.8M704.4 182.1v13.8M706.8 182.1v13.8M709.2 182.1v13.8M725.0 182.1v13.8M726.2 182.1v13.8M652.4 195.8v13.8M695.9 195.8v13.8M714.1 195.8v13.8M738.3 195.8v13.8M695.9 209.5v13.8M709.2 209.5v13.8M714.1 209.5v13.8M637.9 223.1v13.8M642.7 223.1v13.8M674.2 223.1v13.8M708.0 223.1v13.8M723.8 223.1v13.8M727.4 223.1v13.8M674.2 236.8v13.8M679.0 236.8v13.8M680.2 236.8v13.8M692.3 236.8v13.8" stroke="#f0dbd4" stroke-width="1.29" fill="none"/>
<path d="M663.3 45.3v13.8M670.5 45.3v13.8M703.2 45.3v13.8M705.6 45.3v13.8M710.5 45.3v13.8M711.7 45.3v13.8M715.3 45.3v13.8M726.2 45.3v13.8M737.1 45.3v13.8M674.2 59.0v13.8M685.1 59.0v13.8M688.7 59.0v13.8M726.2 59.0v13.8M691.1 72.7v13.8M693.5 72.7v13.8M704.4 72.7v13.8M716.5 72.7v13.8M722.5 72.7v13.8M723.8 72.7v13.8M652.4 86.3v13.8M680.2 86.3v13.8M691.1 86.3v13.8M695.9 86.3v13.8M699.6 86.3v13.8M706.8 86.3v13.8M710.5 86.3v13.8M718.9 86.3v13.8M731.0 86.3v13.8M693.5 100.0v13.8M703.2 100.0v13.8M709.2 100.0v13.8M716.5 100.0v13.8M725.0 100.0v13.8M677.8 113.7v13.8M687.5 113.7v13.8M694.7 113.7v13.8M699.6 113.7v13.8M704.4 113.7v13.8M720.1 113.7v13.8M732.2 113.7v13.8M651.2 127.4v13.8M685.1 127.4v13.8M721.3 127.4v13.8M731.0 127.4v13.8M735.8 127.4v13.8M738.3 127.4v13.8M680.2 141.1v13.8M689.9 141.1v13.8M704.4 141.1v13.8M709.2 141.1v13.8M720.1 141.1v13.8M734.6 141.1v13.8M656.0 154.7v13.8M673.0 154.7v13.8M685.1 154.7v13.8M708.0 154.7v13.8M723.8 154.7v13.8M725.0 154.7v13.8M714.1 168.4v13.8M737.1 168.4v13.8M637.9 182.1v13.8M658.4 182.1v13.8M689.9 182.1v13.8M708.0 182.1v13.8M735.8 182.1v13.8M629.4 195.8v13.8M687.5 195.8v13.8M708.0 195.8v13.8M712.9 195.8v13.8M721.3 195.8v13.8M733.4 195.8v13.8M734.6 195.8v13.8M723.8 209.5v13.8M683.8 223.1v13.8M709.2 223.1v13.8M737.1 223.1v13.8M699.6 236.8v13.8M731.0 236.8v13.8M737.1 236.8v13.8" stroke="#efd6cc" stroke-width="1.29" fill="none"/>
<path d="M685.1 45.3v13.8M699.6 45.3v13.8M708.0 45.3v13.8M727.4 45.3v13.8M738.3 45.3v13.8M673.0 59.0v13.8M677.8 59.0v13.8M708.0 59.0v13.8M723.8 59.0v13.8M741.9 59.0v13.8M685.1 72.7v13.8M687.5 72.7v13.8M689.9 72.7v13.8M725.0 72.7v13.8M726.2 72.7v13.8M728.6 72.7v13.8M738.3 72.7v13.8M697.1 86.3v13.8M704.4 86.3v13.8M708.0 86.3v13.8M715.3 86.3v13.8M717.7 86.3v13.8M652.4 100.0v13.8M683.8 100.0v13.8M687.5 100.0v13.8M689.9 100.0v13.8M702.0 100.0v13.8M695.9 113.7v13.8M708.0 113.7v13.8M727.4 127.4v13.8M740.7 127.4v13.8M642.7 141.1v13.8M705.6 141.1v13.8M708.0 141.1v13.8M714.1 141.1v13.8M716.5 141.1v13.8M718.9 141.1v13.8M731.0 141.1v13.8M732.2 141.1v13.8M698.4 154.7v13.8M702.0 154.7v13.8M715.3 154.7v13.8M717.7 154.7v13.8M727.4 154.7v13.8M733.4 154.7v13.8M735.8 154.7v13.8M702.0 168.4v13.8M723.8 168.4v13.8M733.4 168.4v13.8M685.1 182.1v13.8M687.5 182.1v13.8M699.6 182.1v13.8M702.0 182.1v13.8M710.5 182.1v13.8M714.1 182.1v13.8M717.7 182.1v13.8M729.8 182.1v13.8M680.2 195.8v13.8M685.1 195.8v13.8M689.9 195.8v13.8M693.5 195.8v13.8M715.3 195.8v13.8M727.4 195.8v13.8M729.8 195.8v13.8M732.2 195.8v13.8M741.9 195.8v13.8M674.2 209.5v13.8M685.1 209.5v13.8M697.1 209.5v13.8M725.0 209.5v13.8M727.4 209.5v13.8M664.5 223.1v13.8M677.8 223.1v13.8M680.2 223.1v13.8M687.5 223.1v13.8M693.5 223.1v13.8M706.8 223.1v13.8M714.1 223.1v13.8M715.3 223.1v13.8M726.2 223.1v13.8M685.1 236.8v13.8M688.7 236.8v13.8M710.5 236.8v13.8M725.0 236.8v13.8M741.9 236.8v13.8" stroke="#efd1c4" stroke-width="1.29" fill="none"/>
<path d="M712.9 45.3v13.8M717.7 45.3v13.8M718.9 45.3v13.8M732.2 45.3v13.8M687.5 59.0v13.8M689.9 59.0v13.8M704.4 59.0v13.8M705.6 59.0v13.8M706.8 59.0v13.8M731.0 59.0v13.8M733.4 59.0v13.8M734.6 59.0v13.8M737.1 59.0v13.8M656.0 72.7v13.8M737.1 72.7v13.8M677.8 86.3v13.8M702.0 86.3v13.8M727.4 86.3v13.8M729.8 86.3v13.8M739.5 86.3v13.8M685.1 100.0v13.8M708.0 100.0v13.8M733.4 100.0v13.8M734.6 100.0v13.8M738.3 100.0v13.8M741.9 100.0v13.8M642.7 113.7v13.8M673.0 113.7v13.8M714.1 113.7v13.8M718.9 113.7v13.8M729.8 113.7v13.8M733.4 113.7v13.8M734.6 113.7v13.8M683.8 127.4v13.8M717.7 127.4v13.8M697.1 141.1v13.8M712.9 141.1v13.8M715.3 141.1v13.8M723.8 141.1v13.8M725.0 141.1v13.8M706.8 154.7v13.8M716.5 154.7v13.8M718.9 154.7v13.8M734.6 154.7v13.8M705.6 168.4v13.8M710.5 168.4v13.8M715.3 168.4v13.8M728.6 168.4v13.8M680.2 182.1v13.8M712.9 182.1v13.8M737.1 182.1v13.8M694.7 195.8v13.8M697.1 195.8v13.8M702.0 195.8v13.8M710.5 195.8v13.8M680.2 209.5v13.8M702.0 209.5v13.8M706.8 209.5v13.8M710.5 209.5v13.8M716.5 209.5v13.8M729.8 209.5v13.8M731.0 209.5v13.8M702.0 223.1v13.8M711.7 223.1v13.8M718.9 223.1v13.8M721.3 223.1v13.8M728.6 223.1v13.8M740.7 223.1v13.8M706.8 236.8v13.8M709.2 236.8v13.8M715.3 236.8v13.8M717.7 236.8v13.8M727.4 236.8v13.8M729.8 236.8v13.8M734.6 236.8v13.8" stroke="#efccbc" stroke-width="1.29" fill="none"/>
<path d="M702.0 45.3v13.8M720.1 45.3v13.8M731.0 45.3v13.8M741.9 45.3v13.8M680.2 59.0v13.8M715.3 59.0v13.8M729.8 59.0v13.8M702.0 72.7v13.8M710.5 72.7v13.8M715.3 72.7v13.8M721.3 72.7v13.8M729.8 72.7v13.8M735.8 72.7v13.8M739.5 72.7v13.8M741.9 72.7v13.8M687.5 86.3v13.8M714.1 86.3v13.8M695.9 100.0v13.8M706.8 100.0v13.8M712.9 100.0v13.8M718.9 100.0v13.8M720.1 100.0v13.8M737.1 100.0v13.8M740.7 100.0v13.8M683.8 113.7v13.8M709.2 113.7v13.8M721.3 113.7v13.8M725.0 113.7v13.8M735.8 113.7v13.8M737.1 113.7v13.8M697.1 127.4v13.8M703.2 127.4v13.8M710.5 127.4v13.8M712.9 127.4v13.8M714.1 127.4v13.8M725.0 127.4v13.8M732.2 127.4v13.8M733.4 127.4v13.8M737.1 127.4v13.8M677.8 141.1v13.8M695.9 141.1v13.8M706.8 141.1v13.8M729.8 141.1v13.8M735.8 141.1v13.8M737.1 141.1v13.8M683.8 154.7v13.8M697.1 154.7v13.8M710.5 154.7v13.8M714.1 154.7v13.8M732.2 154.7v13.8M725.0 168.4v13.8M734.6 168.4v13.8M735.8 168.4v13.8M738.3 168.4v13.8M740.7 168.4v13.8M741.9 168.4v13.8M656.0 182.1v13.8M697.1 182.1v13.8M703.2 182.1v13.8M721.3 182.1v13.8M738.3 182.1v13.8M683.8 195.8v13.8M698.4 195.8v13.8M716.5 195.8v13.8M718.9 195.8v13.8M723.8 195.8v13.8M731.0 195.8v13.8M689.9 209.5v13.8M705.6 209.5v13.8M721.3 209.5v13.8M733.4 209.5v13.8M735.8 209.5v13.8M740.7 209.5v13.8M695.9 223.1v13.8M735.8 223.1v13.8M697.1 236.8v13.8M732.2 236.8v13.8" stroke="#efc7b4" stroke-width="1.29" fill="none"/>
<path d="M695.9 45.3v13.8M716.5 45.3v13.8M739.5 45.3v13.8M740.7 45.3v13.8M712.9 59.0v13.8M714.1 59.0v13.8M727.4 59.0v13.8M728.6 59.0v13.8M732.2 59.0v13.8M683.8 72.7v13.8M720.1 72.7v13.8M733.4 72.7v13.8M683.8 86.3v13.8M712.9 86.3v13.8M720.1 86.3v13.8M721.3 86.3v13.8M735.8 86.3v13.8M738.3 86.3v13.8M688.7 100.0v13.8M710.5 100.0v13.8M721.3 100.0v13.8M728.6 100.0v13.8M729.8 100.0v13.8M702.0 113.7v13.8M703.2 113.7v13.8M716.5 113.7v13.8M728.6 113.7v13.8M702.0 127.4v13.8M729.8 127.4v13.8M702.0 141.1v13.8M740.7 141.1v13.8M737.1 154.7v13.8M677.8 168.4v13.8M683.8 168.4v13.8M685.1 168.4v13.8M716.5 168.4v13.8M721.3 168.4v13.8M674.2 182.1v13.8M728.6 182.1v13.8M734.6 182.1v13.8M740.7 182.1v13.8M709.2 195.8v13.8M725.0 195.8v13.8M735.8 195.8v13.8M737.1 195.8v13.8M739.5 195.8v13.8M726.2 209.5v13.8M732.2 209.5v13.8M739.5 209.5v13.8M716.5 223.1v13.8M725.0 223.1v13.8M677.8 236.8v13.8M708.0 236.8v13.8M728.6 236.8v13.8M735.8 236.8v13.8" stroke="#efc2ac" stroke-width="1.29" fill="none"/>
<path d="M734.6 45.3v13.8M735.8 45.3v13.8M697.1 59.0v13.8M702.0 59.0v13.8M710.5 59.0v13.8M718.9 59.0v13.8M721.3 59.0v13.8M725.0 59.0v13.8M735.8 59.0v13.8M677.8 72.7v13.8M734.6 72.7v13.8M733.4 86.3v13.8M734.6 86.3v13.8M680.2 113.7v13.8M689.9 113.7v13.8M677.8 127.4v13.8M715.3 127.4v13.8M720.1 127.4v13.8M739.5 127.4v13.8M741.9 127.4v13.8M683.8 141.1v13.8M717.7 141.1v13.8M727.4 141.1v13.8M728.6 141.1v13.8M738.3 154.7v13.8M706.8 168.4v13.8M708.0 168.4v13.8M712.9 168.4v13.8M718.9 182.1v13.8M739.5 182.1v13.8M726.2 195.8v13.8M728.6 195.8v13.8M679.0 209.5v13.8M712.9 209.5v13.8M718.9 209.5v13.8M741.9 209.5v13.8M703.2 223.1v13.8M733.4 223.1v13.8M714.1 236.8v13.8M716.5 236.8v13.8M726.2 236.8v13.8M733.4 236.8v13.8M739.5 236.8v13.8" stroke="#efbea4" stroke-width="1.29" fill="none"/>
<path d="M729.8 45.3v13.8M683.8 59.0v13.8M740.7 59.0v13.8M680.2 100.0v13.8M697.1 100.0v13.8M714.1 100.0v13.8M715.3 100.0v13.8M732.2 100.0v13.8M735.8 100.0v13.8M715.3 113.7v13.8M710.5 141.1v13.8M712.9 154.7v13.8M720.1 154.7v13.8M728.6 154.7v13.8M731.0 154.7v13.8M741.9 154.7v13.8M718.9 168.4v13.8M732.2 168.4v13.8M739.5 168.4v13.8M720.1 182.1v13.8M727.4 182.1v13.8M741.9 182.1v13.8M677.8 195.8v13.8M720.1 195.8v13.8M720.1 209.5v13.8M712.9 223.1v13.8M739.5 223.1v13.8M718.9 236.8v13.8" stroke="#efb99c" stroke-width="1.29" fill="none"/>
<path d="M720.1 59.0v13.8M731.0 72.7v13.8M732.2 72.7v13.8M740.7 72.7v13.8M728.6 86.3v13.8M732.2 86.3v13.8M712.9 113.7v13.8M718.9 127.4v13.8M728.6 127.4v13.8M729.8 154.7v13.8M740.7 154.7v13.8M717.7 168.4v13.8M726.2 168.4v13.8M683.8 182.1v13.8M716.5 182.1v13.8M731.0 182.1v13.8M733.4 182.1v13.8M740.7 195.8v13.8M683.8 209.5v13.8M729.8 223.1v13.8M731.0 223.1v13.8M738.3 236.8v13.8" stroke="#efb494" stroke-width="1.29" fill="none"/>
<path d="M728.6 45.3v13.8M741.9 113.7v13.8M734.6 127.4v13.8M741.9 141.1v13.8M734.6 209.5v13.8M704.4 223.1v13.8M732.2 223.1v13.8M683.8 236.8v13.8" stroke="#efaf8c" stroke-width="1.29" fill="none"/>
<path d="M683.8 45.3v13.8M733.4 45.3v13.8M739.5 59.0v13.8M725.0 86.3v13.8M741.9 86.3v13.8M739.5 100.0v13.8M740.7 113.7v13.8M731.0 168.4v13.8M715.3 209.5v13.8" stroke="#efaa84" stroke-width="1.29" fill="none"/>
<path d="M728.6 209.5v13.8M738.3 209.5v13.8M712.9 236.8v13.8" stroke="#eea57c" stroke-width="1.29" fill="none"/>
<path d="M740.7 86.3v13.8M739.5 154.7v13.8M740.7 236.8v13.8" stroke="#eea074" stroke-width="1.29" fill="none"/>
<path d="M739.5 141.1v13.8" stroke="#ee9b6c" stroke-width="1.29" fill="none"/>
<path d="M739.5 113.7v13.8" stroke="#ee9664" stroke-width="1.29" fill="none"/>
</g>
<path d="M548.0 38.2L548.0 34.0L549.6 33.2L551.2 32.7L552.9 32.3L554.5 31.9L556.1 31.5L557.7 31.2L559.3 30.9L561.0 30.6L562.6 30.3L564.2 30.0L565.8 29.7L567.5 29.4L569.1 29.1L570.7 28.8L572.3 28.5L573.9 28.2L575.6 28.0L577.2 27.8L578.8 27.7L580.4 27.5L582.0 27.3L583.7 27.2L585.3 27.0L586.9 26.9L588.5 26.7L590.1 26.5L591.8 26.4L593.4 26.2L595.0 26.1L596.6 25.9L598.2 25.7L599.9 25.6L601.5 25.4L603.1 25.2L604.7 25.1L606.4 24.9L608.0 24.8L609.6 24.6L611.2 24.4L612.8 24.3L614.5 24.1L616.1 24.0L617.7 23.9L619.3 23.7L620.9 23.6L622.6 23.4L624.2 23.3L625.8 23.1L627.4 23.0L629.0 22.8L630.7 22.7L632.3 22.6L633.9 22.4L635.5 22.3L637.1 22.1L638.8 22.0L640.4 21.8L642.0 21.7L643.6 21.5L644.5 21.4L644.5 38.2z" fill="#4675b3"/>
<path d="M644.5 38.2L644.5 21.2L645.2 21.3L646.9 21.1L648.5 21.0L650.1 21.0L651.7 20.9L653.4 20.8L655.0 20.7L656.6 20.6L658.2 20.5L659.8 20.4L661.5 20.3L663.1 20.2L664.7 20.1L666.3 20.0L667.9 19.9L669.6 19.8L671.2 19.7L672.8 19.6L674.4 19.5L676.0 19.4L677.7 19.3L679.3 19.2L680.9 19.2L682.5 19.1L684.1 19.0L685.8 18.9L687.4 18.8L689.0 18.7L690.6 18.6L692.3 18.5L693.9 18.4L695.5 18.3L697.1 18.2L698.7 18.1L700.4 18.0L702.0 17.8L703.6 17.6L705.2 17.4L706.8 17.1L708.5 16.9L710.1 16.7L711.7 16.5L713.3 16.3L714.9 16.1L716.6 15.9L718.2 15.7L719.8 15.5L721.4 15.3L723.0 15.1L724.7 14.6L726.3 14.1L727.9 13.7L729.5 13.2L731.2 12.7L732.8 12.3L734.4 11.2L736.0 10.1L737.6 9.1L739.3 7.5L740.9 5.2L742.5 2.9L742.5 38.2z" fill="#ee8848"/>
<line x1="547.4" y1="3.7" x2="547.4" y2="38.7" stroke="#1a1a1a" stroke-width="1.2"/>
<line x1="543.9" y1="38.2" x2="547.4" y2="38.2" stroke="#222" stroke-width="0.8"/>
<text x="536.8" y="40.9" font-size="7.3" fill="#1a1a1a" textLength="4.4" lengthAdjust="spacingAndGlyphs">0</text>
<line x1="543.9" y1="29.7" x2="547.4" y2="29.7" stroke="#222" stroke-width="0.8"/>
<text x="536.8" y="32.4" font-size="7.3" fill="#1a1a1a" textLength="4.4" lengthAdjust="spacingAndGlyphs">1</text>
<line x1="543.9" y1="21.2" x2="547.4" y2="21.2" stroke="#222" stroke-width="0.8"/>
<text x="536.8" y="23.9" font-size="7.3" fill="#1a1a1a" textLength="4.4" lengthAdjust="spacingAndGlyphs">2</text>
<line x1="543.9" y1="12.7" x2="547.4" y2="12.7" stroke="#222" stroke-width="0.8"/>
<text x="536.8" y="15.4" font-size="7.3" fill="#1a1a1a" textLength="4.4" lengthAdjust="spacingAndGlyphs">3</text>
<line x1="543.9" y1="4.2" x2="547.4" y2="4.2" stroke="#222" stroke-width="0.8"/>
<text x="536.8" y="6.9" font-size="7.3" fill="#1a1a1a" textLength="4.4" lengthAdjust="spacingAndGlyphs">4</text>
<line x1="547.4" y1="21.2" x2="644.5" y2="21.2" stroke="#1e1a18" stroke-width="1.4"/>
<line x1="645.5" y1="18.3" x2="742.5" y2="18.3" stroke="#1e1a18" stroke-width="1.4"/>
<text x="572" y="20.3" font-size="7.3" fill="#222" textLength="50" lengthAdjust="spacingAndGlyphs">Rank:0~50%</text>
<text x="664" y="15.8" font-size="7.3" fill="#222" textLength="60" lengthAdjust="spacingAndGlyphs">Rank:50~100%</text>
<clipPath id="tc"><rect x="500" y="2.6" width="48" height="80"/></clipPath>
<g clip-path="url(#tc)"><g transform="translate(523.2,19.5) rotate(-90)"><text x="0" y="0" font-size="7.4" fill="#222" text-anchor="middle">RASGRF2 expression</text></g><g transform="translate(531.9,20.5) rotate(-90)"><text x="0" y="0" font-size="7.4" fill="#222" text-anchor="middle">log2(TPM+1)</text></g></g>
<text x="756.5" y="11.8" font-size="6.8" fill="#1a1a1a" textLength="40.5" lengthAdjust="spacingAndGlyphs" font-weight="bold">RASGRF2</text>
<rect x="756" y="16" width="12" height="9" fill="#4675b3"/>
<rect x="756" y="26.8" width="12" height="9" fill="#ee8848"/>
<text x="773.3" y="22.9" font-size="6.2" fill="#262626" textLength="13.7" lengthAdjust="spacingAndGlyphs">Low</text>
<text x="773.3" y="33.2" font-size="6.2" fill="#262626" textLength="14.6" lengthAdjust="spacingAndGlyphs">High</text>
<text x="755.8" y="123.6" font-size="7" fill="#222" textLength="31" lengthAdjust="spacingAndGlyphs">Z-score</text>
<defs><linearGradient id="zg" x1="0" y1="0" x2="0" y2="1"><stop offset="0" stop-color="#ee935c"/><stop offset="0.35" stop-color="#f3b792"/><stop offset="0.72" stop-color="#f8f2ef"/><stop offset="0.85" stop-color="#b5c4df"/><stop offset="1" stop-color="#5a82bd"/></linearGradient></defs>
<rect x="755.8" y="128.2" width="12.2" height="49.5" fill="url(#zg)"/>
<text x="773.8" y="139.6" font-size="6.3" fill="#222" textLength="3.4" lengthAdjust="spacingAndGlyphs" font-weight="bold">4</text>
<text x="773.8" y="152.8" font-size="6.3" fill="#222" textLength="3.4" lengthAdjust="spacingAndGlyphs" font-weight="bold">2</text>
<text x="773.8" y="166.6" font-size="6.3" fill="#222" textLength="3.4" lengthAdjust="spacingAndGlyphs" font-weight="bold">0</text>
<text x="773" y="180.0" font-size="6.3" fill="#222" textLength="7.5" lengthAdjust="spacingAndGlyphs" font-weight="bold">−2</text>
<g id="netD">
<path d="M672.0 338.3L698.5 343.4M629.0 340.2L597.8 350.7M659.8 340.2L726.6 376.4M638.0 340.2L562.9 388.5M654.3 340.2L709.4 396.6M599.6 420.1L644.1 340.7M654.9 340.2L755.7 433.1M644.8 340.2L587.3 454.1M651.5 340.2L717.2 459.9M601.3 356.0L698.5 349.6M664.2 368.9L703.6 354.9M726.0 354.4L736.1 376.4M606.4 420.1L711.8 354.9M662.6 427.6L717.8 354.9M760.4 433.6L726.0 354.9M715.1 354.4L592.3 454.1M722.9 354.4L721.1 459.9M656.8 483.0L719.6 354.9M601.3 363.8L621.7 369.0M556.4 389.0L572.7 364.5M596.7 364.0L695.3 396.6M651.0 427.6L584.6 364.5M591.7 364.0L747.6 433.1M583.4 454.6L577.7 364.5M712.6 460.4L586.4 364.5M581.0 364.0L649.7 482.5M670.2 377.4L714.8 381.2M576.2 390.3L621.7 380.5M662.1 381.7L699.1 396.6M639.9 381.7L602.8 419.6M647.5 381.7L656.3 427.1M751.6 433.6L658.7 382.2M651.4 381.7L715.4 459.9M646.6 381.7L653.2 482.5M732.0 389.7L724.1 396.6M617.2 420.1L716.4 390.2M668.0 427.6L728.2 390.2M760.5 433.6L742.2 390.2M722.4 460.4L737.8 390.2M658.9 483.0L733.7 390.2M692.2 402.3L576.7 396.6M561.2 401.8L586.3 419.6M640.2 427.6L571.1 402.3M576.2 400.5L738.7 434.8M580.7 454.6L555.5 402.3M705.9 460.4L568.5 402.3M559.1 401.8L646.2 482.5M620.0 421.9L691.7 408.2M670.0 427.6L703.0 410.4M755.0 433.6L725.1 410.4M701.5 409.9L599.7 454.1M711.5 409.9L658.7 482.5M633.7 431.1L620.5 429.5M620.0 428.4L738.7 438.0M593.7 432.9L586.2 454.1M701.1 460.4L617.4 433.4M601.9 432.9L647.4 482.5M739.2 438.6L682.2 435.4M640.2 440.4L602.7 454.1M708.6 460.4L671.0 440.9M654.2 483.0L657.2 440.9M607.8 458.2L738.7 442.9M753.1 446.4L731.9 459.9M667.9 483.0L747.9 446.9M607.8 462.0L696.5 465.8M599.6 467.4L636.7 482.5M701.9 473.2L674.2 482.5" stroke="#e6894f" stroke-width="1.25" fill="none" stroke-opacity="0.92"/>
<path d="M647.7 340.2L646.5 368.4M657.1 427.6L648.7 340.7M653.5 483.0L648.3 340.7M722.2 354.4L717.0 396.6M594.3 420.1L579.2 364.5M641.5 381.7L588.8 454.1M720.5 460.4L716.7 410.4" stroke="#e6894f" stroke-width="2.2" fill="none" stroke-opacity="0.92"/>
<path d="M698.5 343.4L693.3 344.1L693.9 340.8zM597.8 350.7L602.0 347.5L603.1 350.7zM646.5 368.4L645.0 363.3L648.4 363.5zM726.6 376.4L721.4 375.5L723.0 372.5zM562.9 388.5L566.2 384.4L568.1 387.2zM709.4 396.6L704.7 394.2L707.2 391.8zM644.1 340.7L643.2 345.9L640.2 344.2zM648.7 340.7L650.8 345.5L647.5 345.8zM755.7 433.1L750.9 431.0L753.2 428.5zM587.3 454.1L588.0 448.9L591.1 450.4zM717.2 459.9L713.3 456.3L716.3 454.7zM648.3 340.7L650.1 345.6L646.7 345.8zM698.5 349.6L693.6 351.6L693.4 348.2zM703.6 354.9L699.4 358.2L698.3 355.0zM736.1 376.4L732.5 372.6L735.6 371.1zM717.0 396.6L716.0 391.4L719.3 391.8zM711.8 354.9L708.5 359.0L706.7 356.1zM717.8 354.9L716.1 359.9L713.4 357.9zM726.0 354.9L729.6 358.8L726.5 360.2zM592.3 454.1L595.1 449.6L597.3 452.3zM721.1 459.9L719.5 454.9L722.9 454.9zM719.6 354.9L718.9 360.1L715.9 358.6zM621.7 369.0L616.4 369.4L617.3 366.1zM572.7 364.5L571.4 369.6L568.5 367.7zM695.3 396.6L690.0 396.6L691.1 393.4zM579.2 364.5L582.1 368.9L578.8 369.8zM584.6 364.5L589.4 366.7L587.0 369.2zM747.6 433.1L742.4 432.6L743.8 429.5zM577.7 364.5L579.7 369.4L576.4 369.6zM586.4 364.5L591.4 366.2L589.3 368.9zM649.7 482.5L645.7 479.0L648.7 477.3zM714.8 381.2L709.7 382.5L710.0 379.1zM621.7 380.5L617.2 383.2L616.5 379.9zM699.1 396.6L693.8 396.3L695.1 393.2zM602.8 419.6L605.1 414.8L607.5 417.2zM656.3 427.1L653.7 422.5L657.1 421.9zM658.7 382.2L663.9 383.1L662.2 386.1zM588.8 454.1L590.4 449.1L593.1 451.1zM715.4 459.9L710.9 457.1L713.5 455.0zM653.2 482.5L651.2 477.6L654.6 477.4zM724.1 396.6L726.7 392.0L729.0 394.6zM716.4 390.2L712.1 393.3L711.1 390.0zM728.2 390.2L724.8 394.3L723.1 391.4zM742.2 390.2L745.7 394.1L742.6 395.5zM737.8 390.2L738.4 395.4L735.1 394.7zM733.7 390.2L731.9 395.2L729.3 393.0zM576.7 396.6L581.8 395.2L581.6 398.6zM586.3 419.6L581.2 418.1L583.2 415.3zM571.1 402.3L576.3 402.4L575.2 405.6zM738.7 434.8L733.5 435.5L734.2 432.1zM555.5 402.3L559.2 406.1L556.2 407.5zM568.5 402.3L573.8 402.7L572.5 405.8zM646.2 482.5L641.4 480.3L643.7 477.9zM691.7 408.2L687.1 410.8L686.5 407.5zM703.0 410.4L699.3 414.2L697.7 411.2zM725.1 410.4L730.1 412.1L728.0 414.8zM599.7 454.1L603.6 450.5L605.0 453.7zM716.7 410.4L718.8 415.3L715.4 415.5zM658.7 482.5L660.3 477.5L663.0 479.5zM620.5 429.5L625.7 428.4L625.3 431.8zM738.7 438.0L733.6 439.3L733.9 435.9zM586.2 454.1L586.3 448.8L589.5 450.0zM617.4 433.4L622.7 433.3L621.6 436.6zM647.4 482.5L642.7 480.0L645.2 477.7zM682.2 435.4L687.3 434.0L687.1 437.4zM602.7 454.1L606.8 450.8L608.0 454.0zM671.0 440.9L676.2 441.7L674.7 444.7zM657.2 440.9L658.5 446.0L655.1 445.8zM738.7 442.9L733.9 445.1L733.5 441.8zM731.9 459.9L735.2 455.8L737.0 458.7zM747.9 446.9L744.0 450.5L742.6 447.4zM696.5 465.8L691.4 467.3L691.6 463.9zM636.7 482.5L631.4 482.2L632.7 479.0zM674.2 482.5L678.4 479.3L679.5 482.5z" fill="#e6894f"/>
<rect x="624.0" y="327.4" width="48" height="12.8" rx="2" fill="#5586bc" stroke="#35506f" stroke-width="1"/>
<text x="648.0" y="336.6" font-size="7.7" fill="#101b30" text-anchor="middle" textLength="46" lengthAdjust="spacingAndGlyphs" stroke="#101b30" stroke-width="0.2">"LCE3D"</text>
<rect x="699.0" y="341.6" width="48" height="12.8" rx="2" fill="#5586bc" stroke="#35506f" stroke-width="1"/>
<text x="723.0" y="350.8" font-size="7.7" fill="#101b30" text-anchor="middle" textLength="45" lengthAdjust="spacingAndGlyphs" stroke="#101b30" stroke-width="0.2">"SPRR3"</text>
<rect x="553.3" y="351.2" width="48" height="12.8" rx="2" fill="#5586bc" stroke="#35506f" stroke-width="1"/>
<text x="577.3" y="360.4" font-size="7.7" fill="#101b30" text-anchor="middle" textLength="53" lengthAdjust="spacingAndGlyphs" stroke="#101b30" stroke-width="0.2">"SPRR2E"</text>
<rect x="622.2" y="368.9" width="48" height="12.8" rx="2" fill="#5586bc" stroke="#35506f" stroke-width="1"/>
<text x="646.2" y="378.1" font-size="7.7" fill="#101b30" text-anchor="middle" textLength="44" lengthAdjust="spacingAndGlyphs" stroke="#101b30" stroke-width="0.2">"CRCT1"</text>
<rect x="715.3" y="376.9" width="48" height="12.8" rx="2" fill="#5586bc" stroke="#35506f" stroke-width="1"/>
<text x="739.3" y="386.1" font-size="7.7" fill="#101b30" text-anchor="middle" textLength="37" lengthAdjust="spacingAndGlyphs" stroke="#101b30" stroke-width="0.2">"PKP1"</text>
<rect x="528.2" y="389.0" width="48" height="12.8" rx="2" fill="#5586bc" stroke="#35506f" stroke-width="1"/>
<text x="552.2" y="398.2" font-size="7.7" fill="#101b30" text-anchor="middle" textLength="27" lengthAdjust="spacingAndGlyphs" stroke="#101b30" stroke-width="0.2">"IVL"</text>
<rect x="692.2" y="397.1" width="48" height="12.8" rx="2" fill="#5586bc" stroke="#35506f" stroke-width="1"/>
<text x="716.2" y="406.3" font-size="7.7" fill="#101b30" text-anchor="middle" textLength="44" lengthAdjust="spacingAndGlyphs" stroke="#101b30" stroke-width="0.2">"LCE3E"</text>
<rect x="572.0" y="420.1" width="48" height="12.8" rx="2" fill="#5586bc" stroke="#35506f" stroke-width="1"/>
<text x="596.0" y="429.3" font-size="7.7" fill="#101b30" text-anchor="middle" textLength="51" lengthAdjust="spacingAndGlyphs" stroke="#101b30" stroke-width="0.2">"SPRR1A"</text>
<rect x="633.7" y="427.6" width="48" height="12.8" rx="2" fill="#5586bc" stroke="#35506f" stroke-width="1"/>
<text x="657.7" y="436.8" font-size="7.7" fill="#101b30" text-anchor="middle" textLength="38" lengthAdjust="spacingAndGlyphs" stroke="#101b30" stroke-width="0.2">"RPTN"</text>
<rect x="739.2" y="433.6" width="48" height="12.8" rx="2" fill="#5586bc" stroke="#35506f" stroke-width="1"/>
<text x="763.2" y="442.8" font-size="7.7" fill="#101b30" text-anchor="middle" textLength="49" lengthAdjust="spacingAndGlyphs" stroke="#101b30" stroke-width="0.2">"SPRR2A"</text>
<rect x="559.8" y="454.6" width="48" height="12.8" rx="2" fill="#5586bc" stroke="#35506f" stroke-width="1"/>
<text x="583.8" y="463.8" font-size="7.7" fill="#101b30" text-anchor="middle" textLength="53" lengthAdjust="spacingAndGlyphs" stroke="#101b30" stroke-width="0.2">"SPRR2B"</text>
<rect x="697.0" y="460.4" width="48" height="12.8" rx="2" fill="#5586bc" stroke="#35506f" stroke-width="1"/>
<text x="721.0" y="469.6" font-size="7.7" fill="#101b30" text-anchor="middle" textLength="46" lengthAdjust="spacingAndGlyphs" stroke="#101b30" stroke-width="0.2">"S100A7"</text>
<rect x="629.7" y="483.0" width="48" height="12.8" rx="2" fill="#5586bc" stroke="#35506f" stroke-width="1"/>
<text x="653.7" y="492.2" font-size="7.7" fill="#101b30" text-anchor="middle" textLength="52" lengthAdjust="spacingAndGlyphs" stroke="#101b30" stroke-width="0.2">"SPRR2F"</text>
</g>
<g id="netC">
<path d="M218.4 272.6L217.4 273.6M210.2 282.7L206.6 288.7M237.9 285.1L227.8 304.9M226.8 327.6L225.8 314.3M262.4 281.2L231.5 304.9M236.4 311.9L240.1 312.7M229.7 298.3L227.2 304.9M240.6 457.6L225.9 314.3M226.4 314.0L264.8 480.9M198.0 305.9L214.1 308.1M217.1 314.0L213.5 315.9M286.3 331.4L293.3 335.0M277.1 331.4L275.1 345.3M267.2 331.4L151.9 379.5M279.1 322.6L281.4 315.3M271.2 331.4L272.1 330.8M318.0 326.8L289.1 326.9M266.8 327.3L155.3 330.1M276.9 322.6L269.0 281.5M268.1 322.6L214.2 298.1M299.5 418.1L278.9 331.7M280.1 322.6L292.7 298.4M242.9 391.8L245.0 390.9M250.6 376.9L252.0 382.7M184.7 401.9L241.8 389.8M253.7 383.0L267.5 281.5M251.1 391.8L204.9 491.4M261.7 397.0L257.3 392.1M312.1 315.3L304.3 335.0M304.2 348.9L303.3 344.4M291.4 342.7L107.7 392.2M311.4 335.3L319.4 331.4M270.5 281.2L299.8 335.0M243.3 457.6L300.0 344.4M113.5 469.4L295.6 344.4M257.1 278.3L251.4 279.1M186.9 311.4L232.0 285.4M208.6 316.2L235.9 285.4M246.1 422.5L242.4 420.2M251.6 431.3L242.7 457.3M249.0 437.1L251.2 431.6M261.9 422.5L268.4 419.2M264.9 481.2L254.1 431.6M259.8 422.5L296.5 398.4M255.3 422.5L263.4 406.1M234.2 336.4L240.8 340.5M222.8 336.4L219.2 340.0M264.8 281.2L230.6 327.3M229.5 336.4L293.0 450.5M227.6 336.4L240.6 457.3M117.5 360.1L215.8 334.9M184.4 417.5L127.9 354.6M134.7 353.1L182.8 367.1M125.9 354.3L138.3 379.5M134.7 352.5L212.2 370.9M199.7 389.6L132.7 354.6M134.7 348.7L317.7 328.0M139.4 334.8L128.6 345.2M169.6 399.8L128.0 354.6M200.3 491.7L126.2 354.6M129.5 354.3L284.3 472.7M144.8 317.3L126.7 345.2M261.3 481.2L128.6 354.6M123.1 354.3L111.9 440.7M123.1 354.3L107.7 469.1M112.3 358.5L117.5 354.6M124.7 354.3L150.6 474.3M170.3 297.4L127.9 345.2M134.7 352.7L139.5 354.0M186.1 275.6L189.2 272.1M196.7 289.0L189.8 284.7M163.7 269.2L174.2 275.3M176.9 288.6L179.3 284.7M151.6 387.9L223.6 411.7M107.4 396.8L223.6 413.8M234.3 400.0L234.7 410.8M240.5 457.6L235.5 420.2M245.1 437.1L237.1 420.2M229.3 419.9L225.8 422.7M170.9 427.5L177.0 425.6M186.2 417.5L146.3 335.1M177.3 408.6L184.4 417.2M188.0 426.3L185.8 455.1M282.3 473.0L196.9 426.6M199.3 423.8L208.5 425.4M193.1 259.4L193.2 262.7M204.0 255.0L216.3 255.0M294.0 352.1L285.7 351.2M263.4 352.8L107.7 392.3M274.4 354.4L274.4 357.1M267.9 339.9L271.4 345.3M284.7 345.6L318.0 331.4M274.0 345.6L268.5 281.5M118.8 441.0L266.4 354.7M113.0 469.4L268.0 354.7M156.6 269.2L157.3 278.0M157.2 287.1L156.2 296.8M183.1 373.2L151.9 381.3M196.0 366.0L198.1 360.9M196.7 374.8L205.3 389.3M177.4 370.4L182.8 370.4M117.5 363.8L182.8 369.4M303.4 315.3L151.7 379.5M237.4 349.2L151.9 380.1M129.6 386.9L107.7 392.4M151.6 379.9L253.8 339.9M148.8 379.8L205.8 349.4M158.1 426.7L142.5 388.9M151.6 380.8L317.7 330.1M158.2 374.8L149.4 379.5M146.3 388.6L235.0 457.3M289.5 419.9L151.9 386.9M148.1 379.8L287.1 298.4M283.3 473.0L148.2 388.9M120.1 416.5L137.6 388.9M146.0 388.6L260.1 480.9M139.0 388.6L108.9 469.1M113.5 367.3L133.1 379.5M176.8 320.2L143.3 379.5M200.3 325.0L145.3 379.5M149.2 361.3L142.4 379.5M201.5 337.9L200.5 351.5M205.6 351.8L208.7 349.4M211.1 358.2L289.8 372.4M264.3 281.2L204.1 351.5M195.7 360.6L116.0 440.7M110.6 469.4L196.4 360.9M293.8 310.7L302.5 310.8M308.2 315.3L165.9 426.4M324.8 322.3L318.3 315.6M309.0 306.5L300.2 298.4M304.2 357.7L302.0 369.7M168.1 426.7L296.2 358.0M309.0 348.9L324.8 331.4M155.0 332.0L293.7 351.7M304.7 357.7L300.8 417.8M219.8 475.7L218.0 462.8M236.1 466.4L225.8 475.4M215.5 484.5L207.9 491.4M212.7 475.7L125.5 425.6M209.4 479.5L118.4 474.4M211.6 267.9L204.7 267.7M182.4 266.6L167.5 265.6M240.9 349.6L234.2 353.5M256.0 340.8L257.0 340.2M242.8 349.6L179.7 399.5M266.8 281.2L249.8 340.5M241.4 457.6L248.1 349.9M209.6 340.3L207.2 338.2M212.5 337.9L289.8 369.7M190.8 332.9L155.3 331.0M206.9 329.1L262.6 281.5M187.8 331.7L190.5 332.1M198.2 337.9L115.1 440.7M202.8 329.1L203.6 325.3M164.4 426.7L278.0 315.3M280.9 306.2L270.1 281.5M276.8 306.2L266.3 298.6M214.8 295.8L271.5 308.1M281.6 315.0L242.4 457.3M291.9 298.1L286.2 305.9M290.1 375.5L107.7 394.1M104.2 399.6L151.6 426.4M107.4 392.0L317.7 330.0M107.4 391.3L155.1 374.4M102.8 390.8L261.3 281.5M284.6 451.9L107.7 398.6M225.5 298.3L102.7 390.5M231.6 457.6L106.6 399.9M289.5 421.0L107.7 396.7M101.0 399.6L197.7 491.4M100.0 399.6L113.5 416.2M97.0 399.6L106.5 469.1M97.8 390.8L105.0 367.6M266.7 339.9L272.7 357.1M291.8 370.0L284.4 366.5M259.7 368.1L263.5 366.5M281.2 357.4L321.7 331.4M155.0 333.0L263.1 359.1M274.1 357.4L268.4 281.5M298.6 418.1L276.4 366.5M272.1 366.2L205.2 491.4M239.5 265.4L233.9 266.3M225.9 259.4L224.4 263.5M218.3 349.1L222.1 353.5M225.4 362.6L224.3 368.9M237.1 360.6L289.8 372.0M265.8 281.2L228.5 353.5M229.3 362.6L292.2 450.5M117.5 362.5L214.8 358.6M318.0 328.2L276.4 333.9M267.9 281.2L265.3 330.8M254.3 319.4L262.0 330.8M263.4 339.9L204.5 491.4M218.1 340.3L264.4 281.5M122.9 416.5L208.6 349.4M115.8 441.0L209.8 349.4M225.6 378.0L231.8 390.9M223.1 394.9L219.4 394.7M224.9 400.0L169.7 426.4M235.4 391.2L266.8 281.5M237.1 400.0L287.2 472.7M211.4 389.6L220.0 378.3M238.5 373.0L234.8 373.1M293.6 418.1L230.9 378.3M212.5 372.6L117.8 363.9M290.1 374.0L260.8 372.9M170.9 426.7L289.8 378.9M326.4 331.1L303.8 369.7M290.1 371.3L155.3 333.6M269.6 281.2L299.5 369.7M298.8 370.0L262.3 298.6M290.1 370.5L188.1 334.3M300.8 378.8L295.9 450.5M244.1 457.6L297.9 379.1M301.0 378.8L300.6 417.8M300.6 378.8L290.9 472.7M290.1 377.2L128.6 418.0M299.7 378.8L267.4 480.9M290.1 378.5L122.6 441.2M115.7 469.4L291.9 379.1M290.1 373.7L117.8 363.6M303.1 389.3L301.7 379.1M212.4 398.4L285.8 472.7M210.9 398.4L262.9 480.9M267.2 281.2L250.4 367.8M254.0 376.9L295.7 417.8M173.2 348.3L167.8 365.7M176.1 334.7L175.3 339.2M181.6 348.3L293.0 417.8M263.1 481.2L177.5 348.6M117.5 359.8L163.2 347.1M166.5 348.3L159.4 352.2M171.4 408.6L162.3 426.4M170.9 430.4L289.2 423.2M162.8 435.5L199.6 491.4M279.4 473.5L171.2 435.1M170.9 430.4L208.5 428.1M148.9 428.5L128.6 423.6M154.5 435.5L112.9 469.1M152.4 474.6L159.1 435.8M160.4 426.7L173.7 297.7M158.8 435.5L154.6 451.9M190.1 455.4L323.9 331.4M296.7 450.8L327.8 331.4M301.8 418.1L327.6 331.4M206.0 491.7L325.5 331.4M327.9 331.1L291.6 472.7M320.9 331.1L119.9 440.7M117.5 361.1L317.7 328.5M323.9 331.1L157.1 474.3M327.3 331.1L305.5 389.0M172.7 399.8L167.4 375.1M171.2 366.0L263.0 281.5M155.4 369.0L117.8 364.3M161.3 366.0L156.2 361.6M256.3 267.9L261.9 272.1M146.5 334.8L214.7 453.4M240.4 316.6L155.3 328.8M145.6 334.8L201.0 491.4M148.4 334.8L285.7 472.7M144.9 326.0L146.6 317.6M118.6 416.5L142.6 335.1M142.7 334.8L112.6 440.7M111.6 358.5L138.6 335.1M292.7 389.3L155.3 334.9M179.7 308.8L151.8 325.7M149.7 352.5L145.2 335.1M176.6 334.7L173.9 399.5M285.1 450.8L184.9 408.9M178.8 408.6L235.6 457.3M184.7 405.8L289.2 420.9M201.3 491.7L175.2 408.9M182.4 408.6L210.5 422.7M118.0 441.0L166.6 408.9M111.3 469.4L169.2 408.9M166.5 399.8L114.1 367.6M292.7 394.6L185.0 403.3M262.0 289.5L265.8 281.5M268.8 281.2L294.9 450.5M266.2 281.2L253.5 310.3M240.8 289.5L258.0 281.5M299.5 418.1L269.1 281.5M275.1 281.2L287.6 289.0M268.6 281.2L289.9 472.7M265.9 481.2L268.1 281.5M115.4 441.0L263.7 281.5M114.8 358.5L259.3 281.5M261.7 281.2L211.5 315.9M214.8 293.5L248.6 293.8M253.2 310.6L258.0 298.6M242.4 293.9L248.6 293.9M284.1 293.8L271.2 293.8M289.7 473.0L260.7 298.6M198.0 302.8L248.6 295.5M206.4 458.7L196.7 459.2M284.6 455.7L196.7 459.3M200.6 491.7L187.6 464.5M159.3 474.6L177.1 464.5M164.4 457.7L174.1 458.7M293.1 450.8L206.5 298.1M241.7 310.6L214.2 298.1M114.0 441.0L200.9 298.1M193.7 300.0L196.6 298.1M176.1 334.7L152.4 474.3M178.5 320.2L177.6 325.6M230.1 460.2L228.7 460.0M204.4 491.7L215.6 462.8M219.5 431.8L217.8 453.4M206.4 456.8L122.6 446.8M297.8 398.1L223.7 453.4M233.2 298.3L293.7 450.5M299.8 426.9L296.3 450.5M212.7 491.7L284.9 459.9M294.6 459.6L291.5 472.7M258.2 444.6L284.3 452.0M279.7 418.9L293.5 450.5M128.3 423.0L284.3 453.0M291.3 459.6L270.5 480.9M118.1 472.7L284.3 456.3M284.6 457.0L162.9 477.1M298.5 418.1L253.5 319.7M240.4 313.2L198.3 306.3M293.9 426.9L248.2 457.3M207.7 491.7L235.8 466.7M279.4 474.0L252.4 465.5M242.4 457.6L245.8 446.2M230.1 458.3L128.6 424.7M261.3 481.2L246.0 466.7M162.6 476.9L229.8 464.1M245.1 457.6L299.4 398.4M289.5 418.6L289.1 418.5M289.5 422.4L128.6 421.0M268.3 481.2L297.9 427.2M122.3 444.1L289.2 423.9M118.1 470.9L289.2 425.5M162.6 474.8L289.2 426.8M303.2 398.1L301.0 417.8M164.4 454.1L289.2 425.1M204.7 491.7L293.0 298.4M206.7 491.7L273.5 419.2M122.3 425.3L197.4 491.4M213.7 494.3L254.6 487.5M119.2 449.8L194.2 491.4M191.7 493.5L118.4 476.4M191.7 492.4L162.9 482.8M207.0 491.7L299.1 398.4M187.4 308.8L202.3 491.4M252.5 445.9L284.7 472.7M279.4 481.1L277.2 481.8M279.4 475.4L122.6 447.4M118.1 474.0L279.1 477.2M303.0 398.1L291.1 472.7M285.3 473.0L156.2 361.6M228.4 431.8L238.1 436.8M114.4 367.3L238.8 436.8M114.2 367.3L211.5 422.7M152.6 305.9L150.9 308.2M165.3 297.1L164.0 297.7M176.0 303.4L167.0 302.5M158.6 313.9L168.0 314.8M147.9 317.3L150.5 352.2M266.8 414.9L128.6 420.4M283.3 410.1L297.8 398.4M273.7 410.1L270.0 406.1M255.8 481.2L128.1 425.6M112.4 441.0L116.1 425.6M107.9 469.4L116.4 425.6M116.5 416.5L107.4 367.6M292.7 395.3L128.6 419.3M118.1 474.6L254.6 484.8M162.6 479.6L254.6 484.9M265.9 481.2L265.7 406.1M254.9 482.8L164.7 459.5M110.6 449.8L107.8 469.1M106.8 367.3L111.0 440.7M142.4 453.7L122.6 448.4M140.6 477.7L118.4 475.1M117.9 469.4L292.4 398.3M256.1 405.8L117.4 469.1M177.3 320.2L109.2 469.1M108.7 469.4L149.0 361.6M118.1 469.7L142.1 460.8M149.9 474.6L108.3 367.6M292.7 392.0L117.8 364.7M117.5 361.4L139.5 358.4M108.7 367.3L151.0 451.9M159.4 474.6L295.3 398.4M158.1 474.6L258.8 406.1M153.0 461.0L152.0 474.3M297.7 389.3L211.1 325.3M179.1 297.4L181.7 299.7M178.3 311.4L175.3 297.7M182.3 311.4L183.8 309.1M199.9 316.2L192.1 309.1M193.7 318.5L190.6 317.9" stroke="#e6894f" stroke-width="0.85" fill="none" stroke-opacity="0.9"/>
<path d="M143.7 334.8L140.9 379.5M200.3 491.7L143.2 388.9M151.4 474.6L144.2 335.1" stroke="#e6894f" stroke-width="1.8" fill="none" stroke-opacity="0.9"/>
<path d="M217.4 273.6L218.6 271.1L219.9 272.3zM206.6 288.7L207.2 286.0L208.7 286.9zM227.8 304.9L228.2 302.2L229.8 303.0zM225.8 314.3L226.9 316.8L225.1 317.0zM231.5 304.9L233.0 302.6L234.1 304.0zM240.1 312.7L237.4 313.0L237.7 311.2zM227.2 304.9L227.3 302.2L229.0 302.8zM225.9 314.3L227.0 316.8L225.3 317.0zM264.8 480.9L263.4 478.6L265.1 478.2zM214.1 308.1L211.4 308.6L211.6 306.8zM213.5 315.9L215.4 313.9L216.3 315.5zM293.3 335.0L290.6 334.6L291.4 333.0zM275.1 345.3L274.6 342.6L276.4 342.9zM151.9 379.5L153.9 377.7L154.6 379.3zM281.4 315.3L281.5 318.0L279.7 317.5zM272.1 330.8L270.5 333.0L269.5 331.5zM289.1 326.9L291.7 326.0L291.7 327.8zM155.3 330.1L157.9 329.1L157.9 330.9zM269.0 281.5L270.4 283.9L268.6 284.2zM214.2 298.1L216.9 298.4L216.1 300.0zM278.9 331.7L280.4 334.0L278.6 334.4zM292.7 298.4L292.3 301.1L290.7 300.3zM245.0 390.9L243.0 392.8L242.2 391.1zM252.0 382.7L250.5 380.4L252.2 380.0zM241.8 389.8L239.4 391.2L239.1 389.4zM267.5 281.5L268.0 284.2L266.2 284.0zM204.9 491.4L205.2 488.7L206.8 489.4zM257.3 392.1L259.7 393.4L258.4 394.6zM304.3 335.0L304.4 332.3L306.1 332.9zM303.3 344.4L304.7 346.8L302.9 347.1zM107.7 392.2L110.0 390.6L110.4 392.3zM319.4 331.4L317.4 333.4L316.7 331.7zM299.8 335.0L297.8 333.1L299.4 332.3zM300.0 344.4L299.7 347.1L298.1 346.3zM295.6 344.4L293.9 346.6L292.9 345.1zM251.4 279.1L253.9 277.9L254.1 279.7zM232.0 285.4L230.2 287.5L229.3 285.9zM235.9 285.4L234.9 287.9L233.5 286.7zM242.4 420.2L245.1 420.8L244.1 422.3zM242.7 457.3L242.7 454.5L244.4 455.1zM251.2 431.6L251.1 434.3L249.4 433.7zM268.4 419.2L266.5 421.2L265.7 419.6zM254.1 431.6L255.6 433.9L253.8 434.3zM296.5 398.4L294.9 400.6L293.9 399.1zM263.4 406.1L263.0 408.8L261.4 408.0zM240.8 340.5L238.1 339.9L239.1 338.4zM219.2 340.0L220.4 337.5L221.7 338.8zM230.6 327.3L231.4 324.7L232.9 325.7zM293.0 450.5L290.9 448.7L292.5 447.8zM240.6 457.3L239.4 454.8L241.2 454.6zM215.8 334.9L213.5 336.4L213.1 334.7zM127.9 354.6L130.3 355.9L129.0 357.1zM182.8 367.1L180.1 367.2L180.6 365.5zM138.3 379.5L136.3 377.6L137.9 376.8zM212.2 370.9L209.5 371.2L209.9 369.4zM132.7 354.6L135.4 355.0L134.6 356.6zM317.7 328.0L315.2 329.2L315.0 327.4zM128.6 345.2L129.8 342.7L131.1 344.0zM128.0 354.6L130.5 355.9L129.1 357.1zM126.2 354.6L128.3 356.5L126.7 357.3zM284.3 472.7L281.6 471.8L282.7 470.4zM126.7 345.2L127.4 342.5L128.9 343.5zM128.6 354.6L131.1 355.7L129.9 357.0zM111.9 440.7L111.4 438.0L113.1 438.2zM107.7 469.1L107.2 466.4L109.0 466.6zM117.5 354.6L116.0 356.9L114.9 355.4zM150.6 474.3L149.2 471.9L150.9 471.6zM127.9 345.2L128.9 342.7L130.3 343.9zM139.5 354.0L136.8 354.2L137.2 352.5zM189.2 272.1L188.2 274.6L186.8 273.4zM189.8 284.7L192.5 285.3L191.5 286.8zM174.2 275.3L171.5 274.8L172.4 273.2zM179.3 284.7L178.7 287.4L177.2 286.4zM223.6 411.7L220.8 411.8L221.4 410.1zM223.6 413.8L220.9 414.4L221.2 412.6zM234.7 410.8L233.7 408.2L235.5 408.2zM235.5 420.2L236.8 422.7L235.0 422.9zM237.1 420.2L239.0 422.2L237.4 422.9zM225.8 422.7L227.2 420.4L228.4 421.8zM177.0 425.6L174.8 427.2L174.2 425.5zM146.3 335.1L148.2 337.0L146.6 337.8zM184.4 417.2L182.1 415.8L183.5 414.6zM185.8 455.1L185.1 452.4L186.9 452.6zM196.9 426.6L199.7 427.1L198.8 428.6zM208.5 425.4L205.8 425.9L206.1 424.1zM193.2 262.7L192.3 260.1L194.1 260.1zM216.3 255.0L213.7 255.9L213.7 254.1zM285.7 351.2L288.4 350.6L288.2 352.4zM107.7 392.3L110.0 390.8L110.4 392.6zM274.4 357.1L273.5 354.5L275.3 354.5zM271.4 345.3L269.2 343.6L270.7 342.6zM318.0 331.4L315.9 333.2L315.2 331.6zM268.5 281.5L269.6 284.0L267.8 284.2zM266.4 354.7L264.6 356.8L263.7 355.2zM268.0 354.7L266.5 357.0L265.4 355.5zM157.3 278.0L156.2 275.5L158.0 275.3zM156.2 296.8L155.6 294.1L157.4 294.3zM151.9 381.3L154.2 379.8L154.6 381.5zM198.1 360.9L197.9 363.6L196.3 362.9zM205.3 389.3L203.2 387.5L204.8 386.6zM182.8 370.4L180.2 371.3L180.2 369.5zM182.8 369.4L180.1 370.1L180.3 368.3zM151.7 379.5L153.7 377.7L154.5 379.3zM151.9 380.1L154.0 378.4L154.7 380.1zM107.7 392.4L110.0 390.9L110.4 392.6zM253.8 339.9L251.7 341.7L251.1 340.0zM205.8 349.4L203.9 351.4L203.1 349.8zM142.5 388.9L144.4 391.0L142.7 391.6zM317.7 330.1L315.5 331.8L315.0 330.0zM149.4 379.5L151.3 377.5L152.1 379.1zM140.9 379.5L140.2 376.8L142.0 377.0zM235.0 457.3L232.4 456.4L233.5 455.0zM151.9 386.9L154.6 386.6L154.2 388.4zM143.2 388.9L145.3 390.7L143.7 391.6zM287.1 298.4L285.3 300.5L284.4 298.9zM148.2 388.9L150.8 389.5L149.9 391.0zM137.6 388.9L137.0 391.6L135.5 390.6zM260.1 480.9L257.5 480.0L258.6 478.6zM108.9 469.1L108.9 466.3L110.6 467.0zM133.1 379.5L130.4 378.9L131.3 377.4zM143.3 379.5L143.8 376.8L145.3 377.7zM145.3 379.5L146.5 377.0L147.8 378.3zM142.4 379.5L142.4 376.7L144.1 377.4zM200.5 351.5L199.7 348.8L201.5 349.0zM208.7 349.4L207.2 351.7L206.1 350.3zM289.8 372.4L287.1 372.8L287.4 371.0zM204.1 351.5L205.1 348.9L206.5 350.1zM116.0 440.7L117.2 438.2L118.5 439.5zM196.4 360.9L195.5 363.5L194.1 362.4zM302.5 310.8L299.9 311.7L299.9 309.9zM165.9 426.4L167.4 424.1L168.5 425.5zM318.3 315.6L320.8 316.8L319.5 318.1zM300.2 298.4L302.7 299.5L301.5 300.8zM302.0 369.7L301.6 367.0L303.3 367.3zM296.2 358.0L294.4 360.0L293.5 358.4zM324.8 331.4L323.7 333.9L322.3 332.7zM293.7 351.7L291.0 352.2L291.3 350.4zM300.8 417.8L300.1 415.1L301.9 415.3zM218.0 462.8L219.3 465.3L217.5 465.5zM225.8 475.4L227.1 473.0L228.3 474.4zM207.9 491.4L209.2 489.0L210.4 490.3zM125.5 425.6L128.2 426.1L127.3 427.7zM118.4 474.4L121.0 473.7L120.9 475.5zM204.7 267.7L207.3 266.9L207.3 268.7zM167.5 265.6L170.2 264.9L170.0 266.7zM234.2 353.5L236.0 351.4L236.9 353.0zM257.0 340.2L255.2 342.3L254.3 340.7zM179.7 399.5L181.1 397.2L182.2 398.6zM249.8 340.5L249.6 337.8L251.3 338.3zM248.1 349.9L248.8 352.6L247.0 352.4zM207.2 338.2L209.7 339.2L208.5 340.6zM289.8 369.7L287.1 369.6L287.7 367.9zM155.3 331.0L157.9 330.2L157.8 332.0zM262.6 281.5L261.2 283.9L260.0 282.5zM190.5 332.1L187.8 332.6L188.0 330.8zM115.1 440.7L116.0 438.1L117.4 439.2zM203.6 325.3L204.0 328.0L202.2 327.6zM278.0 315.3L276.8 317.8L275.5 316.5zM270.1 281.5L272.0 283.5L270.4 284.2zM266.3 298.6L269.0 299.4L267.9 300.9zM271.5 308.1L268.8 308.5L269.2 306.7zM242.4 457.3L242.2 454.6L244.0 455.0zM286.2 305.9L287.0 303.3L288.5 304.3zM107.7 394.1L110.2 392.9L110.4 394.7zM151.6 426.4L148.9 425.9L149.8 424.3zM317.7 330.0L315.5 331.6L315.0 329.9zM155.1 374.4L152.9 376.1L152.3 374.4zM261.3 281.5L259.7 283.7L258.6 282.2zM107.7 398.6L110.4 398.5L109.9 400.2zM102.7 390.5L104.2 388.2L105.3 389.7zM106.6 399.9L109.3 400.2L108.6 401.8zM107.7 396.7L110.4 396.2L110.2 397.9zM197.7 491.4L195.2 490.3L196.5 489.0zM113.5 416.2L111.1 414.8L112.5 413.6zM106.5 469.1L105.2 466.6L107.0 466.4zM105.0 367.6L105.1 370.4L103.4 369.8zM272.7 357.1L271.0 354.9L272.7 354.3zM284.4 366.5L287.1 366.8L286.3 368.4zM263.5 366.5L261.4 368.4L260.7 366.7zM321.7 331.4L320.0 333.6L319.0 332.0zM263.1 359.1L260.4 359.3L260.8 357.6zM268.4 281.5L269.5 284.0L267.7 284.2zM276.4 366.5L278.3 368.5L276.6 369.2zM205.2 491.4L205.6 488.7L207.2 489.5zM233.9 266.3L236.3 265.0L236.6 266.8zM224.4 263.5L224.5 260.7L226.1 261.4zM222.1 353.5L219.7 352.1L221.1 350.9zM224.3 368.9L223.8 366.2L225.6 366.5zM289.8 372.0L287.1 372.3L287.4 370.5zM228.5 353.5L228.9 350.8L230.5 351.6zM292.2 450.5L290.0 448.9L291.4 447.9zM214.8 358.6L212.2 359.6L212.2 357.8zM276.4 333.9L278.9 332.7L279.1 334.5zM265.3 330.8L264.6 328.2L266.4 328.2zM262.0 330.8L259.8 329.1L261.3 328.1zM204.5 491.4L204.6 488.7L206.3 489.3zM264.4 281.5L263.5 284.1L262.1 283.0zM208.6 349.4L207.1 351.7L206.0 350.3zM209.8 349.4L208.5 351.9L207.3 350.6zM231.8 390.9L229.9 388.9L231.5 388.2zM219.4 394.7L222.1 394.0L221.9 395.8zM169.7 426.4L171.7 424.5L172.5 426.1zM266.8 281.5L266.9 284.2L265.2 283.8zM287.2 472.7L284.9 471.1L286.4 470.0zM220.0 378.3L219.1 380.9L217.7 379.8zM234.8 373.1L237.4 372.1L237.4 373.9zM230.9 378.3L233.6 378.9L232.6 380.5zM117.8 363.9L120.5 363.3L120.3 365.1zM260.8 372.9L263.4 372.1L263.4 373.9zM289.8 378.9L287.7 380.7L287.1 379.1zM303.8 369.7L304.4 367.0L305.9 367.9zM155.3 333.6L158.0 333.4L157.6 335.1zM299.5 369.7L297.8 367.5L299.5 366.9zM262.3 298.6L264.3 300.5L262.7 301.3zM188.1 334.3L190.9 334.3L190.2 336.0zM295.9 450.5L295.2 447.8L297.0 448.0zM297.9 379.1L297.2 381.8L295.7 380.7zM300.6 417.8L299.7 415.2L301.5 415.2zM290.9 472.7L290.3 470.0L292.1 470.2zM128.6 418.0L130.9 416.5L131.3 418.3zM267.4 480.9L267.3 478.1L269.0 478.7zM122.6 441.2L124.7 439.4L125.4 441.1zM291.9 379.1L290.0 381.1L289.2 379.5zM117.8 363.6L120.4 362.8L120.3 364.6zM301.7 379.1L303.0 381.6L301.2 381.8zM285.8 472.7L283.3 471.5L284.6 470.2zM262.9 480.9L260.8 479.2L262.3 478.2zM250.4 367.8L250.0 365.1L251.8 365.4zM295.7 417.8L293.2 416.6L294.5 415.3zM167.8 365.7L167.7 363.0L169.5 363.5zM175.3 339.2L174.8 336.5L176.6 336.8zM293.0 417.8L290.3 417.2L291.2 415.7zM177.5 348.6L179.7 350.3L178.2 351.3zM163.2 347.1L160.9 348.6L160.5 346.9zM159.4 352.2L161.2 350.2L162.1 351.7zM162.3 426.4L162.7 423.7L164.3 424.5zM289.2 423.2L286.7 424.2L286.5 422.5zM199.6 491.4L197.4 489.7L198.9 488.7zM171.2 435.1L174.0 435.1L173.3 436.8zM208.5 428.1L206.0 429.2L205.8 427.4zM128.6 423.6L131.3 423.3L130.9 425.1zM112.9 469.1L114.4 466.8L115.5 468.2zM159.1 435.8L159.5 438.5L157.8 438.2zM173.7 297.7L174.3 300.4L172.6 300.2zM154.6 451.9L154.4 449.2L156.1 449.6zM323.9 331.4L322.6 333.8L321.4 332.5zM327.8 331.4L328.0 334.1L326.3 333.7zM327.6 331.4L327.7 334.1L326.0 333.6zM325.5 331.4L324.7 334.0L323.2 332.9zM291.6 472.7L291.4 470.0L293.1 470.4zM119.9 440.7L121.8 438.7L122.6 440.2zM317.7 328.5L315.3 329.8L315.0 328.1zM157.1 474.3L158.5 471.9L159.6 473.3zM305.5 389.0L305.6 386.2L307.2 386.9zM167.4 375.1L168.8 377.5L167.1 377.8zM263.0 281.5L261.7 283.9L260.5 282.6zM117.8 364.3L120.5 363.7L120.3 365.5zM156.2 361.6L158.8 362.6L157.6 364.0zM261.9 272.1L259.3 271.3L260.3 269.8zM214.7 453.4L212.6 451.6L214.2 450.7zM155.3 328.8L157.7 327.5L158.0 329.3zM201.0 491.4L199.3 489.2L201.0 488.6zM285.7 472.7L283.2 471.5L284.5 470.2zM146.6 317.6L147.0 320.3L145.2 320.0zM142.6 335.1L142.7 337.8L141.0 337.3zM112.6 440.7L112.5 438.0L114.2 438.4zM138.6 335.1L137.2 337.5L136.0 336.1zM144.2 335.1L145.3 337.7L143.5 337.7zM155.3 334.9L158.0 335.0L157.4 336.7zM151.8 325.7L153.5 323.6L154.5 325.1zM145.2 335.1L146.7 337.4L145.0 337.8zM173.9 399.5L173.1 396.9L174.9 396.9zM184.9 408.9L187.7 409.1L187.0 410.7zM235.6 457.3L233.1 456.3L234.2 454.9zM289.2 420.9L286.5 421.4L286.8 419.6zM175.2 408.9L176.8 411.1L175.1 411.7zM210.5 422.7L207.7 422.3L208.5 420.7zM166.6 408.9L164.9 411.1L163.9 409.6zM169.2 408.9L168.1 411.4L166.8 410.2zM114.1 367.6L116.8 368.2L115.9 369.7zM185.0 403.3L187.5 402.2L187.7 404.0zM265.8 281.5L265.5 284.2L263.9 283.5zM294.9 450.5L293.6 448.1L295.4 447.8zM253.5 310.3L253.7 307.6L255.3 308.3zM258.0 281.5L256.0 283.4L255.3 281.8zM269.1 281.5L270.6 283.8L268.8 284.2zM287.6 289.0L284.9 288.4L285.9 286.9zM289.9 472.7L288.7 470.2L290.5 470.0zM268.1 281.5L268.9 284.1L267.1 284.1zM263.7 281.5L262.6 284.0L261.3 282.8zM259.3 281.5L257.4 283.5L256.6 281.9zM211.5 315.9L213.1 313.7L214.2 315.2zM248.6 293.8L246.0 294.7L246.0 292.9zM258.0 298.6L257.9 301.3L256.2 300.7zM248.6 293.9L246.0 294.8L246.0 293.0zM271.2 293.8L273.8 292.9L273.8 294.7zM260.7 298.6L262.0 301.0L260.2 301.3zM248.6 295.5L246.2 296.8L245.9 295.0zM196.7 459.2L199.2 458.2L199.3 460.0zM196.7 459.3L199.3 458.3L199.3 460.1zM187.6 464.5L189.6 466.5L187.9 467.2zM177.1 464.5L175.3 466.6L174.4 465.0zM174.1 458.7L171.4 459.3L171.6 457.5zM206.5 298.1L208.5 299.9L207.0 300.8zM214.2 298.1L216.9 298.4L216.2 300.0zM200.9 298.1L200.4 300.8L198.8 299.9zM196.6 298.1L194.9 300.3L194.0 298.8zM152.4 474.3L151.9 471.6L153.7 471.9zM177.6 325.6L177.2 322.9L178.9 323.2zM228.7 460.0L231.4 459.5L231.1 461.3zM215.6 462.8L215.5 465.5L213.8 464.9zM217.8 453.4L217.1 450.7L218.9 450.9zM122.6 446.8L125.3 446.2L125.1 448.0zM223.7 453.4L225.2 451.1L226.3 452.6zM293.7 450.5L291.9 448.4L293.6 447.8zM296.3 450.5L295.8 447.8L297.6 448.1zM284.9 459.9L282.9 461.8L282.2 460.1zM291.5 472.7L291.2 470.0L293.0 470.4zM284.3 452.0L281.6 452.2L282.0 450.4zM293.5 450.5L291.7 448.5L293.3 447.8zM284.3 453.0L281.6 453.4L281.9 451.7zM270.5 480.9L271.7 478.4L273.0 479.7zM284.3 456.3L281.8 457.5L281.6 455.7zM162.9 477.1L165.3 475.8L165.6 477.6zM253.5 319.7L255.4 321.7L253.8 322.4zM198.3 306.3L201.0 305.8L200.7 307.6zM248.2 457.3L249.8 455.1L250.8 456.6zM235.8 466.7L234.5 469.1L233.3 467.8zM252.4 465.5L255.2 465.4L254.6 467.2zM245.8 446.2L245.9 448.9L244.2 448.4zM128.6 424.7L131.4 424.6L130.8 426.3zM246.0 466.7L248.5 467.8L247.3 469.1zM229.8 464.1L227.4 465.5L227.1 463.7zM299.4 398.4L298.3 400.9L297.0 399.7zM289.1 418.5L291.9 418.5L291.3 420.2zM128.6 421.0L131.2 420.1L131.2 421.9zM297.9 427.2L297.5 429.9L295.9 429.0zM289.2 423.9L286.7 425.1L286.5 423.3zM289.2 425.5L286.9 427.0L286.5 425.3zM289.2 426.8L287.1 428.6L286.4 426.9zM301.0 417.8L300.4 415.1L302.2 415.3zM289.2 425.1L286.9 426.6L286.5 424.8zM293.0 298.4L292.7 301.1L291.1 300.4zM273.5 419.2L272.4 421.7L271.1 420.5zM197.4 491.4L194.8 490.4L196.0 489.0zM254.6 487.5L252.2 488.8L251.9 487.0zM194.2 491.4L191.5 490.9L192.4 489.4zM118.4 476.4L121.1 476.2L120.7 477.9zM162.9 482.8L165.7 482.8L165.1 484.5zM299.1 398.4L297.9 400.9L296.6 399.6zM202.3 491.4L201.2 488.9L203.0 488.7zM284.7 472.7L282.2 471.7L283.3 470.3zM277.2 481.8L279.4 480.1L280.0 481.8zM122.6 447.4L125.3 447.0L125.0 448.8zM279.1 477.2L276.5 478.0L276.5 476.2zM291.1 472.7L290.7 470.0L292.4 470.3zM156.2 361.6L158.8 362.6L157.6 364.0zM238.1 436.8L235.3 436.4L236.2 434.8zM238.8 436.8L236.1 436.3L237.0 434.7zM211.5 422.7L208.8 422.2L209.7 420.6zM150.9 308.2L151.7 305.6L153.2 306.6zM164.0 297.7L166.0 295.8L166.7 297.4zM167.0 302.5L169.7 301.9L169.5 303.7zM168.0 314.8L165.3 315.4L165.5 313.6zM150.5 352.2L149.4 349.7L151.2 349.5zM128.6 420.4L131.2 419.4L131.2 421.2zM297.8 398.4L296.4 400.7L295.3 399.3zM270.0 406.1L272.5 407.4L271.1 408.6zM128.1 425.6L130.8 425.8L130.1 427.5zM116.1 425.6L116.4 428.3L114.7 427.9zM116.4 425.6L116.8 428.3L115.0 428.0zM107.4 367.6L108.7 370.0L107.0 370.3zM128.6 419.3L131.0 418.0L131.3 419.8zM254.6 484.8L251.9 485.5L252.1 483.7zM254.6 484.9L252.0 485.7L252.1 483.9zM265.7 406.1L266.6 408.7L264.8 408.7zM164.7 459.5L167.4 459.3L167.0 461.0zM107.8 469.1L107.3 466.4L109.1 466.7zM111.0 440.7L110.0 438.2L111.8 438.1zM122.6 448.4L125.3 448.2L124.9 449.9zM118.4 475.1L121.1 474.5L120.9 476.3zM292.4 398.3L290.3 400.1L289.7 398.5zM117.4 469.1L119.4 467.2L120.1 468.8zM109.2 469.1L109.5 466.4L111.1 467.1zM149.0 361.6L149.0 364.4L147.3 363.7zM142.1 460.8L140.0 462.5L139.3 460.9zM108.3 367.6L110.1 369.7L108.4 370.3zM117.8 364.7L120.5 364.2L120.2 366.0zM139.5 358.4L137.0 359.7L136.8 357.9zM151.0 451.9L149.1 450.0L150.7 449.2zM295.3 398.4L293.5 400.5L292.6 398.9zM258.8 406.1L257.1 408.3L256.1 406.8zM152.0 474.3L151.3 471.6L153.1 471.8zM211.1 325.3L213.7 326.1L212.6 327.6zM181.7 299.7L179.2 298.6L180.4 297.3zM175.3 297.7L176.7 300.0L174.9 300.4zM183.8 309.1L183.1 311.8L181.6 310.8zM192.1 309.1L194.7 310.2L193.4 311.5zM190.6 317.9L193.3 317.5L193.0 319.3z" fill="#e6894f"/>
<rect x="182.0" y="250.6" width="22" height="8.8" rx="0.8" fill="#5586bc" stroke="#41689a" stroke-width="0.7"/>
<text transform="translate(193.0,257.0) scale(1.12,1)" font-size="5.3" fill="#121d33" text-anchor="middle" stroke="#121d33" stroke-width="0.15">"COL14A1"</text>
<rect x="216.6" y="250.6" width="22" height="8.8" rx="0.8" fill="#5586bc" stroke="#41689a" stroke-width="0.7"/>
<text transform="translate(227.6,257.0) scale(1.12,1)" font-size="5.3" fill="#121d33" text-anchor="middle" stroke="#121d33" stroke-width="0.15">"OGN"</text>
<rect x="239.5" y="259.1" width="22" height="8.8" rx="0.8" fill="#5586bc" stroke="#41689a" stroke-width="0.7"/>
<text transform="translate(250.5,265.5) scale(1.12,1)" font-size="5.3" fill="#121d33" text-anchor="middle" stroke="#121d33" stroke-width="0.15">"LAMA2"</text>
<rect x="145.2" y="260.4" width="22" height="8.8" rx="0.8" fill="#5586bc" stroke="#41689a" stroke-width="0.7"/>
<text transform="translate(156.2,266.8) scale(1.12,1)" font-size="5.3" fill="#121d33" text-anchor="middle" stroke="#121d33" stroke-width="0.15">"OMD"</text>
<rect x="182.4" y="263.0" width="22" height="8.8" rx="0.8" fill="#5586bc" stroke="#41689a" stroke-width="0.7"/>
<text transform="translate(193.4,269.4) scale(1.12,1)" font-size="5.3" fill="#121d33" text-anchor="middle" stroke="#121d33" stroke-width="0.15">"ELN"</text>
<rect x="211.6" y="263.8" width="22" height="8.8" rx="0.8" fill="#5586bc" stroke="#41689a" stroke-width="0.7"/>
<text transform="translate(222.6,270.2) scale(1.12,1)" font-size="5.3" fill="#121d33" text-anchor="middle" stroke="#121d33" stroke-width="0.15">"KERA"</text>
<rect x="201.9" y="273.9" width="22" height="8.8" rx="0.8" fill="#5586bc" stroke="#41689a" stroke-width="0.7"/>
<text transform="translate(212.9,280.3) scale(1.12,1)" font-size="5.3" fill="#121d33" text-anchor="middle" stroke="#121d33" stroke-width="0.15">"ADCYAP1R1"</text>
<rect x="171.2" y="275.6" width="22" height="8.8" rx="0.8" fill="#5586bc" stroke="#41689a" stroke-width="0.7"/>
<text transform="translate(182.2,282.0) scale(1.12,1)" font-size="5.3" fill="#121d33" text-anchor="middle" stroke="#121d33" stroke-width="0.15">"CHAD"</text>
<rect x="146.7" y="278.3" width="22" height="8.8" rx="0.8" fill="#5586bc" stroke="#41689a" stroke-width="0.7"/>
<text transform="translate(157.7,284.7) scale(1.12,1)" font-size="5.3" fill="#121d33" text-anchor="middle" stroke="#121d33" stroke-width="0.15">"COMP"</text>
<rect x="229.1" y="276.3" width="22" height="8.8" rx="0.8" fill="#5586bc" stroke="#41689a" stroke-width="0.7"/>
<text transform="translate(240.1,282.7) scale(1.12,1)" font-size="5.3" fill="#121d33" text-anchor="middle" stroke="#121d33" stroke-width="0.15">"CAPN6"</text>
<rect x="163.2" y="288.6" width="22" height="8.8" rx="0.8" fill="#5586bc" stroke="#41689a" stroke-width="0.7"/>
<text transform="translate(174.2,295.0) scale(1.12,1)" font-size="5.3" fill="#121d33" text-anchor="middle" stroke="#121d33" stroke-width="0.15">"STAT4"</text>
<rect x="192.8" y="289.0" width="22" height="8.8" rx="0.8" fill="#5586bc" stroke="#41689a" stroke-width="0.7"/>
<text transform="translate(203.8,295.4) scale(1.12,1)" font-size="5.3" fill="#121d33" text-anchor="middle" stroke="#121d33" stroke-width="0.15">"OGDHL"</text>
<rect x="220.4" y="289.5" width="22" height="8.8" rx="0.8" fill="#5586bc" stroke="#41689a" stroke-width="0.7"/>
<text transform="translate(231.4,295.9) scale(1.12,1)" font-size="5.3" fill="#121d33" text-anchor="middle" stroke="#121d33" stroke-width="0.15">"PTGDS"</text>
<rect x="144.7" y="297.1" width="22" height="8.8" rx="0.8" fill="#5586bc" stroke="#41689a" stroke-width="0.7"/>
<text transform="translate(155.7,303.5) scale(1.12,1)" font-size="5.3" fill="#121d33" text-anchor="middle" stroke="#121d33" stroke-width="0.15">"SFRP1"</text>
<rect x="176.0" y="300.0" width="22" height="8.8" rx="0.8" fill="#5586bc" stroke="#41689a" stroke-width="0.7"/>
<text transform="translate(187.0,306.4) scale(1.12,1)" font-size="5.3" fill="#121d33" text-anchor="middle" stroke="#121d33" stroke-width="0.15">"TGFBR3"</text>
<rect x="214.4" y="305.2" width="22" height="8.8" rx="0.8" fill="#5586bc" stroke="#41689a" stroke-width="0.7"/>
<text transform="translate(225.4,311.6) scale(1.12,1)" font-size="5.3" fill="#121d33" text-anchor="middle" stroke="#121d33" stroke-width="0.15">"ALOX12"</text>
<rect x="136.6" y="308.5" width="22" height="8.8" rx="0.8" fill="#5586bc" stroke="#41689a" stroke-width="0.7"/>
<text transform="translate(147.6,314.9) scale(1.12,1)" font-size="5.3" fill="#121d33" text-anchor="middle" stroke="#121d33" stroke-width="0.15">"SLC7A2"</text>
<rect x="168.3" y="311.4" width="22" height="8.8" rx="0.8" fill="#5586bc" stroke="#41689a" stroke-width="0.7"/>
<text transform="translate(179.3,317.8) scale(1.12,1)" font-size="5.3" fill="#121d33" text-anchor="middle" stroke="#121d33" stroke-width="0.15">"TGM3"</text>
<rect x="193.7" y="316.2" width="22" height="8.8" rx="0.8" fill="#5586bc" stroke="#41689a" stroke-width="0.7"/>
<text transform="translate(204.7,322.6) scale(1.12,1)" font-size="5.3" fill="#121d33" text-anchor="middle" stroke="#121d33" stroke-width="0.15">"THBS4"</text>
<rect x="257.1" y="272.4" width="22" height="8.8" rx="0.8" fill="#5586bc" stroke="#41689a" stroke-width="0.7"/>
<text transform="translate(268.1,278.8) scale(1.12,1)" font-size="5.3" fill="#121d33" text-anchor="middle" stroke="#121d33" stroke-width="0.15">"MMP1"</text>
<rect x="248.9" y="289.5" width="22" height="8.8" rx="0.8" fill="#5586bc" stroke="#41689a" stroke-width="0.7"/>
<text transform="translate(259.9,295.9) scale(1.12,1)" font-size="5.3" fill="#121d33" text-anchor="middle" stroke="#121d33" stroke-width="0.15">"MMP3"</text>
<rect x="284.1" y="289.3" width="22" height="8.8" rx="0.8" fill="#5586bc" stroke="#41689a" stroke-width="0.7"/>
<text transform="translate(295.1,295.7) scale(1.12,1)" font-size="5.3" fill="#121d33" text-anchor="middle" stroke="#121d33" stroke-width="0.15">"S100A7A"</text>
<rect x="271.8" y="306.2" width="22" height="8.8" rx="0.8" fill="#5586bc" stroke="#41689a" stroke-width="0.7"/>
<text transform="translate(282.8,312.6) scale(1.12,1)" font-size="5.3" fill="#121d33" text-anchor="middle" stroke="#121d33" stroke-width="0.15">"IL36G"</text>
<rect x="302.8" y="306.5" width="22" height="8.8" rx="0.8" fill="#5586bc" stroke="#41689a" stroke-width="0.7"/>
<text transform="translate(313.8,312.9) scale(1.12,1)" font-size="5.3" fill="#121d33" text-anchor="middle" stroke="#121d33" stroke-width="0.15">"DSC2"</text>
<rect x="240.4" y="310.6" width="22" height="8.8" rx="0.8" fill="#5586bc" stroke="#41689a" stroke-width="0.7"/>
<text transform="translate(251.4,317.0) scale(1.12,1)" font-size="5.3" fill="#121d33" text-anchor="middle" stroke="#121d33" stroke-width="0.15">"PLA2G4"</text>
<rect x="266.8" y="322.6" width="22" height="8.8" rx="0.8" fill="#5586bc" stroke="#41689a" stroke-width="0.7"/>
<text transform="translate(277.8,329.0) scale(1.12,1)" font-size="5.3" fill="#121d33" text-anchor="middle" stroke="#121d33" stroke-width="0.15">"AZGP1"</text>
<rect x="318.0" y="322.3" width="22" height="8.8" rx="0.8" fill="#5586bc" stroke="#41689a" stroke-width="0.7"/>
<text transform="translate(329.0,328.7) scale(1.12,1)" font-size="5.3" fill="#121d33" text-anchor="middle" stroke="#121d33" stroke-width="0.15">"KRT6C"</text>
<rect x="133.0" y="326.0" width="22" height="8.8" rx="0.8" fill="#5586bc" stroke="#41689a" stroke-width="0.7"/>
<text transform="translate(144.0,332.4) scale(1.12,1)" font-size="5.3" fill="#121d33" text-anchor="middle" stroke="#121d33" stroke-width="0.15">"LCE3D"</text>
<rect x="165.8" y="325.9" width="22" height="8.8" rx="0.8" fill="#5586bc" stroke="#41689a" stroke-width="0.7"/>
<text transform="translate(176.8,332.3) scale(1.12,1)" font-size="5.3" fill="#121d33" text-anchor="middle" stroke="#121d33" stroke-width="0.15">"PGR"</text>
<rect x="190.8" y="329.1" width="22" height="8.8" rx="0.8" fill="#5586bc" stroke="#41689a" stroke-width="0.7"/>
<text transform="translate(201.8,335.5) scale(1.12,1)" font-size="5.3" fill="#121d33" text-anchor="middle" stroke="#121d33" stroke-width="0.15">"IL1F6"</text>
<rect x="216.1" y="327.6" width="22" height="8.8" rx="0.8" fill="#5586bc" stroke="#41689a" stroke-width="0.7"/>
<text transform="translate(227.1,334.0) scale(1.12,1)" font-size="5.3" fill="#121d33" text-anchor="middle" stroke="#121d33" stroke-width="0.15">"CAST"</text>
<rect x="254.1" y="331.1" width="22" height="8.8" rx="0.8" fill="#5586bc" stroke="#41689a" stroke-width="0.7"/>
<text transform="translate(265.1,337.5) scale(1.12,1)" font-size="5.3" fill="#121d33" text-anchor="middle" stroke="#121d33" stroke-width="0.15">"KLK5"</text>
<rect x="291.4" y="335.3" width="22" height="8.8" rx="0.8" fill="#5586bc" stroke="#41689a" stroke-width="0.7"/>
<text transform="translate(302.4,341.7) scale(1.12,1)" font-size="5.3" fill="#121d33" text-anchor="middle" stroke="#121d33" stroke-width="0.15">"CALM5"</text>
<rect x="163.5" y="339.5" width="22" height="8.8" rx="0.8" fill="#5586bc" stroke="#41689a" stroke-width="0.7"/>
<text transform="translate(174.5,345.9) scale(1.12,1)" font-size="5.3" fill="#121d33" text-anchor="middle" stroke="#121d33" stroke-width="0.15">"KRT5"</text>
<rect x="203.6" y="340.3" width="22" height="8.8" rx="0.8" fill="#5586bc" stroke="#41689a" stroke-width="0.7"/>
<text transform="translate(214.6,346.7) scale(1.12,1)" font-size="5.3" fill="#121d33" text-anchor="middle" stroke="#121d33" stroke-width="0.15">"KLK7"</text>
<rect x="237.4" y="340.8" width="22" height="8.8" rx="0.8" fill="#5586bc" stroke="#41689a" stroke-width="0.7"/>
<text transform="translate(248.4,347.2) scale(1.12,1)" font-size="5.3" fill="#121d33" text-anchor="middle" stroke="#121d33" stroke-width="0.15">"FGF10"</text>
<rect x="263.4" y="345.6" width="22" height="8.8" rx="0.8" fill="#5586bc" stroke="#41689a" stroke-width="0.7"/>
<text transform="translate(274.4,352.0) scale(1.12,1)" font-size="5.3" fill="#121d33" text-anchor="middle" stroke="#121d33" stroke-width="0.15">"COL1A1"</text>
<rect x="294.0" y="348.9" width="22" height="8.8" rx="0.8" fill="#5586bc" stroke="#41689a" stroke-width="0.7"/>
<text transform="translate(305.0,355.3) scale(1.12,1)" font-size="5.3" fill="#121d33" text-anchor="middle" stroke="#121d33" stroke-width="0.15">"DSG3"</text>
<rect x="112.7" y="345.5" width="22" height="8.8" rx="0.8" fill="#5586bc" stroke="#41689a" stroke-width="0.7"/>
<text transform="translate(123.7,351.9) scale(1.12,1)" font-size="5.3" fill="#121d33" text-anchor="middle" stroke="#121d33" stroke-width="0.15">"CDSN"</text>
<rect x="139.8" y="352.5" width="22" height="8.8" rx="0.8" fill="#5586bc" stroke="#41689a" stroke-width="0.7"/>
<text transform="translate(150.8,358.9) scale(1.12,1)" font-size="5.3" fill="#121d33" text-anchor="middle" stroke="#121d33" stroke-width="0.15">"TNXB"</text>
<rect x="189.1" y="351.8" width="22" height="8.8" rx="0.8" fill="#5586bc" stroke="#41689a" stroke-width="0.7"/>
<text transform="translate(200.1,358.2) scale(1.12,1)" font-size="5.3" fill="#121d33" text-anchor="middle" stroke="#121d33" stroke-width="0.15">"DKK1"</text>
<rect x="215.1" y="353.8" width="22" height="8.8" rx="0.8" fill="#5586bc" stroke="#41689a" stroke-width="0.7"/>
<text transform="translate(226.1,360.2) scale(1.12,1)" font-size="5.3" fill="#121d33" text-anchor="middle" stroke="#121d33" stroke-width="0.15">"KLK10"</text>
<rect x="263.4" y="357.4" width="22" height="8.8" rx="0.8" fill="#5586bc" stroke="#41689a" stroke-width="0.7"/>
<text transform="translate(274.4,363.8) scale(1.12,1)" font-size="5.3" fill="#121d33" text-anchor="middle" stroke="#121d33" stroke-width="0.15">"JPH2"</text>
<rect x="95.5" y="358.5" width="22" height="8.8" rx="0.8" fill="#5586bc" stroke="#41689a" stroke-width="0.7"/>
<text transform="translate(106.5,364.9) scale(1.12,1)" font-size="5.3" fill="#121d33" text-anchor="middle" stroke="#121d33" stroke-width="0.15">"SPRR2E"</text>
<rect x="155.4" y="366.0" width="22" height="8.8" rx="0.8" fill="#5586bc" stroke="#41689a" stroke-width="0.7"/>
<text transform="translate(166.4,372.4) scale(1.12,1)" font-size="5.3" fill="#121d33" text-anchor="middle" stroke="#121d33" stroke-width="0.15">"KRT77"</text>
<rect x="183.1" y="366.0" width="22" height="8.8" rx="0.8" fill="#5586bc" stroke="#41689a" stroke-width="0.7"/>
<text transform="translate(194.1,372.4) scale(1.12,1)" font-size="5.3" fill="#121d33" text-anchor="middle" stroke="#121d33" stroke-width="0.15">"CPA4"</text>
<rect x="212.5" y="369.2" width="22" height="8.8" rx="0.8" fill="#5586bc" stroke="#41689a" stroke-width="0.7"/>
<text transform="translate(223.5,375.6) scale(1.12,1)" font-size="5.3" fill="#121d33" text-anchor="middle" stroke="#121d33" stroke-width="0.15">"KRT14"</text>
<rect x="238.5" y="368.1" width="22" height="8.8" rx="0.8" fill="#5586bc" stroke="#41689a" stroke-width="0.7"/>
<text transform="translate(249.5,374.5) scale(1.12,1)" font-size="5.3" fill="#121d33" text-anchor="middle" stroke="#121d33" stroke-width="0.15">"KRT24"</text>
<rect x="290.1" y="370.0" width="22" height="8.8" rx="0.8" fill="#5586bc" stroke="#41689a" stroke-width="0.7"/>
<text transform="translate(301.1,376.4) scale(1.12,1)" font-size="5.3" fill="#121d33" text-anchor="middle" stroke="#121d33" stroke-width="0.15">"KRT16"</text>
<rect x="129.6" y="379.8" width="22" height="8.8" rx="0.8" fill="#5586bc" stroke="#41689a" stroke-width="0.7"/>
<text transform="translate(140.6,386.2) scale(1.12,1)" font-size="5.3" fill="#121d33" text-anchor="middle" stroke="#121d33" stroke-width="0.15">"CRCT1"</text>
<rect x="242.1" y="383.0" width="22" height="8.8" rx="0.8" fill="#5586bc" stroke="#41689a" stroke-width="0.7"/>
<text transform="translate(253.1,389.4) scale(1.12,1)" font-size="5.3" fill="#121d33" text-anchor="middle" stroke="#121d33" stroke-width="0.15">"CALB1"</text>
<rect x="85.4" y="390.8" width="22" height="8.8" rx="0.8" fill="#5586bc" stroke="#41689a" stroke-width="0.7"/>
<text transform="translate(96.4,397.2) scale(1.12,1)" font-size="5.3" fill="#121d33" text-anchor="middle" stroke="#121d33" stroke-width="0.15">"IVL"</text>
<rect x="197.1" y="389.6" width="22" height="8.8" rx="0.8" fill="#5586bc" stroke="#41689a" stroke-width="0.7"/>
<text transform="translate(208.1,396.0) scale(1.12,1)" font-size="5.3" fill="#121d33" text-anchor="middle" stroke="#121d33" stroke-width="0.15">"KRT17"</text>
<rect x="223.1" y="391.2" width="22" height="8.8" rx="0.8" fill="#5586bc" stroke="#41689a" stroke-width="0.7"/>
<text transform="translate(234.1,397.6) scale(1.12,1)" font-size="5.3" fill="#121d33" text-anchor="middle" stroke="#121d33" stroke-width="0.15">"KLK8"</text>
<rect x="292.7" y="389.3" width="22" height="8.8" rx="0.8" fill="#5586bc" stroke="#41689a" stroke-width="0.7"/>
<text transform="translate(303.7,395.7) scale(1.12,1)" font-size="5.3" fill="#121d33" text-anchor="middle" stroke="#121d33" stroke-width="0.15">"SPRR3"</text>
<rect x="162.7" y="399.8" width="22" height="8.8" rx="0.8" fill="#5586bc" stroke="#41689a" stroke-width="0.7"/>
<text transform="translate(173.7,406.2) scale(1.12,1)" font-size="5.3" fill="#121d33" text-anchor="middle" stroke="#121d33" stroke-width="0.15">"LCE3E"</text>
<rect x="254.7" y="397.0" width="22" height="8.8" rx="0.8" fill="#5586bc" stroke="#41689a" stroke-width="0.7"/>
<text transform="translate(265.7,403.4) scale(1.12,1)" font-size="5.3" fill="#121d33" text-anchor="middle" stroke="#121d33" stroke-width="0.15">"TGM1"</text>
<rect x="266.8" y="410.1" width="22" height="8.8" rx="0.8" fill="#5586bc" stroke="#41689a" stroke-width="0.7"/>
<text transform="translate(277.8,416.5) scale(1.12,1)" font-size="5.3" fill="#121d33" text-anchor="middle" stroke="#121d33" stroke-width="0.15">"SLPI"</text>
<rect x="223.9" y="411.1" width="22" height="8.8" rx="0.8" fill="#5586bc" stroke="#41689a" stroke-width="0.7"/>
<text transform="translate(234.9,417.5) scale(1.12,1)" font-size="5.3" fill="#121d33" text-anchor="middle" stroke="#121d33" stroke-width="0.15">"CLCA2"</text>
<rect x="106.3" y="416.5" width="22" height="8.8" rx="0.8" fill="#5586bc" stroke="#41689a" stroke-width="0.7"/>
<text transform="translate(117.3,422.9) scale(1.12,1)" font-size="5.3" fill="#121d33" text-anchor="middle" stroke="#121d33" stroke-width="0.15">"SPRR1A"</text>
<rect x="177.3" y="417.5" width="22" height="8.8" rx="0.8" fill="#5586bc" stroke="#41689a" stroke-width="0.7"/>
<text transform="translate(188.3,423.9) scale(1.12,1)" font-size="5.3" fill="#121d33" text-anchor="middle" stroke="#121d33" stroke-width="0.15">"CNFN"</text>
<rect x="289.5" y="418.1" width="22" height="8.8" rx="0.8" fill="#5586bc" stroke="#41689a" stroke-width="0.7"/>
<text transform="translate(300.5,424.5) scale(1.12,1)" font-size="5.3" fill="#121d33" text-anchor="middle" stroke="#121d33" stroke-width="0.15">"S100A2"</text>
<rect x="208.8" y="423.0" width="22" height="8.8" rx="0.8" fill="#5586bc" stroke="#41689a" stroke-width="0.7"/>
<text transform="translate(219.8,429.4) scale(1.12,1)" font-size="5.3" fill="#121d33" text-anchor="middle" stroke="#121d33" stroke-width="0.15">"SERPINB3"</text>
<rect x="242.1" y="422.5" width="22" height="8.8" rx="0.8" fill="#5586bc" stroke="#41689a" stroke-width="0.7"/>
<text transform="translate(253.1,428.9) scale(1.12,1)" font-size="5.3" fill="#121d33" text-anchor="middle" stroke="#121d33" stroke-width="0.15">"CASP14"</text>
<rect x="148.9" y="426.7" width="22" height="8.8" rx="0.8" fill="#5586bc" stroke="#41689a" stroke-width="0.7"/>
<text transform="translate(159.9,433.1) scale(1.12,1)" font-size="5.3" fill="#121d33" text-anchor="middle" stroke="#121d33" stroke-width="0.15">"KRT6A"</text>
<rect x="236.2" y="437.1" width="22" height="8.8" rx="0.8" fill="#5586bc" stroke="#41689a" stroke-width="0.7"/>
<text transform="translate(247.2,443.5) scale(1.12,1)" font-size="5.3" fill="#121d33" text-anchor="middle" stroke="#121d33" stroke-width="0.15">"S100A9"</text>
<rect x="100.3" y="441.0" width="22" height="8.8" rx="0.8" fill="#5586bc" stroke="#41689a" stroke-width="0.7"/>
<text transform="translate(111.3,447.4) scale(1.12,1)" font-size="5.3" fill="#121d33" text-anchor="middle" stroke="#121d33" stroke-width="0.15">"SPRR2B"</text>
<rect x="142.4" y="452.2" width="22" height="8.8" rx="0.8" fill="#5586bc" stroke="#41689a" stroke-width="0.7"/>
<text transform="translate(153.4,458.6) scale(1.12,1)" font-size="5.3" fill="#121d33" text-anchor="middle" stroke="#121d33" stroke-width="0.15">"TTR"</text>
<rect x="174.4" y="455.4" width="22" height="8.8" rx="0.8" fill="#5586bc" stroke="#41689a" stroke-width="0.7"/>
<text transform="translate(185.4,461.8) scale(1.12,1)" font-size="5.3" fill="#121d33" text-anchor="middle" stroke="#121d33" stroke-width="0.15">"MMP7"</text>
<rect x="206.4" y="453.7" width="22" height="8.8" rx="0.8" fill="#5586bc" stroke="#41689a" stroke-width="0.7"/>
<text transform="translate(217.4,460.1) scale(1.12,1)" font-size="5.3" fill="#121d33" text-anchor="middle" stroke="#121d33" stroke-width="0.15">"PI3"</text>
<rect x="230.1" y="457.6" width="22" height="8.8" rx="0.8" fill="#5586bc" stroke="#41689a" stroke-width="0.7"/>
<text transform="translate(241.1,464.0) scale(1.12,1)" font-size="5.3" fill="#121d33" text-anchor="middle" stroke="#121d33" stroke-width="0.15">"RPTN"</text>
<rect x="284.6" y="450.8" width="22" height="8.8" rx="0.8" fill="#5586bc" stroke="#41689a" stroke-width="0.7"/>
<text transform="translate(295.6,457.2) scale(1.12,1)" font-size="5.3" fill="#121d33" text-anchor="middle" stroke="#121d33" stroke-width="0.15">"PKP1"</text>
<rect x="96.1" y="469.4" width="22" height="8.8" rx="0.8" fill="#5586bc" stroke="#41689a" stroke-width="0.7"/>
<text transform="translate(107.1,475.8) scale(1.12,1)" font-size="5.3" fill="#121d33" text-anchor="middle" stroke="#121d33" stroke-width="0.15">"SPRR2D"</text>
<rect x="140.6" y="474.6" width="22" height="8.8" rx="0.8" fill="#5586bc" stroke="#41689a" stroke-width="0.7"/>
<text transform="translate(151.6,481.0) scale(1.12,1)" font-size="5.3" fill="#121d33" text-anchor="middle" stroke="#121d33" stroke-width="0.15">"SPRR2F"</text>
<rect x="209.4" y="475.7" width="22" height="8.8" rx="0.8" fill="#5586bc" stroke="#41689a" stroke-width="0.7"/>
<text transform="translate(220.4,482.1) scale(1.12,1)" font-size="5.3" fill="#121d33" text-anchor="middle" stroke="#121d33" stroke-width="0.15">"DSP"</text>
<rect x="254.9" y="481.2" width="22" height="8.8" rx="0.8" fill="#5586bc" stroke="#41689a" stroke-width="0.7"/>
<text transform="translate(265.9,487.6) scale(1.12,1)" font-size="5.3" fill="#121d33" text-anchor="middle" stroke="#121d33" stroke-width="0.15">"SPRR2A"</text>
<rect x="279.4" y="473.0" width="22" height="8.8" rx="0.8" fill="#5586bc" stroke="#41689a" stroke-width="0.7"/>
<text transform="translate(290.4,479.4) scale(1.12,1)" font-size="5.3" fill="#121d33" text-anchor="middle" stroke="#121d33" stroke-width="0.15">"S100A8"</text>
<rect x="191.7" y="491.7" width="22" height="8.8" rx="0.8" fill="#5586bc" stroke="#41689a" stroke-width="0.7"/>
<text transform="translate(202.7,498.1) scale(1.12,1)" font-size="5.3" fill="#121d33" text-anchor="middle" stroke="#121d33" stroke-width="0.15">"S100A7"</text>
</g>
</g>
</svg>
</body></html>
